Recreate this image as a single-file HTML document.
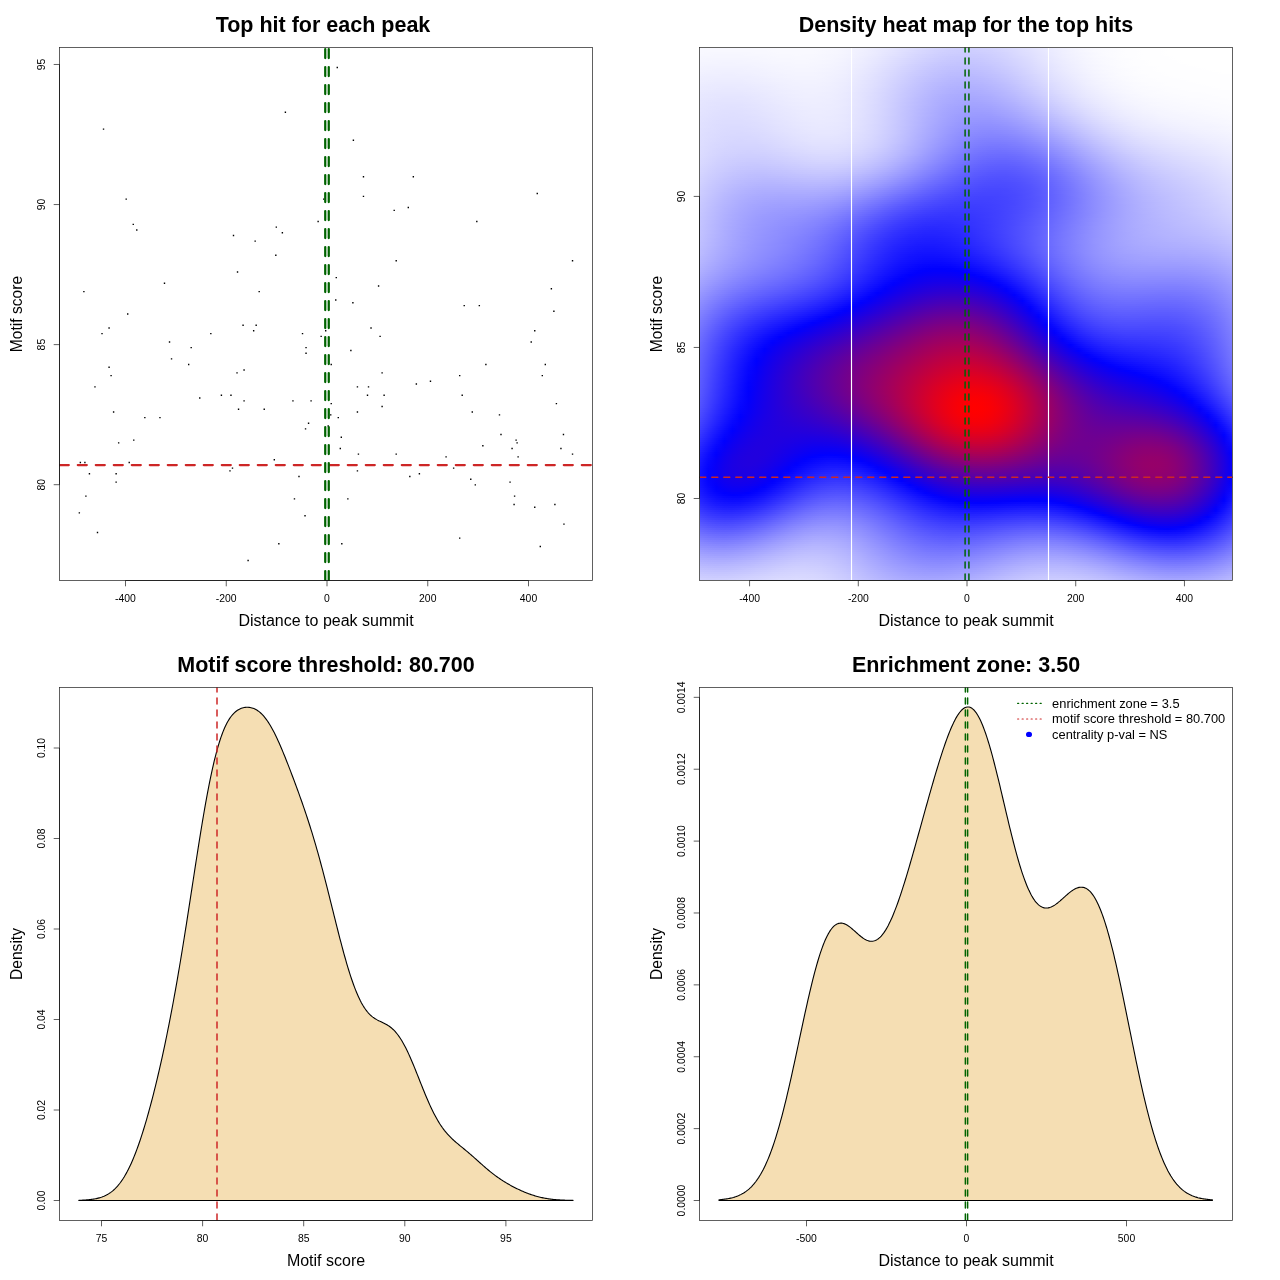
<!DOCTYPE html>
<html><head><meta charset="utf-8"><title>Motif enrichment plots</title>
<style>
html,body{margin:0;padding:0;background:#fff}
body{position:relative;width:1280px;height:1280px;overflow:hidden;font-family:"Liberation Sans",sans-serif}
#hm{position:absolute;left:700px;top:48px;width:532px;height:532px;line-height:0;font-size:0}
#hm i{display:block;width:532px;height:2px}
svg{position:absolute;left:0;top:0;will-change:transform}
text{font-family:"Liberation Sans",sans-serif;fill:#000}
</style></head><body>
<div id="hm"><i style="background:linear-gradient(90deg,#f9f9ff,#f8f8ff,#f8f8ff,#f8f8ff,#f8f8ff,#f8f8ff,#f8f8ff,#f9f9ff,#f9f9ff,#f9f9ff,#fafaff,#fafaff,#fafaff,#fafaff,#f9f9ff,#f9f9ff,#f8f8ff,#f7f7ff,#f5f5ff,#f3f3ff,#f1f1ff,#eeeeff,#ebebff,#e8e8ff,#e5e5ff,#e1e1ff,#dedeff,#dbdbff,#d8d8ff,#d5d5ff,#d3d3ff,#d1d1ff,#d0d0ff,#d0d0ff,#d0d0ff,#d1d1ff,#d3d3ff,#d5d5ff,#d8d8ff,#dbdbff,#dfdfff,#e2e2ff,#e6e6ff,#e9e9ff,#ededff,#f0f0ff,#f3f3ff,#f5f5ff,#f7f7ff,#f9f9ff,#fafaff,#fbfbff,#fcfcff,#fdfdff,#fefeff,#fefeff,#fefeff,#fefeff,#ffffff,#ffffff,#ffffff,#ffffff,#ffffff,#ffffff,#ffffff,#ffffff,#ffffff)"></i><i style="background:linear-gradient(90deg,#f8f8ff,#f8f8ff,#f8f8ff,#f8f8ff,#f8f8ff,#f8f8ff,#f8f8ff,#f8f8ff,#f8f8ff,#f9f9ff,#f9f9ff,#f9f9ff,#f9f9ff,#f9f9ff,#f9f9ff,#f8f8ff,#f7f7ff,#f6f6ff,#f4f4ff,#f2f2ff,#f0f0ff,#ededff,#eaeaff,#e7e7ff,#e4e4ff,#e0e0ff,#ddddff,#d9d9ff,#d6d6ff,#d3d3ff,#d1d1ff,#cfcfff,#ceceff,#ceceff,#ceceff,#d0d0ff,#d1d1ff,#d4d4ff,#d7d7ff,#dadaff,#dedeff,#e1e1ff,#e5e5ff,#e9e9ff,#ececff,#efefff,#f2f2ff,#f5f5ff,#f7f7ff,#f9f9ff,#fafaff,#fbfbff,#fcfcff,#fdfdff,#fdfdff,#fefeff,#fefeff,#fefeff,#ffffff,#ffffff,#ffffff,#ffffff,#ffffff,#ffffff,#ffffff,#ffffff,#ffffff)"></i><i style="background:linear-gradient(90deg,#f8f8ff,#f7f7ff,#f7f7ff,#f7f7ff,#f7f7ff,#f7f7ff,#f7f7ff,#f8f8ff,#f8f8ff,#f8f8ff,#f9f9ff,#f9f9ff,#f9f9ff,#f9f9ff,#f9f9ff,#f8f8ff,#f7f7ff,#f6f6ff,#f4f4ff,#f2f2ff,#efefff,#ededff,#eaeaff,#e6e6ff,#e3e3ff,#dfdfff,#dbdbff,#d8d8ff,#d5d5ff,#d2d2ff,#cfcfff,#ceceff,#cdcdff,#ccccff,#cdcdff,#ceceff,#d0d0ff,#d2d2ff,#d5d5ff,#d9d9ff,#ddddff,#e0e0ff,#e4e4ff,#e8e8ff,#ebebff,#efefff,#f2f2ff,#f4f4ff,#f6f6ff,#f8f8ff,#fafaff,#fbfbff,#fcfcff,#fdfdff,#fdfdff,#fefeff,#fefeff,#fefeff,#ffffff,#ffffff,#ffffff,#ffffff,#ffffff,#ffffff,#ffffff,#ffffff,#ffffff)"></i><i style="background:linear-gradient(90deg,#f7f7ff,#f7f7ff,#f6f6ff,#f6f6ff,#f6f6ff,#f6f6ff,#f7f7ff,#f7f7ff,#f7f7ff,#f8f8ff,#f8f8ff,#f8f8ff,#f9f9ff,#f8f8ff,#f8f8ff,#f7f7ff,#f6f6ff,#f5f5ff,#f3f3ff,#f1f1ff,#efefff,#ececff,#e9e9ff,#e5e5ff,#e2e2ff,#dedeff,#dadaff,#d6d6ff,#d3d3ff,#d0d0ff,#ceceff,#ccccff,#cbcbff,#cbcbff,#cbcbff,#ccccff,#ceceff,#d1d1ff,#d4d4ff,#d8d8ff,#dcdcff,#dfdfff,#e3e3ff,#e7e7ff,#ebebff,#eeeeff,#f1f1ff,#f4f4ff,#f6f6ff,#f8f8ff,#fafaff,#fbfbff,#fcfcff,#fdfdff,#fdfdff,#fefeff,#fefeff,#fefeff,#ffffff,#ffffff,#ffffff,#ffffff,#ffffff,#ffffff,#ffffff,#ffffff,#ffffff)"></i><i style="background:linear-gradient(90deg,#f6f6ff,#f6f6ff,#f6f6ff,#f6f6ff,#f6f6ff,#f6f6ff,#f6f6ff,#f6f6ff,#f7f7ff,#f7f7ff,#f8f8ff,#f8f8ff,#f8f8ff,#f8f8ff,#f8f8ff,#f7f7ff,#f6f6ff,#f5f5ff,#f3f3ff,#f1f1ff,#eeeeff,#ebebff,#e8e8ff,#e4e4ff,#e0e0ff,#ddddff,#d9d9ff,#d5d5ff,#d2d2ff,#cfcfff,#ccccff,#cacaff,#c9c9ff,#c9c9ff,#cacaff,#cbcbff,#cdcdff,#d0d0ff,#d3d3ff,#d7d7ff,#dadaff,#dedeff,#e3e3ff,#e6e6ff,#eaeaff,#eeeeff,#f1f1ff,#f3f3ff,#f6f6ff,#f8f8ff,#f9f9ff,#fbfbff,#fcfcff,#fdfdff,#fdfdff,#fefeff,#fefeff,#fefeff,#fefeff,#ffffff,#ffffff,#ffffff,#ffffff,#ffffff,#ffffff,#ffffff,#ffffff)"></i><i style="background:linear-gradient(90deg,#f6f6ff,#f5f5ff,#f5f5ff,#f5f5ff,#f5f5ff,#f5f5ff,#f5f5ff,#f6f6ff,#f6f6ff,#f7f7ff,#f7f7ff,#f7f7ff,#f8f8ff,#f8f8ff,#f7f7ff,#f7f7ff,#f6f6ff,#f4f4ff,#f2f2ff,#f0f0ff,#ededff,#eaeaff,#e7e7ff,#e3e3ff,#dfdfff,#dbdbff,#d7d7ff,#d4d4ff,#d0d0ff,#cdcdff,#cbcbff,#c9c9ff,#c8c8ff,#c8c8ff,#c8c8ff,#c9c9ff,#ccccff,#ceceff,#d2d2ff,#d5d5ff,#d9d9ff,#ddddff,#e2e2ff,#e6e6ff,#e9e9ff,#ededff,#f0f0ff,#f3f3ff,#f5f5ff,#f7f7ff,#f9f9ff,#fafaff,#fcfcff,#fcfcff,#fdfdff,#fefeff,#fefeff,#fefeff,#fefeff,#ffffff,#ffffff,#ffffff,#ffffff,#ffffff,#ffffff,#ffffff,#ffffff)"></i><i style="background:linear-gradient(90deg,#f5f5ff,#f5f5ff,#f4f4ff,#f4f4ff,#f4f4ff,#f4f4ff,#f5f5ff,#f5f5ff,#f6f6ff,#f6f6ff,#f7f7ff,#f7f7ff,#f7f7ff,#f7f7ff,#f7f7ff,#f6f6ff,#f5f5ff,#f4f4ff,#f2f2ff,#efefff,#ededff,#e9e9ff,#e6e6ff,#e2e2ff,#dedeff,#dadaff,#d6d6ff,#d2d2ff,#cfcfff,#ccccff,#c9c9ff,#c7c7ff,#c6c6ff,#c6c6ff,#c6c6ff,#c8c8ff,#cacaff,#cdcdff,#d0d0ff,#d4d4ff,#d8d8ff,#dcdcff,#e1e1ff,#e5e5ff,#e9e9ff,#ececff,#f0f0ff,#f2f2ff,#f5f5ff,#f7f7ff,#f9f9ff,#fafaff,#fbfbff,#fcfcff,#fdfdff,#fdfdff,#fefeff,#fefeff,#fefeff,#fefeff,#ffffff,#ffffff,#ffffff,#ffffff,#ffffff,#ffffff,#ffffff)"></i><i style="background:linear-gradient(90deg,#f4f4ff,#f4f4ff,#f4f4ff,#f3f3ff,#f3f3ff,#f4f4ff,#f4f4ff,#f4f4ff,#f5f5ff,#f6f6ff,#f6f6ff,#f6f6ff,#f7f7ff,#f7f7ff,#f6f6ff,#f6f6ff,#f5f5ff,#f3f3ff,#f1f1ff,#efefff,#ececff,#e9e9ff,#e5e5ff,#e1e1ff,#ddddff,#d9d9ff,#d5d5ff,#d1d1ff,#cdcdff,#cacaff,#c7c7ff,#c6c6ff,#c4c4ff,#c4c4ff,#c5c5ff,#c6c6ff,#c9c9ff,#cbcbff,#cfcfff,#d3d3ff,#d7d7ff,#dbdbff,#e0e0ff,#e4e4ff,#e8e8ff,#ececff,#efefff,#f2f2ff,#f5f5ff,#f7f7ff,#f9f9ff,#fafaff,#fbfbff,#fcfcff,#fdfdff,#fdfdff,#fefeff,#fefeff,#fefeff,#fefeff,#ffffff,#ffffff,#ffffff,#ffffff,#ffffff,#ffffff,#ffffff)"></i><i style="background:linear-gradient(90deg,#f4f4ff,#f3f3ff,#f3f3ff,#f3f3ff,#f3f3ff,#f3f3ff,#f3f3ff,#f4f4ff,#f4f4ff,#f5f5ff,#f5f5ff,#f6f6ff,#f6f6ff,#f6f6ff,#f6f6ff,#f5f5ff,#f4f4ff,#f3f3ff,#f1f1ff,#eeeeff,#ebebff,#e8e8ff,#e4e4ff,#e0e0ff,#dcdcff,#d8d8ff,#d3d3ff,#cfcfff,#ccccff,#c8c8ff,#c6c6ff,#c4c4ff,#c3c3ff,#c3c3ff,#c3c3ff,#c5c5ff,#c7c7ff,#cacaff,#ceceff,#d2d2ff,#d6d6ff,#dadaff,#dfdfff,#e3e3ff,#e7e7ff,#ebebff,#eeeeff,#f1f1ff,#f4f4ff,#f6f6ff,#f8f8ff,#fafaff,#fbfbff,#fcfcff,#fdfdff,#fdfdff,#fefeff,#fefeff,#fefeff,#fefeff,#fefeff,#ffffff,#ffffff,#ffffff,#ffffff,#ffffff,#ffffff)"></i><i style="background:linear-gradient(90deg,#f3f3ff,#f2f2ff,#f2f2ff,#f2f2ff,#f2f2ff,#f2f2ff,#f2f2ff,#f3f3ff,#f4f4ff,#f4f4ff,#f5f5ff,#f5f5ff,#f6f6ff,#f6f6ff,#f5f5ff,#f5f5ff,#f4f4ff,#f2f2ff,#f0f0ff,#eeeeff,#ebebff,#e7e7ff,#e3e3ff,#dfdfff,#dbdbff,#d6d6ff,#d2d2ff,#ceceff,#cacaff,#c7c7ff,#c4c4ff,#c2c2ff,#c1c1ff,#c1c1ff,#c2c2ff,#c3c3ff,#c5c5ff,#c9c9ff,#ccccff,#d0d0ff,#d5d5ff,#d9d9ff,#dedeff,#e2e2ff,#e6e6ff,#eaeaff,#eeeeff,#f1f1ff,#f4f4ff,#f6f6ff,#f8f8ff,#f9f9ff,#fbfbff,#fcfcff,#fcfcff,#fdfdff,#fdfdff,#fefeff,#fefeff,#fefeff,#fefeff,#fefeff,#ffffff,#ffffff,#ffffff,#ffffff,#ffffff)"></i><i style="background:linear-gradient(90deg,#f2f2ff,#f2f2ff,#f1f1ff,#f1f1ff,#f1f1ff,#f1f1ff,#f2f2ff,#f2f2ff,#f3f3ff,#f4f4ff,#f4f4ff,#f5f5ff,#f5f5ff,#f5f5ff,#f5f5ff,#f4f4ff,#f3f3ff,#f2f2ff,#f0f0ff,#ededff,#eaeaff,#e6e6ff,#e2e2ff,#dedeff,#dadaff,#d5d5ff,#d1d1ff,#cdcdff,#c9c9ff,#c5c5ff,#c3c3ff,#c1c1ff,#c0c0ff,#bfbfff,#c0c0ff,#c2c2ff,#c4c4ff,#c7c7ff,#cbcbff,#cfcfff,#d3d3ff,#d8d8ff,#ddddff,#e1e1ff,#e6e6ff,#eaeaff,#ededff,#f0f0ff,#f3f3ff,#f6f6ff,#f8f8ff,#f9f9ff,#fafaff,#fbfbff,#fcfcff,#fdfdff,#fdfdff,#fefeff,#fefeff,#fefeff,#fefeff,#fefeff,#fefeff,#ffffff,#ffffff,#ffffff,#ffffff)"></i><i style="background:linear-gradient(90deg,#f2f2ff,#f1f1ff,#f0f0ff,#f0f0ff,#f0f0ff,#f0f0ff,#f1f1ff,#f1f1ff,#f2f2ff,#f3f3ff,#f4f4ff,#f4f4ff,#f5f5ff,#f5f5ff,#f5f5ff,#f4f4ff,#f3f3ff,#f1f1ff,#efefff,#ececff,#e9e9ff,#e6e6ff,#e2e2ff,#ddddff,#d9d9ff,#d4d4ff,#d0d0ff,#cbcbff,#c7c7ff,#c4c4ff,#c1c1ff,#bfbfff,#bebeff,#bebeff,#bebeff,#c0c0ff,#c2c2ff,#c6c6ff,#c9c9ff,#ceceff,#d2d2ff,#d7d7ff,#dcdcff,#e0e0ff,#e5e5ff,#e9e9ff,#ededff,#f0f0ff,#f3f3ff,#f5f5ff,#f7f7ff,#f9f9ff,#fafaff,#fbfbff,#fcfcff,#fdfdff,#fdfdff,#fefeff,#fefeff,#fefeff,#fefeff,#fefeff,#fefeff,#fefeff,#ffffff,#ffffff,#ffffff)"></i><i style="background:linear-gradient(90deg,#f1f1ff,#f0f0ff,#f0f0ff,#efefff,#efefff,#f0f0ff,#f0f0ff,#f1f1ff,#f1f1ff,#f2f2ff,#f3f3ff,#f4f4ff,#f4f4ff,#f4f4ff,#f4f4ff,#f3f3ff,#f2f2ff,#f1f1ff,#efefff,#ececff,#e9e9ff,#e5e5ff,#e1e1ff,#dcdcff,#d8d8ff,#d3d3ff,#ceceff,#cacaff,#c6c6ff,#c2c2ff,#c0c0ff,#bdbdff,#bcbcff,#bcbcff,#bdbdff,#bebeff,#c1c1ff,#c4c4ff,#c8c8ff,#ccccff,#d1d1ff,#d6d6ff,#dbdbff,#dfdfff,#e4e4ff,#e8e8ff,#ececff,#efefff,#f2f2ff,#f5f5ff,#f7f7ff,#f8f8ff,#fafaff,#fbfbff,#fcfcff,#fdfdff,#fdfdff,#fdfdff,#fefeff,#fefeff,#fefeff,#fefeff,#fefeff,#fefeff,#fefeff,#ffffff,#ffffff)"></i><i style="background:linear-gradient(90deg,#f0f0ff,#efefff,#efefff,#eeeeff,#eeeeff,#efefff,#efefff,#f0f0ff,#f1f1ff,#f2f2ff,#f2f2ff,#f3f3ff,#f4f4ff,#f4f4ff,#f4f4ff,#f3f3ff,#f2f2ff,#f0f0ff,#eeeeff,#ebebff,#e8e8ff,#e4e4ff,#e0e0ff,#dcdcff,#d7d7ff,#d2d2ff,#cdcdff,#c9c9ff,#c5c5ff,#c1c1ff,#bebeff,#bcbcff,#bbbbff,#babaff,#bbbbff,#bdbdff,#bfbfff,#c2c2ff,#c6c6ff,#cbcbff,#d0d0ff,#d4d4ff,#d9d9ff,#dedeff,#e3e3ff,#e7e7ff,#ebebff,#eeeeff,#f1f1ff,#f4f4ff,#f6f6ff,#f8f8ff,#fafaff,#fbfbff,#fcfcff,#fcfcff,#fdfdff,#fdfdff,#fefeff,#fefeff,#fefeff,#fefeff,#fefeff,#fefeff,#fefeff,#fefeff,#fefeff)"></i><i style="background:linear-gradient(90deg,#efefff,#eeeeff,#eeeeff,#eeeeff,#eeeeff,#eeeeff,#eeeeff,#efefff,#f0f0ff,#f1f1ff,#f2f2ff,#f3f3ff,#f3f3ff,#f3f3ff,#f3f3ff,#f3f3ff,#f1f1ff,#f0f0ff,#eeeeff,#ebebff,#e7e7ff,#e4e4ff,#dfdfff,#dbdbff,#d6d6ff,#d1d1ff,#ccccff,#c7c7ff,#c3c3ff,#c0c0ff,#bdbdff,#babaff,#b9b9ff,#b9b9ff,#b9b9ff,#bbbbff,#bebeff,#c1c1ff,#c5c5ff,#c9c9ff,#ceceff,#d3d3ff,#d8d8ff,#ddddff,#e2e2ff,#e6e6ff,#eaeaff,#eeeeff,#f1f1ff,#f4f4ff,#f6f6ff,#f8f8ff,#f9f9ff,#fafaff,#fbfbff,#fcfcff,#fdfdff,#fdfdff,#fdfdff,#fefeff,#fefeff,#fefeff,#fefeff,#fefeff,#fefeff,#fefeff,#fefeff)"></i><i style="background:linear-gradient(90deg,#eeeeff,#eeeeff,#ededff,#ededff,#ededff,#ededff,#eeeeff,#eeeeff,#efefff,#f0f0ff,#f1f1ff,#f2f2ff,#f3f3ff,#f3f3ff,#f3f3ff,#f2f2ff,#f1f1ff,#efefff,#ededff,#eaeaff,#e7e7ff,#e3e3ff,#dfdfff,#dadaff,#d5d5ff,#d0d0ff,#cbcbff,#c6c6ff,#c2c2ff,#bebeff,#bbbbff,#b9b9ff,#b7b7ff,#b7b7ff,#b8b8ff,#b9b9ff,#bcbcff,#bfbfff,#c3c3ff,#c8c8ff,#cdcdff,#d2d2ff,#d7d7ff,#dcdcff,#e1e1ff,#e5e5ff,#e9e9ff,#ededff,#f0f0ff,#f3f3ff,#f5f5ff,#f7f7ff,#f9f9ff,#fafaff,#fbfbff,#fcfcff,#fcfcff,#fdfdff,#fdfdff,#fdfdff,#fefeff,#fefeff,#fefeff,#fefeff,#fefeff,#fefeff,#fefeff)"></i><i style="background:linear-gradient(90deg,#eeeeff,#ededff,#ececff,#ececff,#ececff,#ececff,#ededff,#eeeeff,#efefff,#f0f0ff,#f1f1ff,#f1f1ff,#f2f2ff,#f2f2ff,#f2f2ff,#f2f2ff,#f1f1ff,#efefff,#ededff,#eaeaff,#e6e6ff,#e2e2ff,#dedeff,#d9d9ff,#d4d4ff,#cfcfff,#cacaff,#c5c5ff,#c1c1ff,#bdbdff,#babaff,#b7b7ff,#b6b6ff,#b6b6ff,#b6b6ff,#b8b8ff,#babaff,#bebeff,#c2c2ff,#c6c6ff,#cbcbff,#d0d0ff,#d6d6ff,#dbdbff,#e0e0ff,#e4e4ff,#e8e8ff,#ececff,#efefff,#f2f2ff,#f5f5ff,#f7f7ff,#f8f8ff,#fafaff,#fbfbff,#fcfcff,#fcfcff,#fdfdff,#fdfdff,#fdfdff,#fdfdff,#fefeff,#fefeff,#fefeff,#fefeff,#fefeff,#fefeff)"></i><i style="background:linear-gradient(90deg,#ededff,#ececff,#ebebff,#ebebff,#ebebff,#ebebff,#ececff,#ededff,#eeeeff,#efefff,#f0f0ff,#f1f1ff,#f1f1ff,#f2f2ff,#f2f2ff,#f1f1ff,#f0f0ff,#eeeeff,#ececff,#e9e9ff,#e6e6ff,#e2e2ff,#ddddff,#d8d8ff,#d3d3ff,#ceceff,#c9c9ff,#c4c4ff,#bfbfff,#bbbbff,#b8b8ff,#b6b6ff,#b4b4ff,#b4b4ff,#b5b5ff,#b6b6ff,#b9b9ff,#bcbcff,#c0c0ff,#c5c5ff,#cacaff,#cfcfff,#d4d4ff,#dadaff,#dedeff,#e3e3ff,#e7e7ff,#ebebff,#efefff,#f2f2ff,#f4f4ff,#f6f6ff,#f8f8ff,#f9f9ff,#fafaff,#fbfbff,#fcfcff,#fcfcff,#fdfdff,#fdfdff,#fdfdff,#fdfdff,#fefeff,#fefeff,#fefeff,#fefeff,#fefeff)"></i><i style="background:linear-gradient(90deg,#ececff,#ebebff,#eaeaff,#eaeaff,#eaeaff,#eaeaff,#ebebff,#ececff,#ededff,#eeeeff,#efefff,#f0f0ff,#f1f1ff,#f1f1ff,#f1f1ff,#f1f1ff,#f0f0ff,#eeeeff,#ececff,#e9e9ff,#e5e5ff,#e1e1ff,#ddddff,#d8d8ff,#d2d2ff,#cdcdff,#c8c8ff,#c3c3ff,#bebeff,#babaff,#b7b7ff,#b4b4ff,#b3b3ff,#b2b2ff,#b3b3ff,#b4b4ff,#b7b7ff,#babaff,#bebeff,#c3c3ff,#c8c8ff,#ceceff,#d3d3ff,#d8d8ff,#ddddff,#e2e2ff,#e6e6ff,#eaeaff,#eeeeff,#f1f1ff,#f3f3ff,#f6f6ff,#f7f7ff,#f9f9ff,#fafaff,#fbfbff,#fcfcff,#fcfcff,#fdfdff,#fdfdff,#fdfdff,#fdfdff,#fdfdff,#fefeff,#fefeff,#fefeff,#fefeff)"></i><i style="background:linear-gradient(90deg,#ebebff,#eaeaff,#eaeaff,#e9e9ff,#e9e9ff,#eaeaff,#eaeaff,#ebebff,#ececff,#ededff,#efefff,#f0f0ff,#f0f0ff,#f1f1ff,#f1f1ff,#f0f0ff,#efefff,#eeeeff,#ebebff,#e8e8ff,#e5e5ff,#e1e1ff,#dcdcff,#d7d7ff,#d2d2ff,#ccccff,#c7c7ff,#c2c2ff,#bdbdff,#b9b9ff,#b5b5ff,#b3b3ff,#b1b1ff,#b1b1ff,#b1b1ff,#b3b3ff,#b5b5ff,#b9b9ff,#bdbdff,#c1c1ff,#c7c7ff,#ccccff,#d1d1ff,#d7d7ff,#dcdcff,#e1e1ff,#e5e5ff,#e9e9ff,#ededff,#f0f0ff,#f3f3ff,#f5f5ff,#f7f7ff,#f8f8ff,#fafaff,#fafaff,#fbfbff,#fcfcff,#fcfcff,#fdfdff,#fdfdff,#fdfdff,#fdfdff,#fdfdff,#fefeff,#fefeff,#fefeff)"></i><i style="background:linear-gradient(90deg,#ebebff,#eaeaff,#e9e9ff,#e8e8ff,#e8e8ff,#e9e9ff,#e9e9ff,#eaeaff,#ececff,#ededff,#eeeeff,#efefff,#f0f0ff,#f0f0ff,#f0f0ff,#f0f0ff,#efefff,#ededff,#ebebff,#e8e8ff,#e4e4ff,#e0e0ff,#dbdbff,#d6d6ff,#d1d1ff,#cbcbff,#c6c6ff,#c1c1ff,#bcbcff,#b8b8ff,#b4b4ff,#b1b1ff,#b0b0ff,#afafff,#b0b0ff,#b1b1ff,#b4b4ff,#b7b7ff,#bbbbff,#c0c0ff,#c5c5ff,#cacaff,#d0d0ff,#d5d5ff,#dbdbff,#e0e0ff,#e4e4ff,#e8e8ff,#ececff,#efefff,#f2f2ff,#f4f4ff,#f6f6ff,#f8f8ff,#f9f9ff,#fafaff,#fbfbff,#fbfbff,#fcfcff,#fcfcff,#fdfdff,#fdfdff,#fdfdff,#fdfdff,#fdfdff,#fefeff,#fefeff)"></i><i style="background:linear-gradient(90deg,#eaeaff,#e9e9ff,#e8e8ff,#e8e8ff,#e8e8ff,#e8e8ff,#e9e9ff,#eaeaff,#ebebff,#ececff,#ededff,#eeeeff,#efefff,#f0f0ff,#f0f0ff,#f0f0ff,#efefff,#ededff,#ebebff,#e8e8ff,#e4e4ff,#e0e0ff,#dbdbff,#d6d6ff,#d0d0ff,#cbcbff,#c5c5ff,#c0c0ff,#bbbbff,#b6b6ff,#b3b3ff,#b0b0ff,#aeaeff,#aeaeff,#aeaeff,#afafff,#b2b2ff,#b5b5ff,#b9b9ff,#bebeff,#c3c3ff,#c9c9ff,#ceceff,#d4d4ff,#d9d9ff,#dedeff,#e3e3ff,#e7e7ff,#ebebff,#eeeeff,#f1f1ff,#f4f4ff,#f6f6ff,#f7f7ff,#f9f9ff,#fafaff,#fafaff,#fbfbff,#fcfcff,#fcfcff,#fcfcff,#fdfdff,#fdfdff,#fdfdff,#fdfdff,#fdfdff,#fdfdff)"></i><i style="background:linear-gradient(90deg,#e9e9ff,#e8e8ff,#e7e7ff,#e7e7ff,#e7e7ff,#e7e7ff,#e8e8ff,#e9e9ff,#eaeaff,#ebebff,#ededff,#eeeeff,#efefff,#efefff,#f0f0ff,#efefff,#eeeeff,#ededff,#eaeaff,#e7e7ff,#e3e3ff,#dfdfff,#dadaff,#d5d5ff,#d0d0ff,#cacaff,#c4c4ff,#bfbfff,#babaff,#b5b5ff,#b2b2ff,#afafff,#adadff,#acacff,#acacff,#aeaeff,#b0b0ff,#b3b3ff,#b7b7ff,#bcbcff,#c1c1ff,#c7c7ff,#cdcdff,#d2d2ff,#d8d8ff,#ddddff,#e2e2ff,#e6e6ff,#eaeaff,#ededff,#f0f0ff,#f3f3ff,#f5f5ff,#f7f7ff,#f8f8ff,#f9f9ff,#fafaff,#fbfbff,#fbfbff,#fcfcff,#fcfcff,#fcfcff,#fcfcff,#fdfdff,#fdfdff,#fdfdff,#fdfdff)"></i><i style="background:linear-gradient(90deg,#e8e8ff,#e7e7ff,#e6e6ff,#e6e6ff,#e6e6ff,#e6e6ff,#e7e7ff,#e8e8ff,#e9e9ff,#ebebff,#ececff,#ededff,#eeeeff,#efefff,#efefff,#efefff,#eeeeff,#ececff,#eaeaff,#e7e7ff,#e3e3ff,#dfdfff,#dadaff,#d5d5ff,#cfcfff,#c9c9ff,#c4c4ff,#bebeff,#b9b9ff,#b4b4ff,#b0b0ff,#adadff,#ababff,#ababff,#ababff,#acacff,#aeaeff,#b2b2ff,#b6b6ff,#babaff,#c0c0ff,#c5c5ff,#cbcbff,#d1d1ff,#d6d6ff,#dbdbff,#e0e0ff,#e5e5ff,#e9e9ff,#ececff,#efefff,#f2f2ff,#f4f4ff,#f6f6ff,#f7f7ff,#f9f9ff,#fafaff,#fafaff,#fbfbff,#fbfbff,#fcfcff,#fcfcff,#fcfcff,#fcfcff,#fdfdff,#fdfdff,#fdfdff)"></i><i style="background:linear-gradient(90deg,#e8e8ff,#e7e7ff,#e6e6ff,#e5e5ff,#e5e5ff,#e5e5ff,#e6e6ff,#e7e7ff,#e9e9ff,#eaeaff,#ebebff,#ededff,#eeeeff,#efefff,#efefff,#eeeeff,#eeeeff,#ececff,#eaeaff,#e7e7ff,#e3e3ff,#dedeff,#dadaff,#d4d4ff,#cfcfff,#c9c9ff,#c3c3ff,#bdbdff,#b8b8ff,#b3b3ff,#afafff,#acacff,#aaaaff,#a9a9ff,#a9a9ff,#aaaaff,#acacff,#b0b0ff,#b4b4ff,#b8b8ff,#bebeff,#c3c3ff,#c9c9ff,#cfcfff,#d4d4ff,#dadaff,#dfdfff,#e4e4ff,#e8e8ff,#ebebff,#eeeeff,#f1f1ff,#f3f3ff,#f5f5ff,#f7f7ff,#f8f8ff,#f9f9ff,#fafaff,#fafaff,#fbfbff,#fbfbff,#fcfcff,#fcfcff,#fcfcff,#fcfcff,#fdfdff,#fdfdff)"></i><i style="background:linear-gradient(90deg,#e7e7ff,#e6e6ff,#e5e5ff,#e4e4ff,#e4e4ff,#e5e5ff,#e5e5ff,#e7e7ff,#e8e8ff,#e9e9ff,#ebebff,#ececff,#ededff,#eeeeff,#eeeeff,#eeeeff,#ededff,#ececff,#e9e9ff,#e6e6ff,#e3e3ff,#dedeff,#d9d9ff,#d4d4ff,#ceceff,#c8c8ff,#c2c2ff,#bcbcff,#b7b7ff,#b2b2ff,#aeaeff,#ababff,#a9a9ff,#a8a8ff,#a7a7ff,#a9a9ff,#ababff,#aeaeff,#b2b2ff,#b6b6ff,#bcbcff,#c1c1ff,#c7c7ff,#cdcdff,#d3d3ff,#d8d8ff,#ddddff,#e2e2ff,#e6e6ff,#eaeaff,#ededff,#f0f0ff,#f3f3ff,#f5f5ff,#f6f6ff,#f7f7ff,#f8f8ff,#f9f9ff,#fafaff,#fafaff,#fbfbff,#fbfbff,#fbfbff,#fcfcff,#fcfcff,#fcfcff,#fdfdff)"></i><i style="background:linear-gradient(90deg,#e6e6ff,#e5e5ff,#e4e4ff,#e4e4ff,#e4e4ff,#e4e4ff,#e5e5ff,#e6e6ff,#e7e7ff,#e9e9ff,#eaeaff,#ececff,#ededff,#eeeeff,#eeeeff,#eeeeff,#ededff,#ebebff,#e9e9ff,#e6e6ff,#e2e2ff,#dedeff,#d9d9ff,#d3d3ff,#ceceff,#c8c8ff,#c2c2ff,#bcbcff,#b6b6ff,#b1b1ff,#adadff,#aaaaff,#a7a7ff,#a6a6ff,#a6a6ff,#a7a7ff,#a9a9ff,#acacff,#b0b0ff,#b5b5ff,#babaff,#bfbfff,#c5c5ff,#cbcbff,#d1d1ff,#d7d7ff,#dcdcff,#e1e1ff,#e5e5ff,#e9e9ff,#ececff,#efefff,#f2f2ff,#f4f4ff,#f5f5ff,#f7f7ff,#f8f8ff,#f9f9ff,#f9f9ff,#fafaff,#fafaff,#fbfbff,#fbfbff,#fbfbff,#fcfcff,#fcfcff,#fcfcff)"></i><i style="background:linear-gradient(90deg,#e6e6ff,#e4e4ff,#e3e3ff,#e3e3ff,#e3e3ff,#e3e3ff,#e4e4ff,#e5e5ff,#e7e7ff,#e8e8ff,#eaeaff,#ebebff,#ececff,#ededff,#eeeeff,#ededff,#ededff,#ebebff,#e9e9ff,#e6e6ff,#e2e2ff,#dedeff,#d9d9ff,#d3d3ff,#cdcdff,#c7c7ff,#c1c1ff,#bbbbff,#b6b6ff,#b0b0ff,#acacff,#a9a9ff,#a6a6ff,#a5a5ff,#a4a4ff,#a5a5ff,#a7a7ff,#aaaaff,#aeaeff,#b2b2ff,#b8b8ff,#bdbdff,#c3c3ff,#c9c9ff,#cfcfff,#d5d5ff,#dadaff,#dfdfff,#e4e4ff,#e8e8ff,#ebebff,#eeeeff,#f1f1ff,#f3f3ff,#f5f5ff,#f6f6ff,#f7f7ff,#f8f8ff,#f9f9ff,#f9f9ff,#fafaff,#fafaff,#fbfbff,#fbfbff,#fbfbff,#fcfcff,#fcfcff)"></i><i style="background:linear-gradient(90deg,#e5e5ff,#e4e4ff,#e3e3ff,#e2e2ff,#e2e2ff,#e2e2ff,#e3e3ff,#e4e4ff,#e6e6ff,#e7e7ff,#e9e9ff,#ebebff,#ececff,#ededff,#ededff,#ededff,#ececff,#ebebff,#e9e9ff,#e6e6ff,#e2e2ff,#ddddff,#d8d8ff,#d3d3ff,#cdcdff,#c7c7ff,#c1c1ff,#bbbbff,#b5b5ff,#b0b0ff,#ababff,#a7a7ff,#a5a5ff,#a3a3ff,#a3a3ff,#a3a3ff,#a5a5ff,#a8a8ff,#acacff,#b0b0ff,#b6b6ff,#bbbbff,#c1c1ff,#c7c7ff,#cdcdff,#d3d3ff,#d8d8ff,#dedeff,#e2e2ff,#e6e6ff,#eaeaff,#ededff,#f0f0ff,#f2f2ff,#f4f4ff,#f5f5ff,#f7f7ff,#f8f8ff,#f8f8ff,#f9f9ff,#f9f9ff,#fafaff,#fafaff,#fbfbff,#fbfbff,#fbfbff,#fcfcff)"></i><i style="background:linear-gradient(90deg,#e5e5ff,#e3e3ff,#e2e2ff,#e2e2ff,#e1e1ff,#e2e2ff,#e3e3ff,#e4e4ff,#e5e5ff,#e7e7ff,#e8e8ff,#eaeaff,#ebebff,#ececff,#ededff,#ededff,#ececff,#ebebff,#e8e8ff,#e5e5ff,#e2e2ff,#ddddff,#d8d8ff,#d3d3ff,#cdcdff,#c6c6ff,#c0c0ff,#babaff,#b4b4ff,#afafff,#aaaaff,#a6a6ff,#a3a3ff,#a2a2ff,#a1a1ff,#a2a2ff,#a3a3ff,#a6a6ff,#aaaaff,#aeaeff,#b3b3ff,#b9b9ff,#bfbfff,#c5c5ff,#cbcbff,#d1d1ff,#d7d7ff,#dcdcff,#e1e1ff,#e5e5ff,#e9e9ff,#ececff,#efefff,#f1f1ff,#f3f3ff,#f5f5ff,#f6f6ff,#f7f7ff,#f8f8ff,#f8f8ff,#f9f9ff,#f9f9ff,#fafaff,#fafaff,#fbfbff,#fbfbff,#fbfbff)"></i><i style="background:linear-gradient(90deg,#e4e4ff,#e3e3ff,#e2e2ff,#e1e1ff,#e1e1ff,#e1e1ff,#e2e2ff,#e3e3ff,#e5e5ff,#e6e6ff,#e8e8ff,#e9e9ff,#ebebff,#ececff,#ececff,#ececff,#ececff,#eaeaff,#e8e8ff,#e5e5ff,#e1e1ff,#ddddff,#d8d8ff,#d2d2ff,#ccccff,#c6c6ff,#c0c0ff,#b9b9ff,#b3b3ff,#aeaeff,#a9a9ff,#a5a5ff,#a2a2ff,#a0a0ff,#9f9fff,#a0a0ff,#a1a1ff,#a4a4ff,#a8a8ff,#acacff,#b1b1ff,#b7b7ff,#bdbdff,#c3c3ff,#c9c9ff,#cfcfff,#d5d5ff,#dadaff,#dfdfff,#e3e3ff,#e7e7ff,#ebebff,#eeeeff,#f0f0ff,#f2f2ff,#f4f4ff,#f5f5ff,#f6f6ff,#f7f7ff,#f8f8ff,#f8f8ff,#f9f9ff,#f9f9ff,#fafaff,#fafaff,#fbfbff,#fbfbff)"></i><i style="background:linear-gradient(90deg,#e4e4ff,#e2e2ff,#e1e1ff,#e0e0ff,#e0e0ff,#e0e0ff,#e1e1ff,#e2e2ff,#e4e4ff,#e6e6ff,#e7e7ff,#e9e9ff,#eaeaff,#ebebff,#ececff,#ececff,#ebebff,#eaeaff,#e8e8ff,#e5e5ff,#e1e1ff,#ddddff,#d8d8ff,#d2d2ff,#ccccff,#c6c6ff,#bfbfff,#b9b9ff,#b3b3ff,#adadff,#a8a8ff,#a4a4ff,#a1a1ff,#9f9fff,#9e9eff,#9e9eff,#9f9fff,#a2a2ff,#a5a5ff,#aaaaff,#afafff,#b4b4ff,#babaff,#c1c1ff,#c7c7ff,#cdcdff,#d3d3ff,#d8d8ff,#ddddff,#e2e2ff,#e6e6ff,#e9e9ff,#ececff,#efefff,#f1f1ff,#f3f3ff,#f4f4ff,#f5f5ff,#f6f6ff,#f7f7ff,#f8f8ff,#f8f8ff,#f9f9ff,#f9f9ff,#fafaff,#fafaff,#fbfbff)"></i><i style="background:linear-gradient(90deg,#e3e3ff,#e2e2ff,#e0e0ff,#e0e0ff,#dfdfff,#e0e0ff,#e1e1ff,#e2e2ff,#e3e3ff,#e5e5ff,#e7e7ff,#e8e8ff,#eaeaff,#ebebff,#ececff,#ececff,#ebebff,#eaeaff,#e8e8ff,#e5e5ff,#e1e1ff,#ddddff,#d8d8ff,#d2d2ff,#ccccff,#c5c5ff,#bfbfff,#b8b8ff,#b2b2ff,#acacff,#a7a7ff,#a3a3ff,#a0a0ff,#9d9dff,#9c9cff,#9c9cff,#9d9dff,#a0a0ff,#a3a3ff,#a7a7ff,#acacff,#b2b2ff,#b8b8ff,#bebeff,#c5c5ff,#cbcbff,#d1d1ff,#d6d6ff,#dcdcff,#e0e0ff,#e4e4ff,#e8e8ff,#ebebff,#eeeeff,#f0f0ff,#f2f2ff,#f3f3ff,#f5f5ff,#f5f5ff,#f6f6ff,#f7f7ff,#f7f7ff,#f8f8ff,#f9f9ff,#f9f9ff,#fafaff,#fafaff)"></i><i style="background:linear-gradient(90deg,#e3e3ff,#e1e1ff,#e0e0ff,#dfdfff,#dfdfff,#dfdfff,#e0e0ff,#e1e1ff,#e3e3ff,#e4e4ff,#e6e6ff,#e8e8ff,#e9e9ff,#ebebff,#ebebff,#ebebff,#ebebff,#e9e9ff,#e7e7ff,#e4e4ff,#e1e1ff,#dcdcff,#d7d7ff,#d2d2ff,#ccccff,#c5c5ff,#bfbfff,#b8b8ff,#b2b2ff,#acacff,#a6a6ff,#a2a2ff,#9e9eff,#9c9cff,#9b9bff,#9a9aff,#9b9bff,#9e9eff,#a1a1ff,#a5a5ff,#aaaaff,#b0b0ff,#b6b6ff,#bcbcff,#c2c2ff,#c9c9ff,#cfcfff,#d4d4ff,#dadaff,#dfdfff,#e3e3ff,#e7e7ff,#eaeaff,#ededff,#efefff,#f1f1ff,#f2f2ff,#f4f4ff,#f5f5ff,#f5f5ff,#f6f6ff,#f7f7ff,#f7f7ff,#f8f8ff,#f9f9ff,#f9f9ff,#fafaff)"></i><i style="background:linear-gradient(90deg,#e2e2ff,#e1e1ff,#dfdfff,#dfdfff,#dedeff,#dfdfff,#dfdfff,#e0e0ff,#e2e2ff,#e4e4ff,#e6e6ff,#e7e7ff,#e9e9ff,#eaeaff,#ebebff,#ebebff,#eaeaff,#e9e9ff,#e7e7ff,#e4e4ff,#e1e1ff,#dcdcff,#d7d7ff,#d1d1ff,#cbcbff,#c5c5ff,#bebeff,#b7b7ff,#b1b1ff,#ababff,#a6a6ff,#a1a1ff,#9d9dff,#9a9aff,#9999ff,#9999ff,#9999ff,#9b9bff,#9f9fff,#a3a3ff,#a8a8ff,#adadff,#b3b3ff,#b9b9ff,#c0c0ff,#c6c6ff,#ccccff,#d2d2ff,#d8d8ff,#ddddff,#e1e1ff,#e5e5ff,#e9e9ff,#ebebff,#eeeeff,#f0f0ff,#f1f1ff,#f3f3ff,#f4f4ff,#f5f5ff,#f5f5ff,#f6f6ff,#f7f7ff,#f7f7ff,#f8f8ff,#f9f9ff,#f9f9ff)"></i><i style="background:linear-gradient(90deg,#e2e2ff,#e0e0ff,#dfdfff,#dedeff,#dedeff,#dedeff,#dfdfff,#e0e0ff,#e1e1ff,#e3e3ff,#e5e5ff,#e7e7ff,#e8e8ff,#eaeaff,#eaeaff,#ebebff,#eaeaff,#e9e9ff,#e7e7ff,#e4e4ff,#e0e0ff,#dcdcff,#d7d7ff,#d1d1ff,#cbcbff,#c5c5ff,#bebeff,#b7b7ff,#b0b0ff,#aaaaff,#a5a5ff,#a0a0ff,#9c9cff,#9999ff,#9797ff,#9797ff,#9797ff,#9999ff,#9c9cff,#a0a0ff,#a5a5ff,#ababff,#b1b1ff,#b7b7ff,#bdbdff,#c4c4ff,#cacaff,#d0d0ff,#d6d6ff,#dbdbff,#e0e0ff,#e4e4ff,#e7e7ff,#eaeaff,#ededff,#efefff,#f0f0ff,#f2f2ff,#f3f3ff,#f4f4ff,#f5f5ff,#f5f5ff,#f6f6ff,#f7f7ff,#f7f7ff,#f8f8ff,#f9f9ff)"></i><i style="background:linear-gradient(90deg,#e2e2ff,#e0e0ff,#dedeff,#ddddff,#ddddff,#ddddff,#dedeff,#dfdfff,#e1e1ff,#e2e2ff,#e4e4ff,#e6e6ff,#e8e8ff,#e9e9ff,#eaeaff,#eaeaff,#eaeaff,#e9e9ff,#e7e7ff,#e4e4ff,#e0e0ff,#dcdcff,#d7d7ff,#d1d1ff,#cbcbff,#c4c4ff,#bdbdff,#b7b7ff,#b0b0ff,#aaaaff,#a4a4ff,#9f9fff,#9b9bff,#9898ff,#9696ff,#9595ff,#9595ff,#9797ff,#9a9aff,#9e9eff,#a2a2ff,#a8a8ff,#aeaeff,#b4b4ff,#bbbbff,#c1c1ff,#c8c8ff,#ceceff,#d4d4ff,#d9d9ff,#dedeff,#e2e2ff,#e6e6ff,#e9e9ff,#ebebff,#ededff,#efefff,#f1f1ff,#f2f2ff,#f3f3ff,#f4f4ff,#f4f4ff,#f5f5ff,#f6f6ff,#f7f7ff,#f7f7ff,#f8f8ff)"></i><i style="background:linear-gradient(90deg,#e1e1ff,#dfdfff,#dedeff,#ddddff,#ddddff,#ddddff,#ddddff,#dedeff,#e0e0ff,#e2e2ff,#e4e4ff,#e5e5ff,#e7e7ff,#e8e8ff,#e9e9ff,#eaeaff,#e9e9ff,#e8e8ff,#e6e6ff,#e4e4ff,#e0e0ff,#dcdcff,#d7d7ff,#d1d1ff,#cbcbff,#c4c4ff,#bdbdff,#b6b6ff,#afafff,#a9a9ff,#a3a3ff,#9e9eff,#9999ff,#9696ff,#9494ff,#9393ff,#9393ff,#9595ff,#9797ff,#9b9bff,#a0a0ff,#a5a5ff,#ababff,#b2b2ff,#b8b8ff,#bfbfff,#c5c5ff,#ccccff,#d2d2ff,#d7d7ff,#dcdcff,#e0e0ff,#e4e4ff,#e7e7ff,#eaeaff,#ececff,#eeeeff,#f0f0ff,#f1f1ff,#f2f2ff,#f3f3ff,#f4f4ff,#f4f4ff,#f5f5ff,#f6f6ff,#f7f7ff,#f8f8ff)"></i><i style="background:linear-gradient(90deg,#e1e1ff,#dfdfff,#ddddff,#dcdcff,#dcdcff,#dcdcff,#ddddff,#dedeff,#dfdfff,#e1e1ff,#e3e3ff,#e5e5ff,#e7e7ff,#e8e8ff,#e9e9ff,#e9e9ff,#e9e9ff,#e8e8ff,#e6e6ff,#e3e3ff,#e0e0ff,#dbdbff,#d6d6ff,#d1d1ff,#cacaff,#c4c4ff,#bdbdff,#b6b6ff,#afafff,#a8a8ff,#a2a2ff,#9d9dff,#9898ff,#9595ff,#9292ff,#9191ff,#9191ff,#9292ff,#9595ff,#9999ff,#9d9dff,#a2a2ff,#a8a8ff,#afafff,#b6b6ff,#bcbcff,#c3c3ff,#c9c9ff,#cfcfff,#d5d5ff,#dadaff,#dedeff,#e2e2ff,#e6e6ff,#e9e9ff,#ebebff,#ededff,#eeeeff,#f0f0ff,#f1f1ff,#f2f2ff,#f3f3ff,#f4f4ff,#f4f4ff,#f5f5ff,#f6f6ff,#f7f7ff)"></i><i style="background:linear-gradient(90deg,#e1e1ff,#dfdfff,#ddddff,#dcdcff,#dbdbff,#dbdbff,#dcdcff,#ddddff,#dfdfff,#e0e0ff,#e2e2ff,#e4e4ff,#e6e6ff,#e7e7ff,#e8e8ff,#e9e9ff,#e8e8ff,#e7e7ff,#e6e6ff,#e3e3ff,#dfdfff,#dbdbff,#d6d6ff,#d0d0ff,#cacaff,#c3c3ff,#bcbcff,#b5b5ff,#aeaeff,#a7a7ff,#a1a1ff,#9b9bff,#9797ff,#9393ff,#9090ff,#8f8fff,#8f8fff,#9090ff,#9292ff,#9696ff,#9a9aff,#a0a0ff,#a6a6ff,#acacff,#b3b3ff,#babaff,#c0c0ff,#c7c7ff,#cdcdff,#d3d3ff,#d8d8ff,#ddddff,#e1e1ff,#e4e4ff,#e7e7ff,#eaeaff,#ececff,#ededff,#efefff,#f0f0ff,#f1f1ff,#f2f2ff,#f3f3ff,#f3f3ff,#f4f4ff,#f5f5ff,#f6f6ff)"></i><i style="background:linear-gradient(90deg,#e0e0ff,#dedeff,#ddddff,#dbdbff,#dbdbff,#dbdbff,#dbdbff,#dcdcff,#dedeff,#e0e0ff,#e2e2ff,#e3e3ff,#e5e5ff,#e7e7ff,#e8e8ff,#e8e8ff,#e8e8ff,#e7e7ff,#e5e5ff,#e2e2ff,#dfdfff,#dbdbff,#d6d6ff,#d0d0ff,#cacaff,#c3c3ff,#bcbcff,#b4b4ff,#adadff,#a6a6ff,#a0a0ff,#9a9aff,#9595ff,#9191ff,#8f8fff,#8d8dff,#8d8dff,#8e8eff,#9090ff,#9393ff,#9898ff,#9d9dff,#a3a3ff,#a9a9ff,#b0b0ff,#b7b7ff,#bebeff,#c4c4ff,#cbcbff,#d1d1ff,#d6d6ff,#dbdbff,#dfdfff,#e3e3ff,#e6e6ff,#e8e8ff,#eaeaff,#ececff,#ededff,#efefff,#f0f0ff,#f1f1ff,#f2f2ff,#f3f3ff,#f4f4ff,#f5f5ff,#f6f6ff)"></i><i style="background:linear-gradient(90deg,#e0e0ff,#dedeff,#dcdcff,#dbdbff,#dadaff,#dadaff,#dbdbff,#dcdcff,#ddddff,#dfdfff,#e1e1ff,#e3e3ff,#e4e4ff,#e6e6ff,#e7e7ff,#e7e7ff,#e7e7ff,#e6e6ff,#e5e5ff,#e2e2ff,#dfdfff,#dadaff,#d5d5ff,#cfcfff,#c9c9ff,#c2c2ff,#bbbbff,#b4b4ff,#adadff,#a6a6ff,#9f9fff,#9999ff,#9494ff,#9090ff,#8d8dff,#8b8bff,#8a8aff,#8b8bff,#8d8dff,#9090ff,#9595ff,#9a9aff,#a0a0ff,#a6a6ff,#adadff,#b4b4ff,#bbbbff,#c2c2ff,#c8c8ff,#ceceff,#d4d4ff,#d9d9ff,#ddddff,#e1e1ff,#e4e4ff,#e7e7ff,#e9e9ff,#ebebff,#ececff,#ededff,#efefff,#f0f0ff,#f1f1ff,#f2f2ff,#f3f3ff,#f4f4ff,#f5f5ff)"></i><i style="background:linear-gradient(90deg,#e0e0ff,#ddddff,#dcdcff,#dadaff,#dadaff,#d9d9ff,#dadaff,#dbdbff,#dcdcff,#dedeff,#e0e0ff,#e2e2ff,#e4e4ff,#e5e5ff,#e6e6ff,#e7e7ff,#e7e7ff,#e6e6ff,#e4e4ff,#e1e1ff,#dedeff,#dadaff,#d5d5ff,#cfcfff,#c9c9ff,#c2c2ff,#babaff,#b3b3ff,#acacff,#a5a5ff,#9e9eff,#9898ff,#9292ff,#8e8eff,#8b8bff,#8989ff,#8888ff,#8989ff,#8b8bff,#8e8eff,#9292ff,#9797ff,#9d9dff,#a3a3ff,#aaaaff,#b1b1ff,#b8b8ff,#bfbfff,#c6c6ff,#ccccff,#d2d2ff,#d7d7ff,#dbdbff,#dfdfff,#e2e2ff,#e5e5ff,#e7e7ff,#e9e9ff,#ebebff,#ececff,#ededff,#efefff,#f0f0ff,#f1f1ff,#f2f2ff,#f3f3ff,#f4f4ff)"></i><i style="background:linear-gradient(90deg,#dfdfff,#ddddff,#dbdbff,#dadaff,#d9d9ff,#d9d9ff,#d9d9ff,#dadaff,#dbdbff,#ddddff,#dfdfff,#e1e1ff,#e3e3ff,#e4e4ff,#e5e5ff,#e6e6ff,#e6e6ff,#e5e5ff,#e3e3ff,#e1e1ff,#ddddff,#d9d9ff,#d4d4ff,#ceceff,#c8c8ff,#c1c1ff,#babaff,#b2b2ff,#ababff,#a4a4ff,#9d9dff,#9696ff,#9191ff,#8c8cff,#8989ff,#8787ff,#8686ff,#8686ff,#8888ff,#8b8bff,#8f8fff,#9494ff,#9a9aff,#a0a0ff,#a7a7ff,#aeaeff,#b5b5ff,#bdbdff,#c3c3ff,#cacaff,#cfcfff,#d5d5ff,#d9d9ff,#ddddff,#e1e1ff,#e4e4ff,#e6e6ff,#e8e8ff,#eaeaff,#ebebff,#ececff,#ededff,#efefff,#f0f0ff,#f1f1ff,#f2f2ff,#f3f3ff)"></i><i style="background:linear-gradient(90deg,#dfdfff,#ddddff,#dbdbff,#d9d9ff,#d8d8ff,#d8d8ff,#d8d8ff,#d9d9ff,#dbdbff,#dcdcff,#dedeff,#e0e0ff,#e2e2ff,#e3e3ff,#e5e5ff,#e5e5ff,#e5e5ff,#e4e4ff,#e3e3ff,#e0e0ff,#ddddff,#d9d9ff,#d3d3ff,#ceceff,#c7c7ff,#c0c0ff,#b9b9ff,#b1b1ff,#aaaaff,#a3a3ff,#9c9cff,#9595ff,#8f8fff,#8b8bff,#8787ff,#8585ff,#8484ff,#8484ff,#8585ff,#8888ff,#8c8cff,#9191ff,#9797ff,#9d9dff,#a4a4ff,#ababff,#b3b3ff,#babaff,#c1c1ff,#c7c7ff,#cdcdff,#d3d3ff,#d7d7ff,#dbdbff,#dfdfff,#e2e2ff,#e4e4ff,#e6e6ff,#e8e8ff,#eaeaff,#ebebff,#ececff,#eeeeff,#efefff,#f0f0ff,#f1f1ff,#f3f3ff)"></i><i style="background:linear-gradient(90deg,#dfdfff,#dcdcff,#dadaff,#d9d9ff,#d8d8ff,#d7d7ff,#d8d8ff,#d8d8ff,#dadaff,#dbdbff,#ddddff,#dfdfff,#e1e1ff,#e3e3ff,#e4e4ff,#e4e4ff,#e4e4ff,#e3e3ff,#e2e2ff,#dfdfff,#dcdcff,#d8d8ff,#d3d3ff,#cdcdff,#c6c6ff,#c0c0ff,#b8b8ff,#b1b1ff,#a9a9ff,#a1a1ff,#9a9aff,#9494ff,#8e8eff,#8989ff,#8585ff,#8282ff,#8181ff,#8181ff,#8383ff,#8585ff,#8989ff,#8e8eff,#9494ff,#9a9aff,#a1a1ff,#a8a8ff,#b0b0ff,#b7b7ff,#bebeff,#c5c5ff,#cbcbff,#d0d0ff,#d5d5ff,#dadaff,#ddddff,#e0e0ff,#e3e3ff,#e5e5ff,#e7e7ff,#e8e8ff,#eaeaff,#ebebff,#ececff,#eeeeff,#efefff,#f0f0ff,#f2f2ff)"></i><i style="background:linear-gradient(90deg,#dedeff,#dcdcff,#dadaff,#d8d8ff,#d7d7ff,#d6d6ff,#d7d7ff,#d7d7ff,#d9d9ff,#dadaff,#dcdcff,#dedeff,#e0e0ff,#e2e2ff,#e3e3ff,#e3e3ff,#e3e3ff,#e3e3ff,#e1e1ff,#dfdfff,#dbdbff,#d7d7ff,#d2d2ff,#ccccff,#c6c6ff,#bfbfff,#b7b7ff,#afafff,#a8a8ff,#a0a0ff,#9999ff,#9292ff,#8c8cff,#8787ff,#8383ff,#8080ff,#7f7fff,#7f7fff,#8080ff,#8282ff,#8686ff,#8b8bff,#9191ff,#9797ff,#9e9eff,#a5a5ff,#adadff,#b4b4ff,#bbbbff,#c2c2ff,#c9c9ff,#ceceff,#d3d3ff,#d8d8ff,#dbdbff,#dfdfff,#e1e1ff,#e3e3ff,#e5e5ff,#e7e7ff,#e8e8ff,#eaeaff,#ebebff,#ededff,#eeeeff,#f0f0ff,#f1f1ff)"></i><i style="background:linear-gradient(90deg,#dedeff,#dbdbff,#d9d9ff,#d7d7ff,#d6d6ff,#d6d6ff,#d6d6ff,#d6d6ff,#d8d8ff,#d9d9ff,#dbdbff,#ddddff,#dfdfff,#e0e0ff,#e2e2ff,#e2e2ff,#e2e2ff,#e2e2ff,#e0e0ff,#dedeff,#dadaff,#d6d6ff,#d1d1ff,#cbcbff,#c5c5ff,#bebeff,#b6b6ff,#aeaeff,#a6a6ff,#9f9fff,#9797ff,#9191ff,#8a8aff,#8585ff,#8181ff,#7e7eff,#7c7cff,#7c7cff,#7d7dff,#7f7fff,#8383ff,#8888ff,#8d8dff,#9494ff,#9b9bff,#a2a2ff,#aaaaff,#b2b2ff,#b9b9ff,#c0c0ff,#c6c6ff,#ccccff,#d1d1ff,#d6d6ff,#dadaff,#ddddff,#e0e0ff,#e2e2ff,#e4e4ff,#e6e6ff,#e7e7ff,#e9e9ff,#eaeaff,#ececff,#ededff,#efefff,#f0f0ff)"></i><i style="background:linear-gradient(90deg,#dedeff,#dbdbff,#d8d8ff,#d7d7ff,#d5d5ff,#d5d5ff,#d5d5ff,#d5d5ff,#d6d6ff,#d8d8ff,#dadaff,#dcdcff,#dedeff,#dfdfff,#e1e1ff,#e1e1ff,#e1e1ff,#e0e0ff,#dfdfff,#dcdcff,#d9d9ff,#d5d5ff,#d0d0ff,#cacaff,#c3c3ff,#bcbcff,#b5b5ff,#adadff,#a5a5ff,#9d9dff,#9696ff,#8f8fff,#8989ff,#8383ff,#7f7fff,#7c7cff,#7a7aff,#7979ff,#7a7aff,#7d7dff,#8080ff,#8585ff,#8a8aff,#9191ff,#9898ff,#9f9fff,#a7a7ff,#afafff,#b6b6ff,#bdbdff,#c4c4ff,#cacaff,#cfcfff,#d4d4ff,#d8d8ff,#dbdbff,#dedeff,#e0e0ff,#e2e2ff,#e4e4ff,#e6e6ff,#e7e7ff,#e9e9ff,#eaeaff,#ececff,#eeeeff,#efefff)"></i><i style="background:linear-gradient(90deg,#ddddff,#dadaff,#d8d8ff,#d6d6ff,#d4d4ff,#d4d4ff,#d4d4ff,#d4d4ff,#d5d5ff,#d7d7ff,#d9d9ff,#dbdbff,#dcdcff,#dedeff,#dfdfff,#e0e0ff,#e0e0ff,#dfdfff,#dedeff,#dbdbff,#d8d8ff,#d4d4ff,#cfcfff,#c9c9ff,#c2c2ff,#bbbbff,#b3b3ff,#acacff,#a4a4ff,#9c9cff,#9494ff,#8d8dff,#8787ff,#8181ff,#7d7dff,#7979ff,#7777ff,#7777ff,#7878ff,#7a7aff,#7d7dff,#8282ff,#8787ff,#8e8eff,#9595ff,#9c9cff,#a4a4ff,#acacff,#b3b3ff,#bbbbff,#c1c1ff,#c7c7ff,#cdcdff,#d2d2ff,#d6d6ff,#d9d9ff,#dcdcff,#dfdfff,#e1e1ff,#e3e3ff,#e4e4ff,#e6e6ff,#e8e8ff,#e9e9ff,#ebebff,#ededff,#eeeeff)"></i><i style="background:linear-gradient(90deg,#ddddff,#dadaff,#d7d7ff,#d5d5ff,#d4d4ff,#d3d3ff,#d3d3ff,#d3d3ff,#d4d4ff,#d6d6ff,#d7d7ff,#d9d9ff,#dbdbff,#ddddff,#dedeff,#dfdfff,#dfdfff,#dedeff,#dcdcff,#dadaff,#d7d7ff,#d2d2ff,#cdcdff,#c7c7ff,#c1c1ff,#babaff,#b2b2ff,#aaaaff,#a2a2ff,#9a9aff,#9292ff,#8b8bff,#8585ff,#7f7fff,#7a7aff,#7777ff,#7575ff,#7474ff,#7575ff,#7777ff,#7a7aff,#7f7fff,#8484ff,#8b8bff,#9292ff,#9999ff,#a1a1ff,#a9a9ff,#b1b1ff,#b8b8ff,#bfbfff,#c5c5ff,#cbcbff,#d0d0ff,#d4d4ff,#d7d7ff,#dadaff,#ddddff,#dfdfff,#e1e1ff,#e3e3ff,#e5e5ff,#e6e6ff,#e8e8ff,#eaeaff,#ececff,#eeeeff)"></i><i style="background:linear-gradient(90deg,#dcdcff,#d9d9ff,#d6d6ff,#d4d4ff,#d3d3ff,#d2d2ff,#d1d1ff,#d2d2ff,#d3d3ff,#d4d4ff,#d6d6ff,#d8d8ff,#dadaff,#dbdbff,#ddddff,#ddddff,#ddddff,#ddddff,#dbdbff,#d9d9ff,#d5d5ff,#d1d1ff,#ccccff,#c6c6ff,#bfbfff,#b8b8ff,#b0b0ff,#a8a8ff,#a0a0ff,#9898ff,#9191ff,#8989ff,#8383ff,#7d7dff,#7878ff,#7575ff,#7272ff,#7171ff,#7272ff,#7474ff,#7777ff,#7c7cff,#8181ff,#8888ff,#8f8fff,#9696ff,#9e9eff,#a6a6ff,#aeaeff,#b6b6ff,#bcbcff,#c3c3ff,#c9c9ff,#ceceff,#d2d2ff,#d6d6ff,#d9d9ff,#dbdbff,#dedeff,#e0e0ff,#e2e2ff,#e3e3ff,#e5e5ff,#e7e7ff,#e9e9ff,#ebebff,#ededff)"></i><i style="background:linear-gradient(90deg,#dcdcff,#d8d8ff,#d6d6ff,#d3d3ff,#d2d2ff,#d1d1ff,#d0d0ff,#d1d1ff,#d1d1ff,#d3d3ff,#d4d4ff,#d6d6ff,#d8d8ff,#dadaff,#dbdbff,#dcdcff,#dcdcff,#dbdbff,#d9d9ff,#d7d7ff,#d4d4ff,#cfcfff,#cacaff,#c4c4ff,#bdbdff,#b6b6ff,#afafff,#a7a7ff,#9e9eff,#9696ff,#8f8fff,#8787ff,#8181ff,#7b7bff,#7676ff,#7272ff,#7070ff,#6f6fff,#6f6fff,#7171ff,#7474ff,#7979ff,#7e7eff,#8585ff,#8c8cff,#9393ff,#9b9bff,#a4a4ff,#ababff,#b3b3ff,#babaff,#c1c1ff,#c6c6ff,#ccccff,#d0d0ff,#d4d4ff,#d7d7ff,#dadaff,#dcdcff,#dedeff,#e0e0ff,#e2e2ff,#e4e4ff,#e6e6ff,#e8e8ff,#eaeaff,#ececff)"></i><i style="background:linear-gradient(90deg,#dbdbff,#d8d8ff,#d5d5ff,#d2d2ff,#d1d1ff,#cfcfff,#cfcfff,#cfcfff,#d0d0ff,#d1d1ff,#d3d3ff,#d5d5ff,#d7d7ff,#d8d8ff,#d9d9ff,#dadaff,#dadaff,#d9d9ff,#d8d8ff,#d5d5ff,#d2d2ff,#cdcdff,#c8c8ff,#c2c2ff,#bcbcff,#b4b4ff,#adadff,#a5a5ff,#9c9cff,#9494ff,#8c8cff,#8585ff,#7e7eff,#7878ff,#7373ff,#7070ff,#6d6dff,#6c6cff,#6c6cff,#6e6eff,#7171ff,#7676ff,#7b7bff,#8282ff,#8989ff,#9191ff,#9999ff,#a1a1ff,#a9a9ff,#b0b0ff,#b8b8ff,#bebeff,#c4c4ff,#c9c9ff,#ceceff,#d2d2ff,#d5d5ff,#d8d8ff,#dadaff,#ddddff,#dfdfff,#e1e1ff,#e3e3ff,#e5e5ff,#e7e7ff,#e9e9ff,#ebebff)"></i><i style="background:linear-gradient(90deg,#dbdbff,#d7d7ff,#d4d4ff,#d1d1ff,#d0d0ff,#ceceff,#ceceff,#ceceff,#ceceff,#d0d0ff,#d1d1ff,#d3d3ff,#d5d5ff,#d6d6ff,#d8d8ff,#d8d8ff,#d8d8ff,#d8d8ff,#d6d6ff,#d3d3ff,#d0d0ff,#ccccff,#c6c6ff,#c0c0ff,#babaff,#b2b2ff,#aaaaff,#a2a2ff,#9a9aff,#9292ff,#8a8aff,#8383ff,#7c7cff,#7676ff,#7171ff,#6d6dff,#6b6bff,#6a6aff,#6a6aff,#6b6bff,#6e6eff,#7373ff,#7878ff,#7f7fff,#8686ff,#8e8eff,#9696ff,#9e9eff,#a6a6ff,#aeaeff,#b5b5ff,#bcbcff,#c2c2ff,#c7c7ff,#ccccff,#d0d0ff,#d3d3ff,#d6d6ff,#d9d9ff,#dbdbff,#ddddff,#dfdfff,#e1e1ff,#e3e3ff,#e5e5ff,#e8e8ff,#eaeaff)"></i><i style="background:linear-gradient(90deg,#dadaff,#d6d6ff,#d3d3ff,#d0d0ff,#ceceff,#cdcdff,#ccccff,#ccccff,#cdcdff,#ceceff,#d0d0ff,#d1d1ff,#d3d3ff,#d5d5ff,#d6d6ff,#d7d7ff,#d7d7ff,#d6d6ff,#d4d4ff,#d1d1ff,#ceceff,#c9c9ff,#c4c4ff,#bebeff,#b7b7ff,#b0b0ff,#a8a8ff,#a0a0ff,#9898ff,#9090ff,#8888ff,#8181ff,#7a7aff,#7474ff,#6f6fff,#6b6bff,#6868ff,#6767ff,#6767ff,#6969ff,#6c6cff,#7070ff,#7575ff,#7c7cff,#8383ff,#8b8bff,#9393ff,#9b9bff,#a4a4ff,#ababff,#b3b3ff,#babaff,#c0c0ff,#c5c5ff,#cacaff,#ceceff,#d2d2ff,#d5d5ff,#d7d7ff,#dadaff,#dcdcff,#dedeff,#e0e0ff,#e2e2ff,#e4e4ff,#e7e7ff,#e9e9ff)"></i><i style="background:linear-gradient(90deg,#d9d9ff,#d6d6ff,#d2d2ff,#cfcfff,#cdcdff,#ccccff,#cbcbff,#cbcbff,#cbcbff,#ccccff,#ceceff,#d0d0ff,#d1d1ff,#d3d3ff,#d4d4ff,#d5d5ff,#d5d5ff,#d4d4ff,#d2d2ff,#cfcfff,#ccccff,#c7c7ff,#c2c2ff,#bcbcff,#b5b5ff,#aeaeff,#a6a6ff,#9e9eff,#9696ff,#8d8dff,#8686ff,#7e7eff,#7777ff,#7171ff,#6c6cff,#6868ff,#6666ff,#6464ff,#6464ff,#6666ff,#6969ff,#6d6dff,#7373ff,#7979ff,#8080ff,#8888ff,#9090ff,#9999ff,#a1a1ff,#a9a9ff,#b1b1ff,#b8b8ff,#bebeff,#c3c3ff,#c8c8ff,#ccccff,#d0d0ff,#d3d3ff,#d6d6ff,#d8d8ff,#dadaff,#ddddff,#dfdfff,#e1e1ff,#e3e3ff,#e6e6ff,#e8e8ff)"></i><i style="background:linear-gradient(90deg,#d9d9ff,#d5d5ff,#d1d1ff,#ceceff,#ccccff,#cacaff,#c9c9ff,#c9c9ff,#cacaff,#cbcbff,#ccccff,#ceceff,#cfcfff,#d1d1ff,#d2d2ff,#d3d3ff,#d2d2ff,#d2d2ff,#d0d0ff,#cdcdff,#c9c9ff,#c5c5ff,#bfbfff,#b9b9ff,#b2b2ff,#ababff,#a3a3ff,#9b9bff,#9393ff,#8b8bff,#8383ff,#7c7cff,#7575ff,#6f6fff,#6a6aff,#6666ff,#6363ff,#6262ff,#6262ff,#6363ff,#6666ff,#6b6bff,#7070ff,#7676ff,#7e7eff,#8686ff,#8e8eff,#9696ff,#9f9fff,#a7a7ff,#aeaeff,#b5b5ff,#bcbcff,#c1c1ff,#c6c6ff,#cbcbff,#ceceff,#d1d1ff,#d4d4ff,#d7d7ff,#d9d9ff,#dbdbff,#ddddff,#e0e0ff,#e2e2ff,#e5e5ff,#e7e7ff)"></i><i style="background:linear-gradient(90deg,#d8d8ff,#d4d4ff,#d0d0ff,#cdcdff,#cbcbff,#c9c9ff,#c8c8ff,#c7c7ff,#c8c8ff,#c9c9ff,#cacaff,#ccccff,#cdcdff,#cfcfff,#d0d0ff,#d0d0ff,#d0d0ff,#cfcfff,#cdcdff,#cbcbff,#c7c7ff,#c2c2ff,#bdbdff,#b7b7ff,#b0b0ff,#a8a8ff,#a0a0ff,#9898ff,#9090ff,#8888ff,#8080ff,#7979ff,#7272ff,#6c6cff,#6767ff,#6363ff,#6161ff,#5f5fff,#5f5fff,#6161ff,#6464ff,#6868ff,#6d6dff,#7474ff,#7b7bff,#8383ff,#8b8bff,#9494ff,#9c9cff,#a4a4ff,#acacff,#b3b3ff,#babaff,#bfbfff,#c4c4ff,#c9c9ff,#cdcdff,#d0d0ff,#d3d3ff,#d5d5ff,#d8d8ff,#dadaff,#dcdcff,#dfdfff,#e1e1ff,#e4e4ff,#e6e6ff)"></i><i style="background:linear-gradient(90deg,#d7d7ff,#d3d3ff,#cfcfff,#ccccff,#c9c9ff,#c7c7ff,#c6c6ff,#c6c6ff,#c6c6ff,#c7c7ff,#c8c8ff,#cacaff,#cbcbff,#cdcdff,#ceceff,#ceceff,#ceceff,#cdcdff,#cbcbff,#c8c8ff,#c4c4ff,#c0c0ff,#babaff,#b4b4ff,#adadff,#a5a5ff,#9e9eff,#9696ff,#8d8dff,#8585ff,#7e7eff,#7676ff,#7070ff,#6a6aff,#6565ff,#6161ff,#5e5eff,#5d5dff,#5d5dff,#5e5eff,#6161ff,#6666ff,#6b6bff,#7171ff,#7979ff,#8181ff,#8989ff,#9292ff,#9a9aff,#a2a2ff,#aaaaff,#b1b1ff,#b8b8ff,#bebeff,#c3c3ff,#c7c7ff,#cbcbff,#ceceff,#d1d1ff,#d4d4ff,#d6d6ff,#d9d9ff,#dbdbff,#ddddff,#e0e0ff,#e3e3ff,#e5e5ff)"></i><i style="background:linear-gradient(90deg,#d6d6ff,#d2d2ff,#ceceff,#cbcbff,#c8c8ff,#c6c6ff,#c5c5ff,#c4c4ff,#c4c4ff,#c5c5ff,#c6c6ff,#c8c8ff,#c9c9ff,#cacaff,#cbcbff,#ccccff,#ccccff,#cacaff,#c8c8ff,#c5c5ff,#c1c1ff,#bdbdff,#b7b7ff,#b1b1ff,#aaaaff,#a2a2ff,#9b9bff,#9393ff,#8b8bff,#8383ff,#7b7bff,#7474ff,#6d6dff,#6767ff,#6262ff,#5f5fff,#5c5cff,#5b5bff,#5b5bff,#5c5cff,#5f5fff,#6363ff,#6969ff,#6f6fff,#7676ff,#7e7eff,#8787ff,#8f8fff,#9898ff,#a0a0ff,#a8a8ff,#afafff,#b6b6ff,#bcbcff,#c1c1ff,#c5c5ff,#c9c9ff,#cdcdff,#d0d0ff,#d2d2ff,#d5d5ff,#d7d7ff,#dadaff,#dcdcff,#dfdfff,#e2e2ff,#e4e4ff)"></i><i style="background:linear-gradient(90deg,#d6d6ff,#d1d1ff,#cdcdff,#cacaff,#c7c7ff,#c4c4ff,#c3c3ff,#c2c2ff,#c2c2ff,#c3c3ff,#c4c4ff,#c5c5ff,#c7c7ff,#c8c8ff,#c9c9ff,#c9c9ff,#c9c9ff,#c8c8ff,#c6c6ff,#c3c3ff,#bfbfff,#babaff,#b4b4ff,#aeaeff,#a7a7ff,#9f9fff,#9797ff,#8f8fff,#8787ff,#8080ff,#7878ff,#7171ff,#6a6aff,#6565ff,#6060ff,#5c5cff,#5a5aff,#5858ff,#5858ff,#5a5aff,#5d5dff,#6161ff,#6666ff,#6d6dff,#7474ff,#7c7cff,#8585ff,#8d8dff,#9696ff,#9e9eff,#a6a6ff,#adadff,#b4b4ff,#babaff,#bfbfff,#c4c4ff,#c8c8ff,#cbcbff,#ceceff,#d1d1ff,#d3d3ff,#d6d6ff,#d9d9ff,#dbdbff,#dedeff,#e1e1ff,#e4e4ff)"></i><i style="background:linear-gradient(90deg,#d5d5ff,#d0d0ff,#ccccff,#c8c8ff,#c5c5ff,#c3c3ff,#c1c1ff,#c0c0ff,#c0c0ff,#c1c1ff,#c2c2ff,#c3c3ff,#c5c5ff,#c6c6ff,#c7c7ff,#c7c7ff,#c6c6ff,#c5c5ff,#c3c3ff,#c0c0ff,#bcbcff,#b7b7ff,#b1b1ff,#aaaaff,#a3a3ff,#9c9cff,#9494ff,#8c8cff,#8484ff,#7d7dff,#7575ff,#6e6eff,#6868ff,#6262ff,#5d5dff,#5a5aff,#5757ff,#5656ff,#5656ff,#5858ff,#5b5bff,#5f5fff,#6464ff,#6b6bff,#7272ff,#7a7aff,#8282ff,#8b8bff,#9494ff,#9c9cff,#a4a4ff,#ababff,#b2b2ff,#b8b8ff,#bdbdff,#c2c2ff,#c6c6ff,#cacaff,#cdcdff,#cfcfff,#d2d2ff,#d5d5ff,#d7d7ff,#dadaff,#ddddff,#e0e0ff,#e3e3ff)"></i><i style="background:linear-gradient(90deg,#d4d4ff,#cfcfff,#cbcbff,#c7c7ff,#c4c4ff,#c1c1ff,#bfbfff,#bebeff,#bebeff,#bfbfff,#c0c0ff,#c1c1ff,#c2c2ff,#c3c3ff,#c4c4ff,#c4c4ff,#c4c4ff,#c2c2ff,#c0c0ff,#bdbdff,#b8b8ff,#b3b3ff,#adadff,#a7a7ff,#a0a0ff,#9898ff,#9191ff,#8989ff,#8181ff,#7979ff,#7272ff,#6b6bff,#6565ff,#6060ff,#5b5bff,#5858ff,#5555ff,#5454ff,#5454ff,#5656ff,#5959ff,#5d5dff,#6262ff,#6969ff,#7070ff,#7878ff,#8181ff,#8989ff,#9292ff,#9a9aff,#a2a2ff,#aaaaff,#b0b0ff,#b6b6ff,#bcbcff,#c0c0ff,#c5c5ff,#c8c8ff,#cbcbff,#ceceff,#d1d1ff,#d4d4ff,#d6d6ff,#d9d9ff,#dcdcff,#dfdfff,#e2e2ff)"></i><i style="background:linear-gradient(90deg,#d3d3ff,#ceceff,#cacaff,#c6c6ff,#c2c2ff,#c0c0ff,#bebeff,#bdbdff,#bcbcff,#bdbdff,#bdbdff,#bfbfff,#c0c0ff,#c1c1ff,#c1c1ff,#c2c2ff,#c1c1ff,#bfbfff,#bdbdff,#b9b9ff,#b5b5ff,#b0b0ff,#aaaaff,#a3a3ff,#9c9cff,#9595ff,#8d8dff,#8585ff,#7e7eff,#7676ff,#6f6fff,#6868ff,#6262ff,#5d5dff,#5959ff,#5555ff,#5353ff,#5252ff,#5252ff,#5454ff,#5757ff,#5b5bff,#6060ff,#6767ff,#6e6eff,#7676ff,#7f7fff,#8787ff,#9090ff,#9999ff,#a1a1ff,#a8a8ff,#afafff,#b5b5ff,#babaff,#bfbfff,#c3c3ff,#c7c7ff,#cacaff,#cdcdff,#d0d0ff,#d2d2ff,#d5d5ff,#d8d8ff,#dbdbff,#dedeff,#e1e1ff)"></i><i style="background:linear-gradient(90deg,#d2d2ff,#cdcdff,#c9c9ff,#c4c4ff,#c1c1ff,#bebeff,#bcbcff,#bbbbff,#babaff,#babaff,#bbbbff,#bcbcff,#bdbdff,#bebeff,#bfbfff,#bfbfff,#bebeff,#bcbcff,#babaff,#b6b6ff,#b2b2ff,#acacff,#a6a6ff,#a0a0ff,#9898ff,#9191ff,#8989ff,#8282ff,#7a7aff,#7373ff,#6c6cff,#6565ff,#6060ff,#5b5bff,#5656ff,#5353ff,#5151ff,#5050ff,#5151ff,#5252ff,#5555ff,#5959ff,#5f5fff,#6565ff,#6d6dff,#7575ff,#7d7dff,#8686ff,#8e8eff,#9797ff,#9f9fff,#a6a6ff,#adadff,#b3b3ff,#b9b9ff,#bebeff,#c2c2ff,#c5c5ff,#c9c9ff,#ccccff,#ceceff,#d1d1ff,#d4d4ff,#d7d7ff,#dadaff,#ddddff,#e0e0ff)"></i><i style="background:linear-gradient(90deg,#d2d2ff,#ccccff,#c7c7ff,#c3c3ff,#bfbfff,#bcbcff,#babaff,#b9b9ff,#b8b8ff,#b8b8ff,#b9b9ff,#babaff,#bbbbff,#bcbcff,#bcbcff,#bcbcff,#bbbbff,#b9b9ff,#b6b6ff,#b3b3ff,#aeaeff,#a9a9ff,#a2a2ff,#9c9cff,#9595ff,#8d8dff,#8686ff,#7e7eff,#7777ff,#6f6fff,#6969ff,#6363ff,#5d5dff,#5858ff,#5454ff,#5151ff,#4f4fff,#4e4eff,#4f4fff,#5151ff,#5454ff,#5858ff,#5d5dff,#6464ff,#6b6bff,#7373ff,#7c7cff,#8484ff,#8d8dff,#9595ff,#9d9dff,#a5a5ff,#acacff,#b2b2ff,#b7b7ff,#bcbcff,#c0c0ff,#c4c4ff,#c7c7ff,#cacaff,#cdcdff,#d0d0ff,#d3d3ff,#d6d6ff,#d9d9ff,#dcdcff,#dfdfff)"></i><i style="background:linear-gradient(90deg,#d1d1ff,#cbcbff,#c6c6ff,#c2c2ff,#bebeff,#bbbbff,#b8b8ff,#b7b7ff,#b6b6ff,#b6b6ff,#b7b7ff,#b8b8ff,#b8b8ff,#b9b9ff,#b9b9ff,#b9b9ff,#b8b8ff,#b6b6ff,#b3b3ff,#afafff,#aaaaff,#a5a5ff,#9f9fff,#9898ff,#9191ff,#8989ff,#8282ff,#7a7aff,#7373ff,#6c6cff,#6666ff,#6060ff,#5a5aff,#5656ff,#5252ff,#4f4fff,#4d4dff,#4d4dff,#4d4dff,#4f4fff,#5252ff,#5757ff,#5c5cff,#6262ff,#6a6aff,#7272ff,#7a7aff,#8383ff,#8c8cff,#9494ff,#9c9cff,#a4a4ff,#aaaaff,#b1b1ff,#b6b6ff,#bbbbff,#bfbfff,#c3c3ff,#c6c6ff,#c9c9ff,#ccccff,#cfcfff,#d2d2ff,#d5d5ff,#d8d8ff,#dbdbff,#dedeff)"></i><i style="background:linear-gradient(90deg,#d0d0ff,#cacaff,#c5c5ff,#c0c0ff,#bcbcff,#b9b9ff,#b7b7ff,#b5b5ff,#b4b4ff,#b4b4ff,#b4b4ff,#b5b5ff,#b6b6ff,#b6b6ff,#b7b7ff,#b6b6ff,#b5b5ff,#b3b3ff,#b0b0ff,#acacff,#a7a7ff,#a1a1ff,#9b9bff,#9494ff,#8d8dff,#8585ff,#7e7eff,#7676ff,#6f6fff,#6969ff,#6262ff,#5d5dff,#5858ff,#5353ff,#5050ff,#4d4dff,#4c4cff,#4b4bff,#4c4cff,#4e4eff,#5151ff,#5555ff,#5b5bff,#6161ff,#6969ff,#7171ff,#7979ff,#8282ff,#8a8aff,#9393ff,#9b9bff,#a2a2ff,#a9a9ff,#afafff,#b5b5ff,#babaff,#bebeff,#c2c2ff,#c5c5ff,#c8c8ff,#cbcbff,#ceceff,#d1d1ff,#d4d4ff,#d7d7ff,#dadaff,#dedeff)"></i><i style="background:linear-gradient(90deg,#cfcfff,#c9c9ff,#c4c4ff,#bfbfff,#bbbbff,#b7b7ff,#b5b5ff,#b3b3ff,#b2b2ff,#b2b2ff,#b2b2ff,#b3b3ff,#b3b3ff,#b4b4ff,#b4b4ff,#b3b3ff,#b2b2ff,#afafff,#acacff,#a8a8ff,#a3a3ff,#9d9dff,#9797ff,#9090ff,#8888ff,#8181ff,#7a7aff,#7373ff,#6c6cff,#6565ff,#5f5fff,#5a5aff,#5555ff,#5151ff,#4e4eff,#4b4bff,#4a4aff,#4a4aff,#4b4bff,#4d4dff,#5050ff,#5454ff,#5a5aff,#6060ff,#6868ff,#7070ff,#7878ff,#8181ff,#8989ff,#9292ff,#9a9aff,#a1a1ff,#a8a8ff,#aeaeff,#b4b4ff,#b9b9ff,#bdbdff,#c1c1ff,#c4c4ff,#c7c7ff,#cacaff,#cdcdff,#d0d0ff,#d3d3ff,#d6d6ff,#dadaff,#ddddff)"></i><i style="background:linear-gradient(90deg,#ceceff,#c8c8ff,#c3c3ff,#bebeff,#b9b9ff,#b6b6ff,#b3b3ff,#b1b1ff,#b0b0ff,#b0b0ff,#b0b0ff,#b0b0ff,#b1b1ff,#b1b1ff,#b1b1ff,#b0b0ff,#afafff,#acacff,#a9a9ff,#a4a4ff,#9f9fff,#9999ff,#9292ff,#8b8bff,#8484ff,#7d7dff,#7676ff,#6f6fff,#6868ff,#6262ff,#5c5cff,#5757ff,#5252ff,#4e4eff,#4c4cff,#4949ff,#4848ff,#4848ff,#4949ff,#4c4cff,#4f4fff,#5353ff,#5959ff,#6060ff,#6767ff,#6f6fff,#7777ff,#8080ff,#8888ff,#9191ff,#9999ff,#a0a0ff,#a7a7ff,#adadff,#b3b3ff,#b8b8ff,#bcbcff,#c0c0ff,#c3c3ff,#c6c6ff,#c9c9ff,#ccccff,#cfcfff,#d2d2ff,#d5d5ff,#d9d9ff,#dcdcff)"></i><i style="background:linear-gradient(90deg,#cdcdff,#c7c7ff,#c2c2ff,#bdbdff,#b8b8ff,#b4b4ff,#b1b1ff,#afafff,#aeaeff,#aeaeff,#aeaeff,#aeaeff,#aeaeff,#aeaeff,#aeaeff,#adadff,#ababff,#a9a9ff,#a5a5ff,#a0a0ff,#9b9bff,#9595ff,#8e8eff,#8787ff,#8080ff,#7979ff,#7272ff,#6b6bff,#6464ff,#5e5eff,#5959ff,#5454ff,#5050ff,#4c4cff,#4a4aff,#4848ff,#4747ff,#4747ff,#4848ff,#4b4bff,#4e4eff,#5353ff,#5858ff,#5f5fff,#6666ff,#6e6eff,#7676ff,#7f7fff,#8888ff,#9090ff,#9898ff,#9f9fff,#a6a6ff,#acacff,#b2b2ff,#b7b7ff,#bbbbff,#bfbfff,#c2c2ff,#c5c5ff,#c8c8ff,#cbcbff,#ceceff,#d1d1ff,#d5d5ff,#d8d8ff,#dbdbff)"></i><i style="background:linear-gradient(90deg,#cdcdff,#c7c7ff,#c1c1ff,#bbbbff,#b7b7ff,#b3b3ff,#b0b0ff,#aeaeff,#acacff,#acacff,#ababff,#acacff,#acacff,#acacff,#ababff,#aaaaff,#a8a8ff,#a5a5ff,#a1a1ff,#9d9dff,#9797ff,#9191ff,#8a8aff,#8383ff,#7c7cff,#7575ff,#6e6eff,#6767ff,#6161ff,#5b5bff,#5656ff,#5151ff,#4d4dff,#4a4aff,#4848ff,#4646ff,#4646ff,#4646ff,#4848ff,#4a4aff,#4e4eff,#5252ff,#5858ff,#5e5eff,#6666ff,#6e6eff,#7676ff,#7e7eff,#8787ff,#8f8fff,#9797ff,#9f9fff,#a5a5ff,#ababff,#b1b1ff,#b6b6ff,#babaff,#bebeff,#c1c1ff,#c4c4ff,#c7c7ff,#cacaff,#cdcdff,#d0d0ff,#d4d4ff,#d7d7ff,#dbdbff)"></i><i style="background:linear-gradient(90deg,#ccccff,#c6c6ff,#c0c0ff,#babaff,#b5b5ff,#b1b1ff,#aeaeff,#acacff,#aaaaff,#aaaaff,#a9a9ff,#a9a9ff,#a9a9ff,#a9a9ff,#a9a9ff,#a7a7ff,#a5a5ff,#a2a2ff,#9e9eff,#9999ff,#9393ff,#8d8dff,#8686ff,#7f7fff,#7777ff,#7070ff,#6969ff,#6363ff,#5d5dff,#5757ff,#5252ff,#4e4eff,#4b4bff,#4848ff,#4646ff,#4545ff,#4545ff,#4545ff,#4747ff,#4949ff,#4d4dff,#5252ff,#5858ff,#5e5eff,#6565ff,#6d6dff,#7676ff,#7e7eff,#8686ff,#8f8fff,#9797ff,#9e9eff,#a5a5ff,#ababff,#b0b0ff,#b5b5ff,#b9b9ff,#bdbdff,#c0c0ff,#c3c3ff,#c6c6ff,#c9c9ff,#ccccff,#d0d0ff,#d3d3ff,#d6d6ff,#dadaff)"></i><i style="background:linear-gradient(90deg,#cbcbff,#c5c5ff,#bfbfff,#b9b9ff,#b4b4ff,#b0b0ff,#adadff,#aaaaff,#a9a9ff,#a8a8ff,#a7a7ff,#a7a7ff,#a7a7ff,#a7a7ff,#a6a6ff,#a4a4ff,#a2a2ff,#9e9eff,#9a9aff,#9595ff,#8f8fff,#8989ff,#8282ff,#7a7aff,#7373ff,#6c6cff,#6565ff,#5f5fff,#5959ff,#5454ff,#4f4fff,#4c4cff,#4848ff,#4646ff,#4444ff,#4343ff,#4343ff,#4444ff,#4646ff,#4949ff,#4d4dff,#5252ff,#5757ff,#5e5eff,#6565ff,#6d6dff,#7575ff,#7e7eff,#8686ff,#8e8eff,#9696ff,#9d9dff,#a4a4ff,#aaaaff,#afafff,#b4b4ff,#b8b8ff,#bcbcff,#bfbfff,#c3c3ff,#c6c6ff,#c9c9ff,#ccccff,#cfcfff,#d2d2ff,#d5d5ff,#d9d9ff)"></i><i style="background:linear-gradient(90deg,#cacaff,#c4c4ff,#bebeff,#b8b8ff,#b3b3ff,#afafff,#ababff,#a9a9ff,#a7a7ff,#a6a6ff,#a5a5ff,#a5a5ff,#a5a5ff,#a4a4ff,#a3a3ff,#a1a1ff,#9f9fff,#9b9bff,#9797ff,#9191ff,#8b8bff,#8484ff,#7d7dff,#7676ff,#6f6fff,#6868ff,#6161ff,#5b5bff,#5656ff,#5151ff,#4c4cff,#4949ff,#4646ff,#4444ff,#4343ff,#4242ff,#4242ff,#4444ff,#4646ff,#4949ff,#4d4dff,#5151ff,#5757ff,#5e5eff,#6565ff,#6d6dff,#7575ff,#7d7dff,#8686ff,#8e8eff,#9696ff,#9d9dff,#a3a3ff,#a9a9ff,#afafff,#b4b4ff,#b8b8ff,#bbbbff,#bfbfff,#c2c2ff,#c5c5ff,#c8c8ff,#cbcbff,#ceceff,#d1d1ff,#d5d5ff,#d8d8ff)"></i><i style="background:linear-gradient(90deg,#cacaff,#c3c3ff,#bdbdff,#b7b7ff,#b2b2ff,#adadff,#aaaaff,#a7a7ff,#a5a5ff,#a4a4ff,#a3a3ff,#a3a3ff,#a2a2ff,#a1a1ff,#a0a0ff,#9e9eff,#9b9bff,#9898ff,#9393ff,#8d8dff,#8787ff,#8080ff,#7979ff,#7272ff,#6b6bff,#6464ff,#5d5dff,#5757ff,#5252ff,#4d4dff,#4949ff,#4646ff,#4444ff,#4242ff,#4141ff,#4141ff,#4242ff,#4343ff,#4545ff,#4848ff,#4d4dff,#5252ff,#5757ff,#5e5eff,#6565ff,#6d6dff,#7575ff,#7d7dff,#8686ff,#8e8eff,#9595ff,#9c9cff,#a3a3ff,#a9a9ff,#aeaeff,#b3b3ff,#b7b7ff,#bbbbff,#bebeff,#c1c1ff,#c4c4ff,#c7c7ff,#cacaff,#cdcdff,#d1d1ff,#d4d4ff,#d7d7ff)"></i><i style="background:linear-gradient(90deg,#c9c9ff,#c2c2ff,#bcbcff,#b6b6ff,#b1b1ff,#acacff,#a8a8ff,#a6a6ff,#a3a3ff,#a2a2ff,#a1a1ff,#a1a1ff,#a0a0ff,#9f9fff,#9d9dff,#9b9bff,#9898ff,#9494ff,#8f8fff,#8a8aff,#8383ff,#7c7cff,#7575ff,#6e6eff,#6666ff,#6060ff,#5959ff,#5353ff,#4e4eff,#4a4aff,#4747ff,#4444ff,#4242ff,#4040ff,#4040ff,#4040ff,#4141ff,#4343ff,#4545ff,#4848ff,#4d4dff,#5252ff,#5858ff,#5e5eff,#6565ff,#6d6dff,#7575ff,#7d7dff,#8686ff,#8e8eff,#9595ff,#9c9cff,#a3a3ff,#a9a9ff,#aeaeff,#b2b2ff,#b6b6ff,#babaff,#bdbdff,#c0c0ff,#c3c3ff,#c6c6ff,#c9c9ff,#ccccff,#d0d0ff,#d3d3ff,#d7d7ff)"></i><i style="background:linear-gradient(90deg,#c8c8ff,#c2c2ff,#bbbbff,#b5b5ff,#b0b0ff,#ababff,#a7a7ff,#a4a4ff,#a2a2ff,#a0a0ff,#9f9fff,#9f9fff,#9e9eff,#9d9dff,#9b9bff,#9898ff,#9595ff,#9191ff,#8c8cff,#8686ff,#7f7fff,#7878ff,#7171ff,#6969ff,#6262ff,#5b5bff,#5555ff,#5050ff,#4b4bff,#4747ff,#4444ff,#4141ff,#4040ff,#3f3fff,#3e3eff,#3f3fff,#4040ff,#4242ff,#4545ff,#4848ff,#4d4dff,#5252ff,#5858ff,#5f5fff,#6666ff,#6d6dff,#7575ff,#7e7eff,#8686ff,#8e8eff,#9595ff,#9c9cff,#a2a2ff,#a8a8ff,#adadff,#b2b2ff,#b6b6ff,#babaff,#bdbdff,#c0c0ff,#c3c3ff,#c6c6ff,#c9c9ff,#ccccff,#cfcfff,#d2d2ff,#d6d6ff)"></i><i style="background:linear-gradient(90deg,#c8c8ff,#c1c1ff,#babaff,#b4b4ff,#afafff,#aaaaff,#a6a6ff,#a3a3ff,#a0a0ff,#9f9fff,#9e9eff,#9d9dff,#9c9cff,#9a9aff,#9898ff,#9696ff,#9292ff,#8e8eff,#8888ff,#8282ff,#7b7bff,#7474ff,#6d6dff,#6565ff,#5e5eff,#5757ff,#5151ff,#4c4cff,#4848ff,#4444ff,#4141ff,#3f3fff,#3e3eff,#3d3dff,#3d3dff,#3e3eff,#4040ff,#4242ff,#4545ff,#4949ff,#4d4dff,#5252ff,#5858ff,#5f5fff,#6666ff,#6e6eff,#7676ff,#7e7eff,#8686ff,#8e8eff,#9595ff,#9c9cff,#a2a2ff,#a8a8ff,#adadff,#b2b2ff,#b6b6ff,#b9b9ff,#bcbcff,#bfbfff,#c2c2ff,#c5c5ff,#c8c8ff,#cbcbff,#ceceff,#d2d2ff,#d5d5ff)"></i><i style="background:linear-gradient(90deg,#c7c7ff,#c0c0ff,#babaff,#b3b3ff,#aeaeff,#a9a9ff,#a5a5ff,#a2a2ff,#9f9fff,#9d9dff,#9c9cff,#9b9bff,#9999ff,#9898ff,#9696ff,#9393ff,#8f8fff,#8a8aff,#8585ff,#7f7fff,#7878ff,#7070ff,#6969ff,#6161ff,#5a5aff,#5454ff,#4e4eff,#4949ff,#4444ff,#4141ff,#3e3eff,#3d3dff,#3c3cff,#3c3cff,#3c3cff,#3d3dff,#3f3fff,#4242ff,#4545ff,#4949ff,#4d4dff,#5353ff,#5959ff,#5f5fff,#6767ff,#6e6eff,#7676ff,#7e7eff,#8686ff,#8e8eff,#9595ff,#9c9cff,#a2a2ff,#a8a8ff,#adadff,#b1b1ff,#b5b5ff,#b9b9ff,#bcbcff,#bfbfff,#c1c1ff,#c4c4ff,#c7c7ff,#cacaff,#cdcdff,#d1d1ff,#d4d4ff)"></i><i style="background:linear-gradient(90deg,#c7c7ff,#c0c0ff,#b9b9ff,#b3b3ff,#adadff,#a8a8ff,#a4a4ff,#a0a0ff,#9e9eff,#9c9cff,#9a9aff,#9999ff,#9797ff,#9696ff,#9393ff,#9090ff,#8c8cff,#8787ff,#8282ff,#7b7bff,#7474ff,#6c6cff,#6565ff,#5d5dff,#5656ff,#5050ff,#4a4aff,#4545ff,#4141ff,#3e3eff,#3c3cff,#3b3bff,#3a3aff,#3a3aff,#3b3bff,#3d3dff,#3f3fff,#4141ff,#4545ff,#4949ff,#4e4eff,#5353ff,#5959ff,#6060ff,#6767ff,#6f6fff,#7777ff,#7f7fff,#8787ff,#8e8eff,#9595ff,#9c9cff,#a2a2ff,#a8a8ff,#adadff,#b1b1ff,#b5b5ff,#b8b8ff,#bbbbff,#bebeff,#c1c1ff,#c3c3ff,#c6c6ff,#c9c9ff,#ccccff,#d0d0ff,#d3d3ff)"></i><i style="background:linear-gradient(90deg,#c6c6ff,#bfbfff,#b8b8ff,#b2b2ff,#acacff,#a7a7ff,#a3a3ff,#9f9fff,#9d9dff,#9a9aff,#9999ff,#9797ff,#9696ff,#9494ff,#9191ff,#8e8eff,#8989ff,#8484ff,#7e7eff,#7878ff,#7070ff,#6969ff,#6161ff,#5959ff,#5252ff,#4c4cff,#4646ff,#4242ff,#3e3eff,#3b3bff,#3939ff,#3838ff,#3838ff,#3939ff,#3a3aff,#3c3cff,#3e3eff,#4141ff,#4545ff,#4949ff,#4e4eff,#5454ff,#5a5aff,#6161ff,#6868ff,#7070ff,#7777ff,#7f7fff,#8787ff,#8e8eff,#9696ff,#9c9cff,#a2a2ff,#a8a8ff,#acacff,#b1b1ff,#b4b4ff,#b8b8ff,#bbbbff,#bdbdff,#c0c0ff,#c3c3ff,#c6c6ff,#c8c8ff,#ccccff,#cfcfff,#d2d2ff)"></i><i style="background:linear-gradient(90deg,#c6c6ff,#bfbfff,#b8b8ff,#b1b1ff,#ababff,#a6a6ff,#a2a2ff,#9e9eff,#9b9bff,#9999ff,#9797ff,#9696ff,#9494ff,#9191ff,#8f8fff,#8b8bff,#8787ff,#8181ff,#7b7bff,#7474ff,#6d6dff,#6565ff,#5d5dff,#5656ff,#4f4fff,#4848ff,#4343ff,#3e3eff,#3b3bff,#3939ff,#3737ff,#3636ff,#3737ff,#3737ff,#3939ff,#3b3bff,#3e3eff,#4141ff,#4545ff,#4a4aff,#4f4fff,#5454ff,#5b5bff,#6161ff,#6969ff,#7070ff,#7878ff,#8080ff,#8787ff,#8f8fff,#9696ff,#9c9cff,#a2a2ff,#a8a8ff,#acacff,#b0b0ff,#b4b4ff,#b7b7ff,#babaff,#bdbdff,#bfbfff,#c2c2ff,#c5c5ff,#c8c8ff,#cbcbff,#ceceff,#d2d2ff)"></i><i style="background:linear-gradient(90deg,#c5c5ff,#bebeff,#b7b7ff,#b1b1ff,#ababff,#a6a6ff,#a1a1ff,#9d9dff,#9a9aff,#9898ff,#9696ff,#9494ff,#9292ff,#9090ff,#8c8cff,#8989ff,#8484ff,#7e7eff,#7878ff,#7171ff,#6969ff,#6161ff,#5a5aff,#5252ff,#4b4bff,#4545ff,#4040ff,#3b3bff,#3838ff,#3636ff,#3535ff,#3434ff,#3535ff,#3636ff,#3838ff,#3b3bff,#3e3eff,#4141ff,#4545ff,#4a4aff,#4f4fff,#5555ff,#5b5bff,#6262ff,#6969ff,#7171ff,#7979ff,#8080ff,#8888ff,#8f8fff,#9696ff,#9d9dff,#a2a2ff,#a8a8ff,#acacff,#b0b0ff,#b4b4ff,#b7b7ff,#babaff,#bcbcff,#bfbfff,#c1c1ff,#c4c4ff,#c7c7ff,#cacaff,#cdcdff,#d1d1ff)"></i><i style="background:linear-gradient(90deg,#c5c5ff,#bebeff,#b7b7ff,#b0b0ff,#aaaaff,#a5a5ff,#a0a0ff,#9c9cff,#9999ff,#9797ff,#9595ff,#9292ff,#9090ff,#8e8eff,#8a8aff,#8686ff,#8181ff,#7c7cff,#7575ff,#6e6eff,#6666ff,#5e5eff,#5656ff,#4f4fff,#4848ff,#4242ff,#3c3cff,#3838ff,#3535ff,#3333ff,#3333ff,#3333ff,#3333ff,#3535ff,#3737ff,#3a3aff,#3d3dff,#4141ff,#4545ff,#4a4aff,#5050ff,#5656ff,#5c5cff,#6363ff,#6a6aff,#7272ff,#7979ff,#8181ff,#8989ff,#9090ff,#9797ff,#9d9dff,#a3a3ff,#a8a8ff,#acacff,#b0b0ff,#b3b3ff,#b6b6ff,#b9b9ff,#bcbcff,#bebeff,#c0c0ff,#c3c3ff,#c6c6ff,#c9c9ff,#ccccff,#d0d0ff)"></i><i style="background:linear-gradient(90deg,#c4c4ff,#bdbdff,#b6b6ff,#b0b0ff,#aaaaff,#a4a4ff,#a0a0ff,#9c9cff,#9898ff,#9696ff,#9393ff,#9191ff,#8f8fff,#8c8cff,#8888ff,#8484ff,#7f7fff,#7979ff,#7272ff,#6b6bff,#6363ff,#5b5bff,#5353ff,#4b4bff,#4444ff,#3e3eff,#3939ff,#3535ff,#3333ff,#3131ff,#3030ff,#3131ff,#3232ff,#3434ff,#3636ff,#3939ff,#3d3dff,#4141ff,#4646ff,#4b4bff,#5050ff,#5656ff,#5d5dff,#6464ff,#6b6bff,#7373ff,#7a7aff,#8282ff,#8989ff,#9090ff,#9797ff,#9d9dff,#a3a3ff,#a8a8ff,#acacff,#b0b0ff,#b3b3ff,#b6b6ff,#b9b9ff,#bbbbff,#bdbdff,#c0c0ff,#c2c2ff,#c5c5ff,#c8c8ff,#cbcbff,#cfcfff)"></i><i style="background:linear-gradient(90deg,#c4c4ff,#bdbdff,#b6b6ff,#afafff,#a9a9ff,#a4a4ff,#9f9fff,#9b9bff,#9898ff,#9595ff,#9292ff,#9090ff,#8d8dff,#8a8aff,#8686ff,#8282ff,#7d7dff,#7676ff,#6f6fff,#6868ff,#6060ff,#5858ff,#5050ff,#4848ff,#4141ff,#3b3bff,#3636ff,#3333ff,#3030ff,#2f2fff,#2e2eff,#2f2fff,#3131ff,#3333ff,#3535ff,#3939ff,#3d3dff,#4141ff,#4646ff,#4b4bff,#5151ff,#5757ff,#5d5dff,#6464ff,#6c6cff,#7373ff,#7b7bff,#8282ff,#8a8aff,#9191ff,#9797ff,#9d9dff,#a3a3ff,#a8a8ff,#acacff,#b0b0ff,#b3b3ff,#b5b5ff,#b8b8ff,#babaff,#bdbdff,#bfbfff,#c1c1ff,#c4c4ff,#c7c7ff,#cacaff,#ceceff)"></i><i style="background:linear-gradient(90deg,#c4c4ff,#bcbcff,#b5b5ff,#afafff,#a9a9ff,#a3a3ff,#9e9eff,#9a9aff,#9797ff,#9494ff,#9191ff,#8f8fff,#8c8cff,#8888ff,#8585ff,#8080ff,#7a7aff,#7474ff,#6d6dff,#6565ff,#5d5dff,#5555ff,#4c4cff,#4545ff,#3e3eff,#3838ff,#3434ff,#3030ff,#2e2eff,#2d2dff,#2c2cff,#2d2dff,#2f2fff,#3232ff,#3535ff,#3838ff,#3c3cff,#4141ff,#4646ff,#4b4bff,#5151ff,#5757ff,#5e5eff,#6565ff,#6d6dff,#7474ff,#7c7cff,#8383ff,#8a8aff,#9191ff,#9898ff,#9e9eff,#a3a3ff,#a8a8ff,#acacff,#afafff,#b2b2ff,#b5b5ff,#b7b7ff,#babaff,#bcbcff,#bebeff,#c0c0ff,#c3c3ff,#c6c6ff,#c9c9ff,#ccccff)"></i><i style="background:linear-gradient(90deg,#c3c3ff,#bcbcff,#b5b5ff,#aeaeff,#a8a8ff,#a3a3ff,#9e9eff,#9a9aff,#9696ff,#9393ff,#9090ff,#8d8dff,#8a8aff,#8787ff,#8383ff,#7e7eff,#7878ff,#7272ff,#6a6aff,#6262ff,#5a5aff,#5252ff,#4a4aff,#4242ff,#3b3bff,#3636ff,#3131ff,#2e2eff,#2b2bff,#2a2aff,#2b2bff,#2c2cff,#2e2eff,#3030ff,#3434ff,#3838ff,#3c3cff,#4141ff,#4646ff,#4c4cff,#5252ff,#5858ff,#5f5fff,#6666ff,#6d6dff,#7575ff,#7c7cff,#8484ff,#8b8bff,#9292ff,#9898ff,#9e9eff,#a3a3ff,#a8a8ff,#acacff,#afafff,#b2b2ff,#b4b4ff,#b7b7ff,#b9b9ff,#bbbbff,#bdbdff,#bfbfff,#c2c2ff,#c5c5ff,#c8c8ff,#cbcbff)"></i><i style="background:linear-gradient(90deg,#c3c3ff,#bcbcff,#b5b5ff,#aeaeff,#a8a8ff,#a2a2ff,#9d9dff,#9999ff,#9595ff,#9292ff,#8f8fff,#8c8cff,#8989ff,#8585ff,#8181ff,#7c7cff,#7676ff,#6f6fff,#6868ff,#6060ff,#5757ff,#4f4fff,#4747ff,#3f3fff,#3939ff,#3333ff,#2e2eff,#2b2bff,#2929ff,#2828ff,#2929ff,#2a2aff,#2c2cff,#2f2fff,#3333ff,#3737ff,#3c3cff,#4141ff,#4646ff,#4c4cff,#5252ff,#5858ff,#5f5fff,#6666ff,#6e6eff,#7575ff,#7d7dff,#8484ff,#8b8bff,#9292ff,#9898ff,#9e9eff,#a3a3ff,#a8a8ff,#ababff,#afafff,#b2b2ff,#b4b4ff,#b6b6ff,#b8b8ff,#babaff,#bcbcff,#bebeff,#c1c1ff,#c3c3ff,#c7c7ff,#cacaff)"></i><i style="background:linear-gradient(90deg,#c2c2ff,#bbbbff,#b4b4ff,#adadff,#a7a7ff,#a2a2ff,#9d9dff,#9898ff,#9595ff,#9191ff,#8e8eff,#8b8bff,#8888ff,#8484ff,#8080ff,#7a7aff,#7474ff,#6d6dff,#6565ff,#5d5dff,#5555ff,#4c4cff,#4444ff,#3d3dff,#3636ff,#3030ff,#2c2cff,#2929ff,#2727ff,#2626ff,#2727ff,#2929ff,#2b2bff,#2e2eff,#3232ff,#3636ff,#3b3bff,#4040ff,#4646ff,#4c4cff,#5252ff,#5959ff,#6060ff,#6767ff,#6e6eff,#7676ff,#7e7eff,#8585ff,#8c8cff,#9393ff,#9999ff,#9e9eff,#a3a3ff,#a8a8ff,#ababff,#aeaeff,#b1b1ff,#b3b3ff,#b5b5ff,#b7b7ff,#b9b9ff,#bbbbff,#bdbdff,#bfbfff,#c2c2ff,#c5c5ff,#c9c9ff)"></i><i style="background:linear-gradient(90deg,#c2c2ff,#bbbbff,#b4b4ff,#adadff,#a7a7ff,#a1a1ff,#9c9cff,#9898ff,#9494ff,#9191ff,#8d8dff,#8a8aff,#8787ff,#8383ff,#7e7eff,#7979ff,#7272ff,#6b6bff,#6363ff,#5b5bff,#5252ff,#4a4aff,#4242ff,#3a3aff,#3333ff,#2e2eff,#2a2aff,#2727ff,#2525ff,#2525ff,#2525ff,#2727ff,#2a2aff,#2d2dff,#3131ff,#3636ff,#3a3aff,#4040ff,#4646ff,#4c4cff,#5252ff,#5959ff,#6060ff,#6767ff,#6f6fff,#7777ff,#7e7eff,#8585ff,#8c8cff,#9393ff,#9999ff,#9e9eff,#a3a3ff,#a7a7ff,#ababff,#aeaeff,#b0b0ff,#b3b3ff,#b4b4ff,#b6b6ff,#b8b8ff,#babaff,#bcbcff,#bebeff,#c1c1ff,#c4c4ff,#c8c8ff)"></i><i style="background:linear-gradient(90deg,#c2c2ff,#babaff,#b3b3ff,#adadff,#a6a6ff,#a1a1ff,#9c9cff,#9797ff,#9393ff,#9090ff,#8d8dff,#8989ff,#8686ff,#8181ff,#7d7dff,#7777ff,#7070ff,#6969ff,#6161ff,#5959ff,#5050ff,#4747ff,#3f3fff,#3838ff,#3131ff,#2c2cff,#2727ff,#2525ff,#2323ff,#2323ff,#2424ff,#2626ff,#2828ff,#2c2cff,#3030ff,#3535ff,#3a3aff,#3f3fff,#4545ff,#4c4cff,#5252ff,#5959ff,#6060ff,#6868ff,#6f6fff,#7777ff,#7e7eff,#8686ff,#8d8dff,#9393ff,#9999ff,#9e9eff,#a3a3ff,#a7a7ff,#ababff,#adadff,#b0b0ff,#b2b2ff,#b4b4ff,#b5b5ff,#b7b7ff,#b9b9ff,#bbbbff,#bdbdff,#c0c0ff,#c3c3ff,#c6c6ff)"></i><i style="background:linear-gradient(90deg,#c1c1ff,#babaff,#b3b3ff,#acacff,#a6a6ff,#a0a0ff,#9b9bff,#9797ff,#9393ff,#8f8fff,#8c8cff,#8888ff,#8484ff,#8080ff,#7b7bff,#7575ff,#6f6fff,#6767ff,#5f5fff,#5757ff,#4e4eff,#4545ff,#3d3dff,#3636ff,#2f2fff,#2a2aff,#2525ff,#2323ff,#2121ff,#2121ff,#2222ff,#2424ff,#2727ff,#2b2bff,#2f2fff,#3434ff,#3939ff,#3f3fff,#4545ff,#4b4bff,#5252ff,#5959ff,#6161ff,#6868ff,#7070ff,#7777ff,#7f7fff,#8686ff,#8d8dff,#9393ff,#9999ff,#9e9eff,#a3a3ff,#a7a7ff,#aaaaff,#adadff,#afafff,#b1b1ff,#b3b3ff,#b4b4ff,#b6b6ff,#b7b7ff,#b9b9ff,#bcbcff,#bebeff,#c1c1ff,#c5c5ff)"></i><i style="background:linear-gradient(90deg,#c1c1ff,#b9b9ff,#b2b2ff,#acacff,#a6a6ff,#a0a0ff,#9b9bff,#9696ff,#9292ff,#8f8fff,#8b8bff,#8787ff,#8383ff,#7f7fff,#7a7aff,#7474ff,#6d6dff,#6666ff,#5d5dff,#5555ff,#4c4cff,#4343ff,#3b3bff,#3333ff,#2d2dff,#2727ff,#2323ff,#2121ff,#1f1fff,#1f1fff,#2020ff,#2222ff,#2525ff,#2929ff,#2e2eff,#3333ff,#3838ff,#3e3eff,#4444ff,#4b4bff,#5252ff,#5959ff,#6161ff,#6868ff,#7070ff,#7878ff,#7f7fff,#8686ff,#8d8dff,#9494ff,#9999ff,#9e9eff,#a3a3ff,#a7a7ff,#aaaaff,#acacff,#aeaeff,#b0b0ff,#b2b2ff,#b3b3ff,#b4b4ff,#b6b6ff,#b8b8ff,#babaff,#bdbdff,#c0c0ff,#c4c4ff)"></i><i style="background:linear-gradient(90deg,#c0c0ff,#b9b9ff,#b2b2ff,#ababff,#a5a5ff,#9f9fff,#9a9aff,#9696ff,#9292ff,#8e8eff,#8a8aff,#8686ff,#8282ff,#7e7eff,#7878ff,#7272ff,#6b6bff,#6464ff,#5c5cff,#5353ff,#4a4aff,#4141ff,#3939ff,#3131ff,#2b2bff,#2626ff,#2121ff,#1f1fff,#1e1eff,#1d1dff,#1f1fff,#2121ff,#2424ff,#2828ff,#2c2cff,#3232ff,#3737ff,#3d3dff,#4444ff,#4a4aff,#5151ff,#5959ff,#6060ff,#6868ff,#7070ff,#7878ff,#7f7fff,#8787ff,#8d8dff,#9494ff,#9999ff,#9e9eff,#a3a3ff,#a6a6ff,#a9a9ff,#acacff,#aeaeff,#afafff,#b1b1ff,#b2b2ff,#b3b3ff,#b5b5ff,#b6b6ff,#b9b9ff,#bbbbff,#bebeff,#c2c2ff)"></i><i style="background:linear-gradient(90deg,#bfbfff,#b8b8ff,#b1b1ff,#ababff,#a4a4ff,#9f9fff,#9a9aff,#9595ff,#9191ff,#8d8dff,#8989ff,#8585ff,#8181ff,#7d7dff,#7777ff,#7171ff,#6a6aff,#6262ff,#5a5aff,#5151ff,#4848ff,#3f3fff,#3737ff,#2f2fff,#2929ff,#2424ff,#2020ff,#1d1dff,#1c1cff,#1c1cff,#1d1dff,#1f1fff,#2222ff,#2626ff,#2b2bff,#3030ff,#3636ff,#3c3cff,#4343ff,#4a4aff,#5151ff,#5858ff,#6060ff,#6868ff,#7070ff,#7878ff,#7f7fff,#8787ff,#8d8dff,#9494ff,#9999ff,#9e9eff,#a2a2ff,#a6a6ff,#a9a9ff,#ababff,#adadff,#aeaeff,#afafff,#b0b0ff,#b2b2ff,#b3b3ff,#b5b5ff,#b7b7ff,#babaff,#bdbdff,#c1c1ff)"></i><i style="background:linear-gradient(90deg,#bfbfff,#b8b8ff,#b1b1ff,#aaaaff,#a4a4ff,#9e9eff,#9999ff,#9494ff,#9090ff,#8c8cff,#8989ff,#8585ff,#8080ff,#7b7bff,#7676ff,#7070ff,#6868ff,#6161ff,#5858ff,#4f4fff,#4646ff,#3d3dff,#3535ff,#2e2eff,#2727ff,#2222ff,#1e1eff,#1b1bff,#1a1aff,#1a1aff,#1b1bff,#1e1eff,#2121ff,#2525ff,#2a2aff,#2f2fff,#3535ff,#3b3bff,#4242ff,#4949ff,#5050ff,#5858ff,#6060ff,#6868ff,#7070ff,#7878ff,#7f7fff,#8686ff,#8d8dff,#9393ff,#9999ff,#9e9eff,#a2a2ff,#a5a5ff,#a8a8ff,#aaaaff,#acacff,#adadff,#aeaeff,#afafff,#b0b0ff,#b2b2ff,#b3b3ff,#b5b5ff,#b8b8ff,#bbbbff,#bfbfff)"></i><i style="background:linear-gradient(90deg,#bebeff,#b7b7ff,#b0b0ff,#a9a9ff,#a3a3ff,#9e9eff,#9898ff,#9494ff,#9090ff,#8c8cff,#8888ff,#8484ff,#7f7fff,#7a7aff,#7575ff,#6e6eff,#6767ff,#5f5fff,#5656ff,#4e4eff,#4545ff,#3c3cff,#3333ff,#2c2cff,#2525ff,#2020ff,#1c1cff,#1919ff,#1818ff,#1818ff,#1a1aff,#1c1cff,#1f1fff,#2323ff,#2828ff,#2d2dff,#3333ff,#3a3aff,#4141ff,#4848ff,#4f4fff,#5757ff,#5f5fff,#6767ff,#6f6fff,#7777ff,#7f7fff,#8686ff,#8d8dff,#9393ff,#9999ff,#9d9dff,#a1a1ff,#a4a4ff,#a7a7ff,#a9a9ff,#aaaaff,#acacff,#adadff,#aeaeff,#afafff,#b0b0ff,#b2b2ff,#b4b4ff,#b6b6ff,#babaff,#bdbdff)"></i><i style="background:linear-gradient(90deg,#bdbdff,#b6b6ff,#afafff,#a9a9ff,#a2a2ff,#9d9dff,#9898ff,#9393ff,#8f8fff,#8b8bff,#8787ff,#8383ff,#7e7eff,#7979ff,#7373ff,#6d6dff,#6666ff,#5e5eff,#5555ff,#4c4cff,#4343ff,#3a3aff,#3232ff,#2a2aff,#2424ff,#1e1eff,#1a1aff,#1818ff,#1616ff,#1616ff,#1818ff,#1a1aff,#1d1dff,#2121ff,#2626ff,#2c2cff,#3232ff,#3838ff,#3f3fff,#4747ff,#4e4eff,#5656ff,#5f5fff,#6767ff,#6f6fff,#7777ff,#7f7fff,#8686ff,#8d8dff,#9393ff,#9898ff,#9d9dff,#a0a0ff,#a4a4ff,#a6a6ff,#a8a8ff,#a9a9ff,#aaaaff,#ababff,#acacff,#adadff,#aeaeff,#b0b0ff,#b2b2ff,#b5b5ff,#b8b8ff,#bcbcff)"></i><i style="background:linear-gradient(90deg,#bcbcff,#b5b5ff,#aeaeff,#a8a8ff,#a2a2ff,#9c9cff,#9797ff,#9292ff,#8e8eff,#8a8aff,#8686ff,#8282ff,#7d7dff,#7878ff,#7272ff,#6c6cff,#6464ff,#5c5cff,#5353ff,#4a4aff,#4141ff,#3838ff,#3030ff,#2929ff,#2222ff,#1d1dff,#1919ff,#1616ff,#1515ff,#1515ff,#1616ff,#1818ff,#1b1bff,#1f1fff,#2424ff,#2a2aff,#3030ff,#3636ff,#3e3eff,#4545ff,#4d4dff,#5555ff,#5e5eff,#6666ff,#6e6eff,#7777ff,#7e7eff,#8686ff,#8c8cff,#9292ff,#9797ff,#9c9cff,#a0a0ff,#a3a3ff,#a5a5ff,#a7a7ff,#a8a8ff,#a9a9ff,#aaaaff,#aaaaff,#ababff,#acacff,#aeaeff,#b0b0ff,#b3b3ff,#b6b6ff,#babaff)"></i><i style="background:linear-gradient(90deg,#bcbcff,#b4b4ff,#adadff,#a7a7ff,#a1a1ff,#9b9bff,#9696ff,#9191ff,#8d8dff,#8989ff,#8585ff,#8181ff,#7c7cff,#7777ff,#7171ff,#6a6aff,#6363ff,#5b5bff,#5252ff,#4949ff,#4040ff,#3737ff,#2f2fff,#2727ff,#2020ff,#1b1bff,#1717ff,#1414ff,#1313ff,#1313ff,#1414ff,#1616ff,#1919ff,#1d1dff,#2222ff,#2828ff,#2e2eff,#3535ff,#3c3cff,#4444ff,#4c4cff,#5454ff,#5d5dff,#6565ff,#6e6eff,#7676ff,#7e7eff,#8585ff,#8c8cff,#9292ff,#9797ff,#9b9bff,#9f9fff,#a2a2ff,#a4a4ff,#a5a5ff,#a6a6ff,#a7a7ff,#a8a8ff,#a9a9ff,#a9a9ff,#ababff,#acacff,#aeaeff,#b1b1ff,#b4b4ff,#b8b8ff)"></i><i style="background:linear-gradient(90deg,#bbbbff,#b3b3ff,#acacff,#a6a6ff,#a0a0ff,#9a9aff,#9595ff,#9090ff,#8c8cff,#8888ff,#8484ff,#7f7fff,#7b7bff,#7575ff,#6f6fff,#6969ff,#6161ff,#5959ff,#5050ff,#4747ff,#3e3eff,#3535ff,#2d2dff,#2525ff,#1f1fff,#1919ff,#1515ff,#1212ff,#1111ff,#1111ff,#1212ff,#1414ff,#1717ff,#1b1bff,#2020ff,#2525ff,#2c2cff,#3333ff,#3a3aff,#4242ff,#4a4aff,#5353ff,#5b5bff,#6464ff,#6d6dff,#7575ff,#7d7dff,#8484ff,#8b8bff,#9191ff,#9696ff,#9a9aff,#9e9eff,#a0a0ff,#a2a2ff,#a4a4ff,#a5a5ff,#a6a6ff,#a6a6ff,#a7a7ff,#a7a7ff,#a9a9ff,#aaaaff,#acacff,#afafff,#b3b3ff,#b7b7ff)"></i><i style="background:linear-gradient(90deg,#b9b9ff,#b2b2ff,#ababff,#a5a5ff,#9f9fff,#9999ff,#9494ff,#8f8fff,#8b8bff,#8787ff,#8282ff,#7e7eff,#7979ff,#7474ff,#6e6eff,#6767ff,#6060ff,#5858ff,#4f4fff,#4646ff,#3d3dff,#3434ff,#2b2bff,#2424ff,#1d1dff,#1818ff,#1313ff,#1111ff,#0f0fff,#0f0fff,#1010ff,#1212ff,#1515ff,#1919ff,#1d1dff,#2323ff,#2929ff,#3030ff,#3838ff,#4040ff,#4848ff,#5151ff,#5a5aff,#6363ff,#6c6cff,#7474ff,#7c7cff,#8383ff,#8a8aff,#9090ff,#9595ff,#9999ff,#9d9dff,#9f9fff,#a1a1ff,#a2a2ff,#a3a3ff,#a4a4ff,#a4a4ff,#a5a5ff,#a5a5ff,#a7a7ff,#a8a8ff,#aaaaff,#adadff,#b1b1ff,#b5b5ff)"></i><i style="background:linear-gradient(90deg,#b8b8ff,#b1b1ff,#aaaaff,#a4a4ff,#9d9dff,#9898ff,#9393ff,#8e8eff,#8a8aff,#8585ff,#8181ff,#7d7dff,#7878ff,#7373ff,#6d6dff,#6666ff,#5e5eff,#5656ff,#4d4dff,#4444ff,#3b3bff,#3232ff,#2a2aff,#2222ff,#1c1cff,#1616ff,#1212ff,#0f0fff,#0d0dff,#0d0dff,#0d0dff,#0f0fff,#1212ff,#1616ff,#1b1bff,#2020ff,#2727ff,#2e2eff,#3636ff,#3e3eff,#4646ff,#4f4fff,#5858ff,#6262ff,#6a6aff,#7373ff,#7b7bff,#8282ff,#8989ff,#8f8fff,#9494ff,#9898ff,#9b9bff,#9e9eff,#a0a0ff,#a1a1ff,#a1a1ff,#a2a2ff,#a2a2ff,#a3a3ff,#a3a3ff,#a4a4ff,#a6a6ff,#a8a8ff,#ababff,#afafff,#b3b3ff)"></i><i style="background:linear-gradient(90deg,#b7b7ff,#b0b0ff,#a9a9ff,#a2a2ff,#9c9cff,#9797ff,#9191ff,#8d8dff,#8888ff,#8484ff,#8080ff,#7b7bff,#7777ff,#7171ff,#6b6bff,#6464ff,#5d5dff,#5454ff,#4c4cff,#4343ff,#3a3aff,#3131ff,#2828ff,#2121ff,#1a1aff,#1414ff,#1010ff,#0d0dff,#0b0bff,#0a0aff,#0b0bff,#0d0dff,#1010ff,#1313ff,#1818ff,#1e1eff,#2424ff,#2b2bff,#3333ff,#3b3bff,#4444ff,#4d4dff,#5757ff,#6060ff,#6969ff,#7272ff,#7a7aff,#8181ff,#8888ff,#8e8eff,#9393ff,#9797ff,#9a9aff,#9c9cff,#9e9eff,#9f9fff,#a0a0ff,#a0a0ff,#a0a0ff,#a1a1ff,#a1a1ff,#a2a2ff,#a4a4ff,#a6a6ff,#a9a9ff,#adadff,#b1b1ff)"></i><i style="background:linear-gradient(90deg,#b6b6ff,#aeaeff,#a7a7ff,#a1a1ff,#9b9bff,#9595ff,#9090ff,#8b8bff,#8787ff,#8383ff,#7e7eff,#7a7aff,#7575ff,#7070ff,#6a6aff,#6363ff,#5b5bff,#5353ff,#4a4aff,#4141ff,#3838ff,#2f2fff,#2727ff,#1f1fff,#1818ff,#1212ff,#0e0eff,#0b0bff,#0909ff,#0808ff,#0808ff,#0a0aff,#0d0dff,#1010ff,#1515ff,#1b1bff,#2121ff,#2828ff,#3030ff,#3939ff,#4242ff,#4b4bff,#5555ff,#5e5eff,#6868ff,#7070ff,#7979ff,#8080ff,#8787ff,#8d8dff,#9292ff,#9595ff,#9999ff,#9b9bff,#9c9cff,#9d9dff,#9e9eff,#9e9eff,#9e9eff,#9e9eff,#9f9fff,#a0a0ff,#a2a2ff,#a4a4ff,#a7a7ff,#ababff,#b0b0ff)"></i><i style="background:linear-gradient(90deg,#b4b4ff,#adadff,#a6a6ff,#9f9fff,#9999ff,#9494ff,#8e8eff,#8a8aff,#8585ff,#8181ff,#7d7dff,#7878ff,#7373ff,#6e6eff,#6868ff,#6161ff,#5959ff,#5151ff,#4848ff,#3f3fff,#3636ff,#2d2dff,#2525ff,#1d1dff,#1616ff,#1010ff,#0c0cff,#0808ff,#0606ff,#0505ff,#0606ff,#0707ff,#0a0aff,#0d0dff,#1212ff,#1818ff,#1e1eff,#2626ff,#2e2eff,#3636ff,#4040ff,#4949ff,#5353ff,#5d5dff,#6666ff,#6f6fff,#7777ff,#7f7fff,#8686ff,#8b8bff,#9090ff,#9494ff,#9797ff,#9999ff,#9a9aff,#9b9bff,#9c9cff,#9c9cff,#9c9cff,#9c9cff,#9d9dff,#9e9eff,#9f9fff,#a2a2ff,#a5a5ff,#a9a9ff,#aeaeff)"></i><i style="background:linear-gradient(90deg,#b3b3ff,#ababff,#a4a4ff,#9e9eff,#9898ff,#9292ff,#8d8dff,#8888ff,#8484ff,#7f7fff,#7b7bff,#7777ff,#7272ff,#6c6cff,#6666ff,#5f5fff,#5858ff,#4f4fff,#4747ff,#3e3eff,#3434ff,#2b2bff,#2323ff,#1b1bff,#1414ff,#0e0eff,#0a0aff,#0606ff,#0404ff,#0303ff,#0303ff,#0404ff,#0707ff,#0a0aff,#0f0fff,#1414ff,#1b1bff,#2222ff,#2b2bff,#3434ff,#3d3dff,#4747ff,#5151ff,#5b5bff,#6464ff,#6d6dff,#7676ff,#7d7dff,#8484ff,#8a8aff,#8f8fff,#9292ff,#9595ff,#9797ff,#9898ff,#9999ff,#9999ff,#9999ff,#9a9aff,#9a9aff,#9a9aff,#9b9bff,#9d9dff,#a0a0ff,#a3a3ff,#a7a7ff,#acacff)"></i><i style="background:linear-gradient(90deg,#b1b1ff,#aaaaff,#a3a3ff,#9c9cff,#9696ff,#9090ff,#8b8bff,#8686ff,#8282ff,#7d7dff,#7979ff,#7575ff,#7070ff,#6a6aff,#6464ff,#5d5dff,#5656ff,#4d4dff,#4545ff,#3c3cff,#3333ff,#2a2aff,#2121ff,#1919ff,#1212ff,#0c0cff,#0707ff,#0404ff,#0101ff,#0000ff,#0000ff,#0101ff,#0303ff,#0707ff,#0b0bff,#1111ff,#1818ff,#1f1fff,#2727ff,#3131ff,#3a3aff,#4444ff,#4e4eff,#5959ff,#6262ff,#6c6cff,#7474ff,#7c7cff,#8383ff,#8888ff,#8d8dff,#9191ff,#9393ff,#9595ff,#9696ff,#9797ff,#9797ff,#9797ff,#9797ff,#9797ff,#9898ff,#9999ff,#9b9bff,#9d9dff,#a1a1ff,#a5a5ff,#aaaaff)"></i><i style="background:linear-gradient(90deg,#b0b0ff,#a8a8ff,#a1a1ff,#9a9aff,#9494ff,#8e8eff,#8989ff,#8484ff,#8080ff,#7b7bff,#7777ff,#7373ff,#6e6eff,#6868ff,#6262ff,#5b5bff,#5454ff,#4b4bff,#4343ff,#3a3aff,#3131ff,#2828ff,#1f1fff,#1717ff,#1010ff,#0a0aff,#0505ff,#0101ff,#0100fe,#0300fc,#0300fc,#0200fd,#0000ff,#0303ff,#0808ff,#0d0dff,#1414ff,#1c1cff,#2424ff,#2d2dff,#3737ff,#4242ff,#4c4cff,#5656ff,#6060ff,#6a6aff,#7272ff,#7a7aff,#8181ff,#8787ff,#8b8bff,#8f8fff,#9292ff,#9393ff,#9494ff,#9595ff,#9595ff,#9595ff,#9595ff,#9595ff,#9595ff,#9797ff,#9898ff,#9b9bff,#9f9fff,#a3a3ff,#a8a8ff)"></i><i style="background:linear-gradient(90deg,#aeaeff,#a6a6ff,#9f9fff,#9898ff,#9292ff,#8c8cff,#8787ff,#8282ff,#7e7eff,#7979ff,#7575ff,#7070ff,#6c6cff,#6666ff,#6060ff,#5959ff,#5151ff,#4949ff,#4141ff,#3838ff,#2f2fff,#2626ff,#1d1dff,#1515ff,#0e0eff,#0808ff,#0303ff,#0100fe,#0400fb,#0600f9,#0600f9,#0600f9,#0400fb,#0100fe,#0404ff,#0909ff,#1010ff,#1818ff,#2121ff,#2a2aff,#3434ff,#3f3fff,#4949ff,#5454ff,#5e5eff,#6868ff,#7171ff,#7878ff,#7f7fff,#8585ff,#8a8aff,#8d8dff,#9090ff,#9191ff,#9292ff,#9292ff,#9292ff,#9292ff,#9292ff,#9292ff,#9393ff,#9494ff,#9696ff,#9999ff,#9d9dff,#a1a1ff,#a7a7ff)"></i><i style="background:linear-gradient(90deg,#acacff,#a4a4ff,#9d9dff,#9696ff,#9090ff,#8a8aff,#8585ff,#8080ff,#7b7bff,#7777ff,#7373ff,#6e6eff,#6969ff,#6464ff,#5e5eff,#5757ff,#4f4fff,#4747ff,#3e3eff,#3535ff,#2c2cff,#2323ff,#1b1bff,#1313ff,#0c0cff,#0505ff,#0000ff,#0400fb,#0700f8,#0900f6,#0a00f5,#0900f6,#0700f8,#0400fb,#0000ff,#0606ff,#0c0cff,#1414ff,#1d1dff,#2727ff,#3131ff,#3c3cff,#4747ff,#5252ff,#5c5cff,#6666ff,#6f6fff,#7777ff,#7d7dff,#8383ff,#8888ff,#8b8bff,#8e8eff,#8f8fff,#9090ff,#9090ff,#9090ff,#9090ff,#9090ff,#9090ff,#9090ff,#9292ff,#9494ff,#9797ff,#9a9aff,#9f9fff,#a5a5ff)"></i><i style="background:linear-gradient(90deg,#aaaaff,#a2a2ff,#9b9bff,#9494ff,#8e8eff,#8888ff,#8282ff,#7d7dff,#7979ff,#7575ff,#7070ff,#6c6cff,#6767ff,#6161ff,#5b5bff,#5454ff,#4d4dff,#4545ff,#3c3cff,#3333ff,#2a2aff,#2121ff,#1818ff,#1010ff,#0909ff,#0303ff,#0300fc,#0700f8,#0b00f4,#0d00f2,#0d00f2,#0d00f2,#0b00f4,#0800f7,#0400fb,#0101ff,#0808ff,#1010ff,#1919ff,#2323ff,#2e2eff,#3939ff,#4444ff,#4f4fff,#5a5aff,#6363ff,#6d6dff,#7575ff,#7b7bff,#8181ff,#8686ff,#8989ff,#8b8bff,#8d8dff,#8e8eff,#8e8eff,#8d8dff,#8d8dff,#8d8dff,#8d8dff,#8e8eff,#8f8fff,#9191ff,#9494ff,#9898ff,#9d9dff,#a3a3ff)"></i><i style="background:linear-gradient(90deg,#a8a8ff,#a0a0ff,#9999ff,#9292ff,#8b8bff,#8585ff,#8080ff,#7b7bff,#7676ff,#7272ff,#6e6eff,#6969ff,#6464ff,#5f5fff,#5959ff,#5252ff,#4a4aff,#4242ff,#3a3aff,#3131ff,#2828ff,#1f1fff,#1616ff,#0e0eff,#0606ff,#0000ff,#0600f9,#0a00f5,#0e00f1,#1000ef,#1100ee,#1100ee,#0f00f0,#0d00f2,#0800f7,#0300fc,#0404ff,#0c0cff,#1515ff,#2020ff,#2a2aff,#3636ff,#4141ff,#4c4cff,#5757ff,#6161ff,#6a6aff,#7373ff,#7979ff,#7f7fff,#8484ff,#8787ff,#8989ff,#8b8bff,#8b8bff,#8b8bff,#8b8bff,#8b8bff,#8a8aff,#8a8aff,#8b8bff,#8c8cff,#8f8fff,#9292ff,#9696ff,#9b9bff,#a1a1ff)"></i><i style="background:linear-gradient(90deg,#a6a6ff,#9e9eff,#9797ff,#8f8fff,#8989ff,#8383ff,#7d7dff,#7878ff,#7474ff,#6f6fff,#6b6bff,#6666ff,#6161ff,#5c5cff,#5656ff,#4f4fff,#4848ff,#4040ff,#3737ff,#2e2eff,#2525ff,#1c1cff,#1313ff,#0b0bff,#0404ff,#0300fc,#0900f6,#0e00f1,#1100ee,#1400eb,#1500ea,#1500ea,#1400eb,#1100ee,#0d00f2,#0700f8,#0000ff,#0808ff,#1111ff,#1c1cff,#2727ff,#3232ff,#3e3eff,#4a4aff,#5555ff,#5f5fff,#6868ff,#7070ff,#7777ff,#7d7dff,#8282ff,#8585ff,#8787ff,#8888ff,#8989ff,#8989ff,#8888ff,#8888ff,#8888ff,#8888ff,#8888ff,#8a8aff,#8c8cff,#9090ff,#9494ff,#9999ff,#a0a0ff)"></i><i style="background:linear-gradient(90deg,#a4a4ff,#9c9cff,#9494ff,#8d8dff,#8686ff,#8080ff,#7b7bff,#7676ff,#7171ff,#6c6cff,#6868ff,#6363ff,#5f5fff,#5959ff,#5353ff,#4c4cff,#4545ff,#3d3dff,#3434ff,#2b2bff,#2222ff,#1919ff,#1111ff,#0808ff,#0101ff,#0600f9,#0c00f3,#1100ee,#1500ea,#1800e7,#1900e6,#1900e6,#1800e7,#1500ea,#1100ee,#0c00f3,#0500fa,#0404ff,#0d0dff,#1818ff,#2323ff,#2f2fff,#3b3bff,#4747ff,#5252ff,#5c5cff,#6666ff,#6e6eff,#7575ff,#7b7bff,#7f7fff,#8383ff,#8585ff,#8686ff,#8686ff,#8686ff,#8686ff,#8585ff,#8585ff,#8585ff,#8686ff,#8787ff,#8a8aff,#8d8dff,#9292ff,#9797ff,#9e9eff)"></i><i style="background:linear-gradient(90deg,#a2a2ff,#9a9aff,#9292ff,#8a8aff,#8484ff,#7d7dff,#7878ff,#7373ff,#6e6eff,#6a6aff,#6565ff,#6060ff,#5b5bff,#5656ff,#5050ff,#4949ff,#4242ff,#3a3aff,#3131ff,#2828ff,#1f1fff,#1616ff,#0e0eff,#0505ff,#0200fd,#0900f6,#1000ef,#1500ea,#1900e6,#1c00e3,#1d00e2,#1e00e1,#1d00e2,#1a00e5,#1600e9,#1000ef,#0900f6,#0100fe,#0909ff,#1414ff,#2020ff,#2c2cff,#3838ff,#4444ff,#4f4fff,#5a5aff,#6464ff,#6c6cff,#7373ff,#7979ff,#7d7dff,#8080ff,#8282ff,#8383ff,#8484ff,#8383ff,#8383ff,#8282ff,#8282ff,#8282ff,#8383ff,#8585ff,#8787ff,#8b8bff,#9090ff,#9595ff,#9c9cff)"></i><i style="background:linear-gradient(90deg,#a0a0ff,#9797ff,#8f8fff,#8888ff,#8181ff,#7b7bff,#7575ff,#7070ff,#6b6bff,#6666ff,#6262ff,#5d5dff,#5858ff,#5353ff,#4d4dff,#4646ff,#3f3fff,#3737ff,#2e2eff,#2525ff,#1c1cff,#1313ff,#0b0bff,#0202ff,#0600f9,#0d00f2,#1300ec,#1800e7,#1d00e2,#2000df,#2200dd,#2200dd,#2100de,#1f00e0,#1b00e4,#1500ea,#0e00f1,#0500fa,#0505ff,#1010ff,#1c1cff,#2828ff,#3535ff,#4141ff,#4d4dff,#5757ff,#6161ff,#6a6aff,#7171ff,#7777ff,#7b7bff,#7e7eff,#8080ff,#8181ff,#8181ff,#8181ff,#8080ff,#8080ff,#7f7fff,#7f7fff,#8080ff,#8282ff,#8585ff,#8989ff,#8e8eff,#9494ff,#9a9aff)"></i><i style="background:linear-gradient(90deg,#9e9eff,#9595ff,#8d8dff,#8585ff,#7e7eff,#7878ff,#7272ff,#6d6dff,#6868ff,#6363ff,#5f5fff,#5a5aff,#5555ff,#4f4fff,#4949ff,#4343ff,#3b3bff,#3333ff,#2b2bff,#2222ff,#1919ff,#1010ff,#0707ff,#0100fe,#0900f6,#1000ef,#1700e8,#1c00e3,#2100de,#2400db,#2600d9,#2700d8,#2600d9,#2400db,#1f00e0,#1a00e5,#1200ed,#0a00f5,#0101ff,#0c0cff,#1818ff,#2525ff,#3131ff,#3e3eff,#4a4aff,#5555ff,#5f5fff,#6767ff,#6e6eff,#7474ff,#7979ff,#7c7cff,#7d7dff,#7e7eff,#7e7eff,#7e7eff,#7d7dff,#7d7dff,#7d7dff,#7d7dff,#7e7eff,#8080ff,#8282ff,#8686ff,#8c8cff,#9292ff,#9999ff)"></i><i style="background:linear-gradient(90deg,#9c9cff,#9393ff,#8a8aff,#8282ff,#7b7bff,#7575ff,#6f6fff,#6969ff,#6464ff,#6060ff,#5b5bff,#5757ff,#5151ff,#4c4cff,#4646ff,#3f3fff,#3838ff,#3030ff,#2727ff,#1f1fff,#1616ff,#0d0dff,#0404ff,#0500fa,#0d00f2,#1400eb,#1b00e4,#2000df,#2500da,#2800d7,#2b00d4,#2b00d4,#2b00d4,#2800d7,#2400db,#1f00e0,#1700e8,#0e00f1,#0400fb,#0808ff,#1414ff,#2121ff,#2e2eff,#3b3bff,#4747ff,#5252ff,#5c5cff,#6565ff,#6c6cff,#7272ff,#7676ff,#7979ff,#7b7bff,#7c7cff,#7c7cff,#7b7bff,#7b7bff,#7a7aff,#7a7aff,#7a7aff,#7b7bff,#7d7dff,#8080ff,#8484ff,#8989ff,#9090ff,#9797ff)"></i><i style="background:linear-gradient(90deg,#9999ff,#9090ff,#8888ff,#8080ff,#7878ff,#7171ff,#6b6bff,#6666ff,#6161ff,#5c5cff,#5858ff,#5353ff,#4e4eff,#4848ff,#4242ff,#3c3cff,#3434ff,#2c2cff,#2424ff,#1b1bff,#1212ff,#0909ff,#0000ff,#0800f7,#1000ef,#1800e7,#1f00e0,#2400db,#2900d6,#2d00d2,#2f00d0,#3000cf,#3000cf,#2d00d2,#2900d6,#2400db,#1c00e3,#1300ec,#0800f7,#0404ff,#1010ff,#1d1dff,#2b2bff,#3838ff,#4444ff,#4f4fff,#5a5aff,#6262ff,#6a6aff,#6f6fff,#7474ff,#7777ff,#7878ff,#7979ff,#7979ff,#7979ff,#7878ff,#7777ff,#7777ff,#7777ff,#7878ff,#7a7aff,#7e7eff,#8282ff,#8787ff,#8e8eff,#9696ff)"></i><i style="background:linear-gradient(90deg,#9797ff,#8e8eff,#8585ff,#7d7dff,#7575ff,#6e6eff,#6868ff,#6363ff,#5e5eff,#5959ff,#5454ff,#4f4fff,#4a4aff,#4545ff,#3f3fff,#3838ff,#3131ff,#2929ff,#2020ff,#1717ff,#0f0fff,#0606ff,#0300fc,#0c00f3,#1400eb,#1c00e3,#2300dc,#2900d6,#2e00d1,#3100ce,#3400cb,#3500ca,#3500ca,#3200cd,#2e00d1,#2900d6,#2100de,#1800e7,#0d00f2,#0100fe,#0c0cff,#1a1aff,#2727ff,#3434ff,#4141ff,#4d4dff,#5757ff,#6060ff,#6767ff,#6d6dff,#7171ff,#7474ff,#7676ff,#7676ff,#7676ff,#7676ff,#7575ff,#7474ff,#7474ff,#7575ff,#7676ff,#7878ff,#7b7bff,#8080ff,#8585ff,#8c8cff,#9494ff)"></i><i style="background:linear-gradient(90deg,#9595ff,#8b8bff,#8282ff,#7a7aff,#7272ff,#6b6bff,#6565ff,#5f5fff,#5a5aff,#5555ff,#5050ff,#4b4bff,#4646ff,#4141ff,#3b3bff,#3434ff,#2d2dff,#2525ff,#1c1cff,#1414ff,#0b0bff,#0202ff,#0700f8,#1000ef,#1800e7,#2000df,#2700d8,#2d00d2,#3200cd,#3600c9,#3900c6,#3a00c5,#3a00c5,#3700c8,#3300cc,#2e00d1,#2600d9,#1c00e3,#1100ee,#0500fa,#0808ff,#1616ff,#2424ff,#3131ff,#3e3eff,#4a4aff,#5454ff,#5d5dff,#6565ff,#6a6aff,#6f6fff,#7272ff,#7373ff,#7474ff,#7474ff,#7373ff,#7272ff,#7272ff,#7171ff,#7272ff,#7373ff,#7575ff,#7979ff,#7e7eff,#8484ff,#8b8bff,#9393ff)"></i><i style="background:linear-gradient(90deg,#9393ff,#8989ff,#8080ff,#7777ff,#6f6fff,#6868ff,#6161ff,#5c5cff,#5656ff,#5151ff,#4c4cff,#4848ff,#4242ff,#3d3dff,#3737ff,#3030ff,#2929ff,#2121ff,#1818ff,#1010ff,#0707ff,#0200fd,#0b00f4,#1400eb,#1c00e3,#2400db,#2b00d4,#3100ce,#3700c8,#3b00c4,#3e00c1,#3f00c0,#3f00c0,#3d00c2,#3900c6,#3300cc,#2b00d4,#2100de,#1600e9,#0900f6,#0404ff,#1212ff,#2020ff,#2e2eff,#3b3bff,#4747ff,#5151ff,#5b5bff,#6262ff,#6868ff,#6c6cff,#6f6fff,#7171ff,#7171ff,#7171ff,#7070ff,#7070ff,#6f6fff,#6f6fff,#6f6fff,#7171ff,#7373ff,#7777ff,#7c7cff,#8282ff,#8989ff,#9191ff)"></i><i style="background:linear-gradient(90deg,#9090ff,#8686ff,#7d7dff,#7474ff,#6c6cff,#6565ff,#5e5eff,#5858ff,#5353ff,#4d4dff,#4949ff,#4343ff,#3e3eff,#3939ff,#3232ff,#2c2cff,#2424ff,#1d1dff,#1414ff,#0c0cff,#0303ff,#0600f9,#0f00f0,#1800e7,#2000df,#2800d7,#2f00d0,#3600c9,#3b00c4,#4000bf,#4300bc,#4400bb,#4400bb,#4200bd,#3e00c1,#3800c7,#3000cf,#2600d9,#1a00e5,#0e00f1,#0000ff,#0e0eff,#1c1cff,#2a2aff,#3838ff,#4444ff,#4f4fff,#5858ff,#5f5fff,#6565ff,#6a6aff,#6c6cff,#6e6eff,#6f6fff,#6e6eff,#6e6eff,#6d6dff,#6c6cff,#6c6cff,#6c6cff,#6e6eff,#7171ff,#7474ff,#7979ff,#8080ff,#8787ff,#9090ff)"></i><i style="background:linear-gradient(90deg,#8e8eff,#8484ff,#7a7aff,#7171ff,#6969ff,#6161ff,#5b5bff,#5454ff,#4f4fff,#4a4aff,#4545ff,#3f3fff,#3a3aff,#3434ff,#2e2eff,#2727ff,#2020ff,#1818ff,#1010ff,#0707ff,#0100fe,#0a00f5,#1300ec,#1c00e3,#2500da,#2c00d3,#3400cb,#3a00c5,#4000bf,#4400bb,#4800b7,#4900b6,#4900b6,#4700b8,#4300bc,#3d00c2,#3500ca,#2b00d4,#1f00e0,#1200ed,#0400fb,#0a0aff,#1919ff,#2727ff,#3535ff,#4141ff,#4c4cff,#5555ff,#5d5dff,#6363ff,#6767ff,#6a6aff,#6b6bff,#6c6cff,#6c6cff,#6b6bff,#6a6aff,#6969ff,#6969ff,#6a6aff,#6b6bff,#6e6eff,#7272ff,#7777ff,#7e7eff,#8686ff,#8e8eff)"></i><i style="background:linear-gradient(90deg,#8c8cff,#8181ff,#7777ff,#6e6eff,#6666ff,#5e5eff,#5757ff,#5151ff,#4b4bff,#4646ff,#4040ff,#3b3bff,#3636ff,#3030ff,#2a2aff,#2323ff,#1c1cff,#1414ff,#0c0cff,#0303ff,#0600f9,#0f00f0,#1800e7,#2000df,#2900d6,#3100ce,#3800c7,#3f00c0,#4500ba,#4900b6,#4d00b2,#4e00b1,#4e00b1,#4c00b3,#4800b7,#4200bd,#3a00c5,#3000cf,#2400db,#1700e8,#0800f7,#0606ff,#1515ff,#2424ff,#3131ff,#3e3eff,#4949ff,#5252ff,#5a5aff,#6060ff,#6464ff,#6767ff,#6969ff,#6969ff,#6969ff,#6868ff,#6767ff,#6767ff,#6767ff,#6767ff,#6969ff,#6c6cff,#7070ff,#7575ff,#7c7cff,#8484ff,#8d8dff)"></i><i style="background:linear-gradient(90deg,#8a8aff,#7f7fff,#7575ff,#6b6bff,#6363ff,#5b5bff,#5353ff,#4d4dff,#4747ff,#4242ff,#3c3cff,#3737ff,#3131ff,#2c2cff,#2525ff,#1f1fff,#1717ff,#1010ff,#0707ff,#0100fe,#0a00f5,#1300ec,#1c00e3,#2500da,#2d00d2,#3500ca,#3d00c2,#4400bb,#4900b6,#4e00b1,#5200ad,#5300ac,#5300ac,#5100ae,#4d00b2,#4700b8,#3f00c0,#3400cb,#2800d7,#1b00e4,#0d00f2,#0202ff,#1111ff,#2020ff,#2e2eff,#3b3bff,#4646ff,#5050ff,#5757ff,#5d5dff,#6262ff,#6565ff,#6666ff,#6666ff,#6666ff,#6565ff,#6565ff,#6464ff,#6464ff,#6565ff,#6767ff,#6a6aff,#6e6eff,#7373ff,#7a7aff,#8383ff,#8c8cff)"></i><i style="background:linear-gradient(90deg,#8888ff,#7d7dff,#7272ff,#6868ff,#5f5fff,#5757ff,#5050ff,#4949ff,#4343ff,#3e3eff,#3838ff,#3333ff,#2d2dff,#2727ff,#2121ff,#1a1aff,#1313ff,#0b0bff,#0303ff,#0600f9,#0e00f1,#1700e8,#2000df,#2900d6,#3200cd,#3a00c5,#4100be,#4800b7,#4e00b1,#5300ac,#5700a8,#5800a7,#5800a7,#5600a9,#5200ad,#4c00b3,#4400bb,#3900c6,#2d00d2,#1f00e0,#1100ee,#0200fd,#0e0eff,#1d1dff,#2b2bff,#3838ff,#4343ff,#4d4dff,#5555ff,#5b5bff,#5f5fff,#6262ff,#6363ff,#6464ff,#6363ff,#6363ff,#6262ff,#6161ff,#6161ff,#6262ff,#6464ff,#6767ff,#6c6cff,#7272ff,#7979ff,#8181ff,#8a8aff)"></i><i style="background:linear-gradient(90deg,#8585ff,#7a7aff,#6f6fff,#6565ff,#5c5cff,#5454ff,#4c4cff,#4646ff,#3f3fff,#3939ff,#3434ff,#2e2eff,#2929ff,#2323ff,#1c1cff,#1616ff,#0e0eff,#0606ff,#0200fd,#0a00f5,#1300ec,#1c00e3,#2500da,#2e00d1,#3600c9,#3e00c1,#4600b9,#4d00b2,#5300ac,#5800a7,#5b00a4,#5d00a2,#5d00a2,#5b00a4,#5700a8,#5100ae,#4800b7,#3e00c1,#3200cd,#2400db,#1500ea,#0600f9,#0a0aff,#1919ff,#2727ff,#3434ff,#4040ff,#4a4aff,#5252ff,#5858ff,#5c5cff,#5f5fff,#6161ff,#6161ff,#6161ff,#6060ff,#5f5fff,#5f5fff,#5f5fff,#6060ff,#6262ff,#6565ff,#6a6aff,#7070ff,#7777ff,#8080ff,#8989ff)"></i><i style="background:linear-gradient(90deg,#8383ff,#7878ff,#6d6dff,#6363ff,#5959ff,#5151ff,#4949ff,#4242ff,#3b3bff,#3535ff,#3030ff,#2a2aff,#2424ff,#1e1eff,#1818ff,#1111ff,#0a0aff,#0202ff,#0600f9,#0f00f0,#1800e7,#2000df,#2900d6,#3200cd,#3b00c4,#4300bc,#4b00b4,#5200ad,#5800a7,#5d00a2,#60009f,#62009d,#63009c,#61009e,#5c00a3,#5600a9,#4d00b2,#4300bc,#3600c9,#2800d7,#1900e6,#0a00f5,#0606ff,#1515ff,#2424ff,#3131ff,#3d3dff,#4747ff,#4f4fff,#5555ff,#5959ff,#5c5cff,#5e5eff,#5e5eff,#5e5eff,#5d5dff,#5d5dff,#5c5cff,#5c5cff,#5d5dff,#5f5fff,#6363ff,#6868ff,#6e6eff,#7575ff,#7e7eff,#8888ff)"></i><i style="background:linear-gradient(90deg,#8181ff,#7575ff,#6a6aff,#6060ff,#5656ff,#4d4dff,#4545ff,#3e3eff,#3838ff,#3131ff,#2b2bff,#2626ff,#2020ff,#1a1aff,#1313ff,#0c0cff,#0505ff,#0300fc,#0b00f4,#1300ec,#1c00e3,#2500da,#2e00d1,#3700c8,#3f00c0,#4700b8,#4f00b0,#5600a9,#5d00a2,#62009d,#65009a,#670098,#680097,#660099,#61009e,#5b00a4,#5200ad,#4700b8,#3b00c4,#2d00d2,#1d00e2,#0e00f1,#0202ff,#1212ff,#2020ff,#2e2eff,#3a3aff,#4444ff,#4c4cff,#5252ff,#5757ff,#5a5aff,#5b5bff,#5c5cff,#5b5bff,#5b5bff,#5a5aff,#5a5aff,#5a5aff,#5b5bff,#5d5dff,#6161ff,#6666ff,#6c6cff,#7474ff,#7d7dff,#8787ff)"></i><i style="background:linear-gradient(90deg,#7f7fff,#7373ff,#6868ff,#5d5dff,#5353ff,#4a4aff,#4242ff,#3a3aff,#3434ff,#2d2dff,#2727ff,#2121ff,#1b1bff,#1515ff,#0e0eff,#0707ff,#0000ff,#0800f7,#1000ef,#1800e7,#2100de,#2a00d5,#3200cd,#3b00c4,#4400bb,#4c00b3,#5400ab,#5b00a4,#61009e,#660099,#6a0095,#6c0093,#6c0093,#6b0094,#660099,#60009f,#5700a8,#4c00b3,#3f00c0,#3100ce,#2200dd,#1200ed,#0200fd,#0e0eff,#1d1dff,#2a2aff,#3636ff,#4141ff,#4949ff,#4f4fff,#5454ff,#5757ff,#5858ff,#5959ff,#5959ff,#5858ff,#5757ff,#5757ff,#5757ff,#5959ff,#5b5bff,#5f5fff,#6464ff,#6a6aff,#7272ff,#7c7cff,#8686ff)"></i><i style="background:linear-gradient(90deg,#7d7dff,#7171ff,#6565ff,#5a5aff,#5050ff,#4747ff,#3e3eff,#3737ff,#3030ff,#2929ff,#2323ff,#1d1dff,#1717ff,#1010ff,#0a0aff,#0303ff,#0500fa,#0c00f3,#1400eb,#1d00e2,#2500da,#2e00d1,#3700c8,#4000bf,#4800b7,#5000af,#5800a7,#60009f,#660099,#6b0094,#6f0090,#71008e,#71008e,#6f0090,#6b0094,#65009a,#5c00a3,#5100ae,#4400bb,#3600c9,#2600d9,#1600e9,#0600f9,#0a0aff,#1919ff,#2727ff,#3333ff,#3d3dff,#4646ff,#4c4cff,#5151ff,#5454ff,#5555ff,#5656ff,#5656ff,#5555ff,#5555ff,#5454ff,#5555ff,#5656ff,#5959ff,#5d5dff,#6262ff,#6969ff,#7171ff,#7a7aff,#8585ff)"></i><i style="background:linear-gradient(90deg,#7b7bff,#6f6fff,#6363ff,#5858ff,#4d4dff,#4444ff,#3b3bff,#3333ff,#2c2cff,#2525ff,#1f1fff,#1919ff,#1212ff,#0c0cff,#0505ff,#0200fd,#0900f6,#1100ee,#1900e6,#2200dd,#2a00d5,#3300cc,#3b00c4,#4400bb,#4d00b2,#5500aa,#5d00a2,#64009b,#6a0095,#70008f,#74008b,#760089,#760089,#74008b,#70008f,#6a0095,#61009e,#5600a9,#4900b6,#3a00c5,#2a00d5,#1a00e5,#0a00f5,#0606ff,#1616ff,#2323ff,#3030ff,#3a3aff,#4343ff,#4949ff,#4e4eff,#5151ff,#5353ff,#5353ff,#5353ff,#5353ff,#5252ff,#5252ff,#5252ff,#5454ff,#5757ff,#5b5bff,#6060ff,#6767ff,#7070ff,#7979ff,#8484ff)"></i><i style="background:linear-gradient(90deg,#7979ff,#6d6dff,#6161ff,#5555ff,#4a4aff,#4141ff,#3838ff,#3030ff,#2828ff,#2121ff,#1b1bff,#1414ff,#0e0eff,#0707ff,#0000ff,#0700f8,#0e00f1,#1600e9,#1e00e1,#2600d9,#2f00d0,#3700c8,#4000bf,#4900b6,#5100ae,#5900a6,#61009e,#680097,#6f0090,#74008b,#780087,#7a0085,#7b0084,#790086,#75008a,#6e0091,#65009a,#5a00a5,#4d00b2,#3e00c1,#2f00d0,#1e00e1,#0e00f1,#0303ff,#1212ff,#2020ff,#2c2cff,#3737ff,#3f3fff,#4646ff,#4b4bff,#4e4eff,#5050ff,#5050ff,#5050ff,#5050ff,#4f4fff,#4f4fff,#5050ff,#5252ff,#5555ff,#5959ff,#5e5eff,#6666ff,#6e6eff,#7878ff,#8383ff)"></i><i style="background:linear-gradient(90deg,#7878ff,#6b6bff,#5e5eff,#5353ff,#4848ff,#3e3eff,#3535ff,#2c2cff,#2525ff,#1d1dff,#1717ff,#1010ff,#0909ff,#0303ff,#0400fb,#0b00f4,#1300ec,#1b00e4,#2300dc,#2b00d4,#3300cc,#3c00c3,#4400bb,#4d00b2,#5500aa,#5e00a1,#660099,#6d0092,#73008c,#790086,#7d0082,#7f0080,#7f0080,#7e0081,#7a0085,#73008c,#6a0095,#5f00a0,#5200ad,#4300bc,#3300cc,#2200dd,#1200ed,#0100fe,#0e0eff,#1c1cff,#2929ff,#3333ff,#3c3cff,#4343ff,#4848ff,#4b4bff,#4d4dff,#4e4eff,#4e4eff,#4d4dff,#4d4dff,#4d4dff,#4e4eff,#4f4fff,#5252ff,#5757ff,#5d5dff,#6464ff,#6d6dff,#7777ff,#8282ff)"></i><i style="background:linear-gradient(90deg,#7676ff,#6969ff,#5c5cff,#5050ff,#4545ff,#3b3bff,#3131ff,#2929ff,#2121ff,#1a1aff,#1313ff,#0c0cff,#0505ff,#0200fd,#0900f6,#1000ef,#1700e8,#1f00e0,#2700d8,#2f00d0,#3800c7,#4000bf,#4900b6,#5100ae,#5a00a5,#62009d,#6a0095,#71008e,#780087,#7d0082,#81007e,#84007b,#84007b,#82007d,#7e0081,#780087,#6f0090,#63009c,#5600a9,#4700b8,#3700c8,#2700d8,#1600e9,#0500fa,#0a0aff,#1818ff,#2525ff,#3030ff,#3939ff,#3f3fff,#4545ff,#4848ff,#4a4aff,#4b4bff,#4b4bff,#4b4bff,#4a4aff,#4a4aff,#4b4bff,#4d4dff,#5050ff,#5555ff,#5b5bff,#6363ff,#6c6cff,#7676ff,#8181ff)"></i><i style="background:linear-gradient(90deg,#7474ff,#6767ff,#5a5aff,#4e4eff,#4242ff,#3838ff,#2e2eff,#2626ff,#1d1dff,#1616ff,#0f0fff,#0808ff,#0101ff,#0600f9,#0d00f2,#1500ea,#1c00e3,#2400db,#2c00d3,#3400cb,#3c00c3,#4500ba,#4d00b2,#5600a9,#5e00a1,#660099,#6e0091,#75008a,#7c0083,#81007e,#85007a,#880077,#880077,#870078,#83007c,#7c0083,#73008c,#680097,#5b00a4,#4c00b3,#3c00c3,#2b00d4,#1a00e5,#0a00f5,#0606ff,#1414ff,#2121ff,#2c2cff,#3535ff,#3c3cff,#4141ff,#4545ff,#4747ff,#4848ff,#4848ff,#4848ff,#4848ff,#4848ff,#4949ff,#4b4bff,#4e4eff,#5353ff,#5959ff,#6161ff,#6a6aff,#7575ff,#8080ff)"></i><i style="background:linear-gradient(90deg,#7373ff,#6565ff,#5858ff,#4b4bff,#4040ff,#3535ff,#2b2bff,#2222ff,#1a1aff,#1212ff,#0b0bff,#0404ff,#0300fc,#0a00f5,#1200ed,#1900e6,#2100de,#2800d7,#3000cf,#3800c7,#4100be,#4900b6,#5100ae,#5a00a5,#62009d,#6a0095,#72008d,#790086,#80007f,#85007a,#8a0075,#8c0073,#8d0072,#8b0074,#870078,#81007e,#780087,#6d0092,#5f00a0,#5000af,#4000bf,#2f00d0,#1e00e1,#0e00f1,#0202ff,#1111ff,#1d1dff,#2828ff,#3232ff,#3939ff,#3e3eff,#4242ff,#4444ff,#4545ff,#4545ff,#4545ff,#4545ff,#4646ff,#4747ff,#4949ff,#4c4cff,#5151ff,#5858ff,#6060ff,#6969ff,#7474ff,#7f7fff)"></i><i style="background:linear-gradient(90deg,#7171ff,#6363ff,#5656ff,#4949ff,#3d3dff,#3232ff,#2828ff,#1f1fff,#1717ff,#0f0fff,#0707ff,#0000ff,#0700f8,#0f00f0,#1600e9,#1d00e2,#2500da,#2d00d2,#3500ca,#3d00c2,#4500ba,#4d00b2,#5600a9,#5e00a1,#660099,#6e0091,#760089,#7d0082,#84007b,#8a0075,#8e0071,#90006f,#91006e,#8f0070,#8b0074,#85007a,#7c0083,#71008e,#64009b,#5500aa,#4500ba,#3400cb,#2300dc,#1200ed,#0200fd,#0c0cff,#1919ff,#2525ff,#2e2eff,#3535ff,#3b3bff,#3e3eff,#4141ff,#4242ff,#4242ff,#4242ff,#4343ff,#4343ff,#4444ff,#4747ff,#4b4bff,#5050ff,#5656ff,#5e5eff,#6868ff,#7373ff,#7e7eff)"></i><i style="background:linear-gradient(90deg,#7070ff,#6161ff,#5454ff,#4747ff,#3b3bff,#3030ff,#2626ff,#1c1cff,#1313ff,#0b0bff,#0404ff,#0400fb,#0b00f4,#1300ec,#1a00e5,#2200dd,#2900d6,#3100ce,#3900c6,#4100be,#4900b6,#5100ae,#5a00a5,#62009d,#6a0095,#72008d,#7a0085,#81007e,#880077,#8d0072,#92006d,#94006b,#95006a,#94006b,#90006f,#890076,#81007e,#760089,#680097,#5900a6,#4900b6,#3800c7,#2700d8,#1600e9,#0600f9,#0808ff,#1515ff,#2121ff,#2a2aff,#3232ff,#3737ff,#3b3bff,#3d3dff,#3f3fff,#3f3fff,#4040ff,#4040ff,#4141ff,#4242ff,#4545ff,#4949ff,#4e4eff,#5555ff,#5d5dff,#6767ff,#7272ff,#7d7dff)"></i><i style="background:linear-gradient(90deg,#6e6eff,#6060ff,#5252ff,#4545ff,#3939ff,#2d2dff,#2323ff,#1919ff,#1010ff,#0808ff,#0000ff,#0800f7,#0f00f0,#1700e8,#1e00e1,#2600d9,#2e00d1,#3500ca,#3d00c2,#4500ba,#4d00b2,#5600a9,#5e00a1,#660099,#6e0091,#760089,#7e0081,#85007a,#8c0073,#91006e,#960069,#980067,#990066,#980067,#94006b,#8e0071,#85007a,#7a0085,#6d0092,#5e00a1,#4e00b1,#3d00c2,#2c00d3,#1b00e4,#0b00f4,#0404ff,#1111ff,#1d1dff,#2626ff,#2e2eff,#3434ff,#3838ff,#3a3aff,#3c3cff,#3c3cff,#3d3dff,#3d3dff,#3e3eff,#4040ff,#4343ff,#4747ff,#4c4cff,#5353ff,#5c5cff,#6666ff,#7171ff,#7d7dff)"></i><i style="background:linear-gradient(90deg,#6d6dff,#5e5eff,#5050ff,#4343ff,#3737ff,#2b2bff,#2020ff,#1616ff,#0d0dff,#0505ff,#0300fc,#0b00f4,#1300ec,#1b00e4,#2200dd,#2a00d5,#3200cd,#3900c6,#4100be,#4900b6,#5100ae,#5900a6,#62009d,#6a0095,#72008d,#7a0085,#81007e,#890076,#8f0070,#95006a,#990066,#9c0063,#9d0062,#9c0063,#980067,#92006d,#890076,#7e0081,#71008e,#62009d,#5200ad,#4100be,#3000cf,#1f00e0,#0f00f0,#0000ff,#0d0dff,#1919ff,#2222ff,#2a2aff,#3030ff,#3434ff,#3737ff,#3838ff,#3939ff,#3a3aff,#3b3bff,#3c3cff,#3e3eff,#4141ff,#4545ff,#4b4bff,#5252ff,#5a5aff,#6464ff,#7070ff,#7c7cff)"></i><i style="background:linear-gradient(90deg,#6c6cff,#5d5dff,#4f4fff,#4141ff,#3535ff,#2929ff,#1e1eff,#1414ff,#0a0aff,#0202ff,#0700f8,#0f00f0,#1600e9,#1e00e1,#2600d9,#2e00d1,#3600c9,#3d00c2,#4500ba,#4d00b2,#5500aa,#5d00a2,#65009a,#6d0092,#75008a,#7d0082,#85007a,#8c0073,#93006c,#990066,#9d0062,#a0005f,#a1005e,#a0005f,#9c0063,#960069,#8e0071,#83007c,#760089,#670098,#5700a8,#4600b9,#3500ca,#2400db,#1400eb,#0500fa,#0909ff,#1515ff,#1e1eff,#2626ff,#2c2cff,#3030ff,#3333ff,#3535ff,#3636ff,#3737ff,#3838ff,#3939ff,#3b3bff,#3f3fff,#4343ff,#4949ff,#5050ff,#5959ff,#6363ff,#6f6fff,#7b7bff)"></i><i style="background:linear-gradient(90deg,#6a6aff,#5b5bff,#4d4dff,#3f3fff,#3333ff,#2727ff,#1c1cff,#1111ff,#0808ff,#0100fe,#0a00f5,#1200ed,#1a00e5,#2200dd,#2a00d5,#3200cd,#3900c6,#4100be,#4900b6,#5100ae,#5900a6,#61009e,#690096,#71008e,#790086,#81007e,#880077,#90006f,#960069,#9c0063,#a1005e,#a4005b,#a5005a,#a4005b,#a0005f,#9b0064,#92006d,#870078,#7a0085,#6c0093,#5c00a3,#4b00b4,#3900c6,#2800d7,#1800e7,#0900f6,#0505ff,#1010ff,#1a1aff,#2222ff,#2828ff,#2d2dff,#3030ff,#3232ff,#3333ff,#3434ff,#3535ff,#3737ff,#3939ff,#3c3cff,#4141ff,#4747ff,#4f4fff,#5858ff,#6262ff,#6e6eff,#7a7aff)"></i><i style="background:linear-gradient(90deg,#6969ff,#5a5aff,#4c4cff,#3e3eff,#3131ff,#2525ff,#1919ff,#0f0fff,#0505ff,#0400fb,#0d00f2,#1500ea,#1d00e2,#2500da,#2d00d2,#3500ca,#3d00c2,#4500ba,#4d00b2,#5500aa,#5d00a2,#65009a,#6d0092,#74008b,#7c0083,#84007b,#8c0073,#93006c,#9a0065,#a0005f,#a4005b,#a70058,#a90056,#a80057,#a4005b,#9f0060,#960069,#8c0073,#7f0080,#70008f,#60009f,#4f00b0,#3e00c1,#2d00d2,#1d00e2,#0e00f1,#0000ff,#0c0cff,#1616ff,#1e1eff,#2525ff,#2929ff,#2c2cff,#2f2fff,#3030ff,#3131ff,#3333ff,#3434ff,#3737ff,#3a3aff,#3f3fff,#4646ff,#4d4dff,#5757ff,#6161ff,#6d6dff,#7a7aff)"></i><i style="background:linear-gradient(90deg,#6868ff,#5959ff,#4a4aff,#3c3cff,#2f2fff,#2323ff,#1717ff,#0d0dff,#0303ff,#0700f8,#1000ef,#1800e7,#2000df,#2800d7,#3100ce,#3900c6,#4100be,#4900b6,#5100ae,#5800a7,#60009f,#680097,#70008f,#780087,#80007f,#870078,#8f0070,#960069,#9d0062,#a3005c,#a80057,#ab0054,#ac0053,#ac0053,#a80057,#a3005c,#9b0064,#90006f,#83007c,#75008a,#65009a,#5400ab,#4300bc,#3200cd,#2100de,#1200ed,#0400fb,#0808ff,#1212ff,#1a1aff,#2121ff,#2525ff,#2929ff,#2b2bff,#2d2dff,#2e2eff,#3030ff,#3232ff,#3535ff,#3838ff,#3d3dff,#4444ff,#4c4cff,#5555ff,#6060ff,#6c6cff,#7979ff)"></i><i style="background:linear-gradient(90deg,#6767ff,#5858ff,#4949ff,#3b3bff,#2d2dff,#2121ff,#1515ff,#0a0aff,#0000ff,#0900f6,#1200ed,#1b00e4,#2300dc,#2c00d3,#3400cb,#3c00c3,#4400bb,#4c00b3,#5400ab,#5c00a3,#64009b,#6b0094,#73008c,#7b0084,#83007c,#8b0074,#92006d,#990066,#a0005f,#a60059,#ab0054,#ae0051,#b0004f,#af0050,#ac0053,#a70058,#9f0060,#95006a,#880077,#7a0085,#6a0095,#5900a6,#4800b7,#3700c8,#2600d9,#1700e8,#0900f6,#0303ff,#0d0dff,#1616ff,#1d1dff,#2222ff,#2525ff,#2828ff,#2a2aff,#2c2cff,#2d2dff,#2f2fff,#3232ff,#3636ff,#3c3cff,#4242ff,#4a4aff,#5454ff,#5f5fff,#6b6bff,#7878ff)"></i><i style="background:linear-gradient(90deg,#6666ff,#5757ff,#4848ff,#3939ff,#2c2cff,#1f1fff,#1313ff,#0808ff,#0200fd,#0c00f3,#1500ea,#1d00e2,#2600d9,#2f00d0,#3700c8,#3f00c0,#4700b8,#4f00b0,#5700a8,#5f00a0,#670098,#6f0090,#760089,#7e0081,#860079,#8e0071,#95006a,#9d0062,#a3005c,#a90056,#ae0051,#b2004d,#b3004c,#b3004c,#b0004f,#ab0054,#a3005c,#990066,#8c0073,#7e0081,#6e0091,#5e00a1,#4c00b3,#3b00c4,#2b00d4,#1c00e3,#0e00f1,#0100fe,#0909ff,#1212ff,#1919ff,#1e1eff,#2222ff,#2424ff,#2727ff,#2828ff,#2a2aff,#2d2dff,#3030ff,#3434ff,#3a3aff,#4141ff,#4949ff,#5353ff,#5e5eff,#6a6aff,#7777ff)"></i><i style="background:linear-gradient(90deg,#6565ff,#5656ff,#4747ff,#3838ff,#2a2aff,#1e1eff,#1212ff,#0606ff,#0400fb,#0e00f1,#1700e8,#2000df,#2900d6,#3100ce,#3a00c5,#4200bd,#4a00b5,#5200ad,#5a00a5,#62009d,#6a0095,#72008d,#790086,#81007e,#890076,#91006e,#980067,#9f0060,#a60059,#ac0053,#b2004d,#b5004a,#b70048,#b70048,#b4004b,#af0050,#a70058,#9d0062,#91006e,#83007c,#73008c,#62009d,#5100ae,#4000bf,#3000cf,#2000df,#1200ed,#0600f9,#0505ff,#0d0dff,#1414ff,#1a1aff,#1e1eff,#2121ff,#2323ff,#2525ff,#2828ff,#2a2aff,#2e2eff,#3232ff,#3838ff,#3f3fff,#4747ff,#5151ff,#5d5dff,#6969ff,#7676ff)"></i><i style="background:linear-gradient(90deg,#6464ff,#5555ff,#4545ff,#3737ff,#2929ff,#1c1cff,#1010ff,#0505ff,#0600f9,#1000ef,#1900e6,#2200dd,#2b00d4,#3400cb,#3c00c3,#4500ba,#4d00b2,#5500aa,#5d00a2,#65009a,#6d0092,#75008a,#7c0083,#84007b,#8c0073,#93006c,#9b0064,#a2005d,#a90056,#af0050,#b5004a,#b80047,#ba0045,#ba0045,#b80047,#b3004c,#ac0053,#a2005d,#960069,#880077,#780087,#670098,#5600a9,#4500ba,#3500ca,#2500da,#1700e8,#0b00f4,#0000ff,#0909ff,#1010ff,#1616ff,#1a1aff,#1d1dff,#2020ff,#2222ff,#2525ff,#2828ff,#2b2bff,#3030ff,#3636ff,#3d3dff,#4646ff,#5050ff,#5c5cff,#6868ff,#7676ff)"></i><i style="background:linear-gradient(90deg,#6464ff,#5454ff,#4444ff,#3636ff,#2828ff,#1b1bff,#0e0eff,#0303ff,#0800f7,#1200ed,#1b00e4,#2400db,#2d00d2,#3600c9,#3f00c0,#4700b8,#5000af,#5800a7,#60009f,#680097,#70008f,#770088,#7f0080,#870078,#8e0071,#960069,#9e0061,#a5005a,#ac0053,#b2004d,#b80047,#bc0043,#be0041,#be0041,#bc0043,#b70048,#b0004f,#a60059,#9a0065,#8c0073,#7d0082,#6c0093,#5b00a4,#4a00b5,#3a00c5,#2a00d5,#1c00e3,#0f00f0,#0400fb,#0505ff,#0c0cff,#1212ff,#1616ff,#1a1aff,#1d1dff,#1f1fff,#2222ff,#2525ff,#2929ff,#2e2eff,#3434ff,#3b3bff,#4444ff,#4f4fff,#5b5bff,#6767ff,#7575ff)"></i><i style="background:linear-gradient(90deg,#6363ff,#5353ff,#4343ff,#3535ff,#2727ff,#1919ff,#0d0dff,#0101ff,#0900f6,#1300ec,#1d00e2,#2600d9,#3000cf,#3800c7,#4100be,#4a00b5,#5200ad,#5a00a5,#62009d,#6a0095,#72008d,#7a0085,#81007e,#890076,#91006e,#990066,#a0005f,#a80057,#af0050,#b5004a,#bb0044,#bf0040,#c1003e,#c1003e,#c0003f,#bb0044,#b4004b,#aa0055,#9f0060,#91006e,#81007e,#71008e,#60009f,#4f00b0,#3e00c1,#2f00d0,#2100de,#1400eb,#0900f6,#0000ff,#0808ff,#0e0eff,#1313ff,#1616ff,#1919ff,#1c1cff,#1f1fff,#2222ff,#2626ff,#2b2bff,#3232ff,#3a3aff,#4343ff,#4d4dff,#5959ff,#6666ff,#7474ff)"></i><i style="background:linear-gradient(90deg,#6262ff,#5252ff,#4343ff,#3434ff,#2525ff,#1818ff,#0c0cff,#0000ff,#0b00f4,#1500ea,#1f00e0,#2800d7,#3100ce,#3a00c5,#4300bc,#4c00b3,#5400ab,#5d00a2,#65009a,#6d0092,#74008b,#7c0083,#84007b,#8c0073,#93006c,#9b0064,#a3005c,#aa0055,#b2004d,#b80047,#be0041,#c2003d,#c5003a,#c5003a,#c3003c,#bf0040,#b80047,#af0050,#a3005c,#95006a,#860079,#760089,#65009a,#5400ab,#4300bc,#3400cb,#2500da,#1900e6,#0d00f2,#0400fb,#0404ff,#0a0aff,#0f0fff,#1313ff,#1616ff,#1919ff,#1c1cff,#1f1fff,#2424ff,#2929ff,#3030ff,#3838ff,#4141ff,#4c4cff,#5858ff,#6565ff,#7373ff)"></i><i style="background:linear-gradient(90deg,#6161ff,#5151ff,#4242ff,#3333ff,#2424ff,#1717ff,#0a0aff,#0100fe,#0c00f3,#1700e8,#2000df,#2a00d5,#3300cc,#3c00c3,#4500ba,#4e00b1,#5600a9,#5f00a0,#670098,#6f0090,#770088,#7e0081,#860079,#8e0071,#960069,#9d0062,#a5005a,#ad0052,#b4004b,#bb0044,#c1003e,#c5003a,#c80037,#c90036,#c70038,#c3003c,#bc0043,#b3004c,#a80057,#9a0065,#8b0074,#7b0084,#6a0095,#5900a6,#4800b7,#3900c6,#2a00d5,#1d00e2,#1200ed,#0900f6,#0100fe,#0606ff,#0b0bff,#0f0fff,#1212ff,#1616ff,#1919ff,#1d1dff,#2121ff,#2727ff,#2e2eff,#3636ff,#4040ff,#4b4bff,#5757ff,#6464ff,#7272ff)"></i><i style="background:linear-gradient(90deg,#6161ff,#5151ff,#4141ff,#3232ff,#2323ff,#1616ff,#0909ff,#0200fd,#0d00f2,#1800e7,#2200dd,#2b00d4,#3500ca,#3e00c1,#4700b8,#5000af,#5800a7,#61009e,#690096,#71008e,#790086,#81007e,#880077,#90006f,#980067,#a0005f,#a80057,#af0050,#b70048,#be0041,#c3003c,#c80037,#cb0034,#cc0033,#cb0034,#c70038,#c0003f,#b70048,#ac0053,#9f0060,#90006f,#7f0080,#6f0090,#5e00a1,#4d00b2,#3d00c2,#2f00d0,#2200dd,#1700e8,#0d00f2,#0500fa,#0202ff,#0707ff,#0b0bff,#0f0fff,#1212ff,#1616ff,#1a1aff,#1f1fff,#2424ff,#2c2cff,#3434ff,#3e3eff,#4949ff,#5555ff,#6363ff,#7171ff)"></i><i style="background:linear-gradient(90deg,#6060ff,#5050ff,#4040ff,#3131ff,#2222ff,#1515ff,#0808ff,#0400fb,#0f00f0,#1900e6,#2300dc,#2d00d2,#3600c9,#3f00c0,#4800b7,#5100ae,#5a00a5,#62009d,#6b0094,#73008c,#7b0084,#82007d,#8a0075,#92006d,#9a0065,#a2005d,#aa0055,#b2004d,#b90046,#c0003f,#c60039,#cb0034,#ce0031,#cf0030,#ce0031,#cb0034,#c4003b,#bc0043,#b0004f,#a3005c,#94006b,#84007b,#73008c,#62009d,#5200ad,#4200bd,#3400cb,#2600d9,#1b00e4,#1100ee,#0900f6,#0300fc,#0303ff,#0707ff,#0b0bff,#0f0fff,#1313ff,#1717ff,#1c1cff,#2222ff,#2929ff,#3232ff,#3c3cff,#4848ff,#5454ff,#6262ff,#7070ff)"></i><i style="background:linear-gradient(90deg,#6060ff,#4f4fff,#3f3fff,#3030ff,#2222ff,#1414ff,#0707ff,#0500fa,#1000ef,#1a00e5,#2400db,#2e00d1,#3700c8,#4100be,#4a00b5,#5300ac,#5b00a4,#64009b,#6c0093,#74008b,#7c0083,#84007b,#8c0073,#94006b,#9c0063,#a4005b,#ac0053,#b4004b,#bc0043,#c3003c,#c90036,#ce0031,#d1002e,#d3002c,#d2002d,#ce0031,#c80037,#c0003f,#b5004a,#a80057,#990066,#890076,#780087,#670098,#5600a9,#4700b8,#3800c7,#2b00d4,#1f00e0,#1600e9,#0d00f2,#0700f8,#0100fe,#0404ff,#0808ff,#0c0cff,#1010ff,#1414ff,#1919ff,#2020ff,#2727ff,#3030ff,#3a3aff,#4646ff,#5353ff,#6060ff,#6f6fff)"></i><i style="background:linear-gradient(90deg,#5f5fff,#4f4fff,#3f3fff,#2f2fff,#2121ff,#1313ff,#0606ff,#0500fa,#1100ee,#1b00e4,#2500da,#2f00d0,#3800c7,#4200bd,#4b00b4,#5400ab,#5d00a2,#65009a,#6e0091,#760089,#7e0081,#860079,#8e0071,#960069,#9e0061,#a60059,#ae0051,#b60049,#be0041,#c5003a,#cc0033,#d1002e,#d5002a,#d60029,#d5002a,#d2002d,#cc0033,#c4003b,#b90046,#ac0053,#9d0062,#8d0072,#7d0082,#6c0093,#5b00a4,#4b00b4,#3d00c2,#2f00d0,#2400db,#1a00e5,#1200ed,#0b00f4,#0500fa,#0000ff,#0404ff,#0808ff,#0c0cff,#1111ff,#1616ff,#1d1dff,#2525ff,#2e2eff,#3838ff,#4444ff,#5151ff,#5f5fff,#6e6eff)"></i><i style="background:linear-gradient(90deg,#5f5fff,#4e4eff,#3e3eff,#2f2fff,#2020ff,#1212ff,#0606ff,#0600f9,#1100ee,#1c00e3,#2600d9,#3000cf,#3900c6,#4300bc,#4c00b3,#5500aa,#5e00a1,#660099,#6f0090,#770088,#7f0080,#870078,#8f0070,#970068,#9f0060,#a80057,#b0004f,#b80047,#c0003f,#c80037,#ce0031,#d4002b,#d80027,#d90026,#d90026,#d60029,#d0002f,#c80037,#bd0042,#b0004f,#a2005d,#92006d,#81007e,#70008f,#60009f,#5000af,#4100be,#3400cb,#2800d7,#1e00e1,#1600e9,#0f00f0,#0900f6,#0400fb,#0000ff,#0505ff,#0909ff,#0e0eff,#1414ff,#1a1aff,#2222ff,#2c2cff,#3636ff,#4242ff,#4f4fff,#5e5eff,#6c6cff)"></i><i style="background:linear-gradient(90deg,#5e5eff,#4e4eff,#3d3dff,#2e2eff,#1f1fff,#1212ff,#0505ff,#0700f8,#1200ed,#1d00e2,#2700d8,#3100ce,#3a00c5,#4300bc,#4d00b2,#5600a9,#5e00a1,#670098,#70008f,#780087,#80007f,#880077,#91006e,#990066,#a1005e,#a90056,#b2004d,#ba0045,#c2003d,#ca0035,#d1002e,#d70028,#db0024,#dd0022,#dc0023,#da0025,#d4002b,#cc0033,#c1003e,#b5004a,#a60059,#960069,#85007a,#75008a,#64009b,#5400ab,#4500ba,#3800c7,#2c00d3,#2200dd,#1a00e5,#1300ec,#0d00f2,#0800f7,#0300fc,#0101ff,#0606ff,#0b0bff,#1111ff,#1818ff,#2020ff,#2929ff,#3434ff,#4040ff,#4e4eff,#5c5cff,#6b6bff)"></i><i style="background:linear-gradient(90deg,#5e5eff,#4d4dff,#3d3dff,#2d2dff,#1f1fff,#1111ff,#0404ff,#0800f7,#1300ec,#1d00e2,#2800d7,#3100ce,#3b00c4,#4400bb,#4d00b2,#5600a9,#5f00a0,#680097,#70008f,#790086,#81007e,#890076,#92006d,#9a0065,#a2005d,#ab0054,#b4004b,#bc0043,#c5003a,#cc0033,#d4002b,#d90026,#de0021,#e0001f,#e0001f,#dd0022,#d80027,#d0002f,#c5003a,#b90046,#aa0055,#9a0065,#8a0075,#790086,#680097,#5800a7,#4a00b5,#3c00c3,#3100ce,#2600d9,#1e00e1,#1700e8,#1100ee,#0c00f3,#0700f8,#0200fd,#0202ff,#0808ff,#0e0eff,#1515ff,#1d1dff,#2727ff,#3232ff,#3e3eff,#4c4cff,#5a5aff,#6a6aff)"></i><i style="background:linear-gradient(90deg,#5d5dff,#4c4cff,#3c3cff,#2d2dff,#1e1eff,#1010ff,#0404ff,#0800f7,#1400eb,#1e00e1,#2800d7,#3200cd,#3b00c4,#4400bb,#4e00b1,#5700a8,#5f00a0,#680097,#71008e,#790086,#82007d,#8a0075,#93006c,#9b0064,#a4005b,#ac0053,#b5004a,#be0041,#c70038,#cf0030,#d60029,#dc0023,#e1001e,#e3001c,#e3001c,#e1001e,#db0024,#d4002b,#c90036,#bd0042,#ae0051,#9e0061,#8e0071,#7d0082,#6c0093,#5c00a3,#4e00b1,#4000bf,#3500ca,#2a00d5,#2200dd,#1b00e4,#1500ea,#0f00f0,#0b00f4,#0600f9,#0100fe,#0404ff,#0b0bff,#1212ff,#1b1bff,#2424ff,#3030ff,#3c3cff,#4a4aff,#5959ff,#6868ff)"></i><i style="background:linear-gradient(90deg,#5c5cff,#4c4cff,#3c3cff,#2c2cff,#1d1dff,#1010ff,#0303ff,#0900f6,#1400eb,#1f00e0,#2800d7,#3200cd,#3b00c4,#4500ba,#4e00b1,#5700a8,#60009f,#690096,#71008e,#7a0085,#82007d,#8b0074,#93006c,#9c0063,#a5005a,#ae0051,#b70048,#c0003f,#c90036,#d1002e,#d80027,#df0020,#e3001c,#e60019,#e60019,#e4001b,#df0020,#d70028,#cd0032,#c0003f,#b2004d,#a2005d,#92006d,#81007e,#70008f,#60009f,#5200ad,#4400bb,#3900c6,#2e00d1,#2600d9,#1f00e0,#1800e7,#1300ec,#0e00f1,#0a00f5,#0500fa,#0101ff,#0707ff,#0f0fff,#1818ff,#2222ff,#2d2dff,#3a3aff,#4848ff,#5757ff,#6666ff)"></i><i style="background:linear-gradient(90deg,#5c5cff,#4b4bff,#3b3bff,#2b2bff,#1d1dff,#0f0fff,#0202ff,#0a00f5,#1500ea,#1f00e0,#2900d6,#3200cd,#3c00c3,#4500ba,#4e00b1,#5700a8,#60009f,#690096,#71008e,#7a0085,#83007c,#8b0074,#94006b,#9d0062,#a60059,#af0050,#b80047,#c1003e,#ca0035,#d3002c,#db0024,#e1001e,#e60019,#e90016,#e90016,#e70018,#e2001d,#db0024,#d0002f,#c4003b,#b60049,#a60059,#95006a,#85007a,#74008b,#64009b,#5500aa,#4800b7,#3c00c3,#3200cd,#2a00d5,#2200dd,#1c00e3,#1700e8,#1200ed,#0d00f2,#0800f7,#0200fd,#0404ff,#0c0cff,#1515ff,#1f1fff,#2b2bff,#3838ff,#4646ff,#5555ff,#6565ff)"></i><i style="background:linear-gradient(90deg,#5b5bff,#4b4bff,#3a3aff,#2b2bff,#1c1cff,#0e0eff,#0202ff,#0a00f5,#1500ea,#1f00e0,#2900d6,#3200cd,#3c00c3,#4500ba,#4e00b1,#5700a8,#60009f,#680097,#71008e,#7a0085,#83007c,#8c0073,#94006b,#9d0062,#a60059,#b0004f,#b90046,#c3003c,#cc0033,#d5002a,#dd0022,#e4001b,#e90016,#ec0013,#ec0013,#ea0015,#e5001a,#de0021,#d4002b,#c70038,#b90046,#a90056,#990066,#880077,#770088,#680097,#5900a6,#4c00b3,#4000bf,#3600c9,#2d00d2,#2600d9,#2000df,#1b00e4,#1600e9,#1100ee,#0c00f3,#0600f9,#0101ff,#0909ff,#1212ff,#1c1cff,#2828ff,#3535ff,#4444ff,#5353ff,#6363ff)"></i><i style="background:linear-gradient(90deg,#5b5bff,#4a4aff,#3a3aff,#2a2aff,#1b1bff,#0e0eff,#0101ff,#0b00f4,#1500ea,#2000df,#2900d6,#3200cd,#3c00c3,#4400bb,#4d00b2,#5600a9,#5f00a0,#680097,#71008e,#7a0085,#83007c,#8c0073,#95006a,#9e0061,#a70058,#b1004e,#ba0045,#c4003b,#ce0031,#d70028,#df0020,#e60019,#eb0014,#ee0011,#ef0010,#ed0012,#e90016,#e1001e,#d70028,#cb0034,#bc0043,#ad0052,#9c0063,#8b0074,#7b0084,#6b0094,#5c00a3,#4f00b0,#4400bb,#3900c6,#3100ce,#2a00d5,#2400db,#1e00e1,#1900e6,#1500ea,#0f00f0,#0900f6,#0300fc,#0505ff,#0f0fff,#1919ff,#2525ff,#3333ff,#4141ff,#5151ff,#6161ff)"></i><i style="background:linear-gradient(90deg,#5a5aff,#4949ff,#3939ff,#2929ff,#1b1bff,#0d0dff,#0101ff,#0b00f4,#1600e9,#2000df,#2900d6,#3200cd,#3b00c4,#4400bb,#4d00b2,#5600a9,#5f00a0,#680097,#70008f,#790086,#82007d,#8b0074,#95006a,#9e0061,#a70058,#b1004e,#bb0044,#c5003a,#cf0030,#d80027,#e1001e,#e80017,#ed0012,#f1000e,#f2000d,#f0000f,#eb0014,#e4001b,#da0025,#ce0031,#bf0040,#b0004f,#9f0060,#8e0071,#7e0081,#6e0091,#60009f,#5200ad,#4700b8,#3d00c2,#3500ca,#2d00d2,#2700d8,#2200dd,#1d00e2,#1800e7,#1300ec,#0d00f2,#0600f9,#0202ff,#0b0bff,#1616ff,#2323ff,#3030ff,#3f3fff,#4f4fff,#5f5fff)"></i><i style="background:linear-gradient(90deg,#5959ff,#4949ff,#3838ff,#2929ff,#1a1aff,#0c0cff,#0000ff,#0b00f4,#1600e9,#2000df,#2900d6,#3200cd,#3b00c4,#4400bb,#4c00b3,#5500aa,#5e00a1,#670098,#70008f,#790086,#82007d,#8b0074,#94006b,#9e0061,#a80057,#b2004d,#bc0043,#c60039,#d0002f,#da0025,#e2001d,#ea0015,#ef0010,#f3000c,#f4000b,#f2000d,#ee0011,#e70018,#dd0022,#d0002f,#c2003d,#b3004c,#a2005d,#91006e,#81007e,#71008e,#63009c,#5600a9,#4a00b5,#4000bf,#3800c7,#3100ce,#2b00d4,#2600d9,#2100de,#1c00e3,#1700e8,#1100ee,#0a00f5,#0200fd,#0808ff,#1313ff,#2020ff,#2d2dff,#3c3cff,#4c4cff,#5d5dff)"></i><i style="background:linear-gradient(90deg,#5959ff,#4848ff,#3737ff,#2828ff,#1919ff,#0c0cff,#0100fe,#0c00f3,#1600e9,#2000df,#2900d6,#3200cd,#3b00c4,#4300bc,#4c00b3,#5400ab,#5d00a2,#660099,#6f0090,#780087,#81007e,#8a0075,#94006b,#9e0061,#a80057,#b2004d,#bc0043,#c70038,#d1002e,#db0024,#e4001b,#ec0013,#f1000e,#f5000a,#f60009,#f5000a,#f0000f,#e90016,#df0020,#d3002c,#c5003a,#b5004a,#a5005a,#94006b,#83007c,#74008b,#65009a,#5800a7,#4d00b2,#4300bc,#3b00c4,#3400cb,#2f00d0,#2a00d5,#2500da,#2000df,#1b00e4,#1500ea,#0e00f1,#0500fa,#0404ff,#1010ff,#1c1cff,#2a2aff,#3a3aff,#4a4aff,#5a5aff)"></i><i style="background:linear-gradient(90deg,#5858ff,#4747ff,#3737ff,#2727ff,#1919ff,#0b0bff,#0100fe,#0c00f3,#1700e8,#2000df,#2900d6,#3200cd,#3a00c5,#4200bd,#4b00b4,#5300ac,#5c00a3,#65009a,#6e0091,#770088,#80007f,#890076,#93006c,#9d0062,#a70058,#b2004d,#bd0042,#c70038,#d2002d,#dc0023,#e5001a,#ed0012,#f3000c,#f70008,#f80007,#f70008,#f3000c,#eb0014,#e1001e,#d5002a,#c70038,#b70048,#a70058,#960069,#860079,#760089,#680097,#5b00a4,#5000af,#4700b8,#3f00c0,#3800c7,#3200cd,#2d00d2,#2900d6,#2400db,#1f00e0,#1900e6,#1100ee,#0900f6,#0101ff,#0c0cff,#1919ff,#2727ff,#3737ff,#4747ff,#5858ff)"></i><i style="background:linear-gradient(90deg,#5757ff,#4646ff,#3636ff,#2626ff,#1818ff,#0a0aff,#0200fd,#0d00f2,#1700e8,#2000df,#2900d6,#3100ce,#3900c6,#4100be,#4a00b5,#5200ad,#5a00a5,#63009c,#6c0093,#75008a,#7f0080,#880077,#92006d,#9c0063,#a70058,#b2004d,#bd0042,#c80037,#d3002c,#dd0022,#e60019,#ee0011,#f5000a,#f90006,#fa0005,#f90006,#f5000a,#ed0012,#e3001c,#d70028,#c90036,#b90046,#a90056,#980067,#880077,#790086,#6a0095,#5e00a1,#5300ac,#4900b6,#4200bd,#3b00c4,#3600c9,#3100ce,#2c00d3,#2800d7,#2300dc,#1d00e2,#1500ea,#0d00f2,#0300fc,#0909ff,#1616ff,#2424ff,#3434ff,#4444ff,#5555ff)"></i><i style="background:linear-gradient(90deg,#5656ff,#4545ff,#3535ff,#2525ff,#1717ff,#0a0aff,#0200fd,#0d00f2,#1700e8,#2000df,#2900d6,#3100ce,#3900c6,#4000bf,#4800b7,#5100ae,#5900a6,#62009d,#6b0094,#74008b,#7d0082,#870078,#91006e,#9c0063,#a60059,#b1004e,#bd0042,#c80037,#d3002c,#de0021,#e70018,#f0000f,#f60009,#fa0005,#fc0003,#fa0005,#f60009,#ef0010,#e5001a,#d90026,#cb0034,#bb0044,#ab0054,#9a0065,#8a0075,#7b0084,#6d0092,#60009f,#5500aa,#4c00b3,#4500ba,#3e00c1,#3900c6,#3500ca,#3000cf,#2c00d3,#2700d8,#2100de,#1900e6,#1100ee,#0700f8,#0505ff,#1212ff,#2121ff,#3131ff,#4141ff,#5353ff)"></i><i style="background:linear-gradient(90deg,#5555ff,#4444ff,#3434ff,#2424ff,#1616ff,#0909ff,#0300fc,#0e00f1,#1700e8,#2000df,#2800d7,#3000cf,#3800c7,#3f00c0,#4700b8,#4f00b0,#5700a8,#60009f,#690096,#72008d,#7b0084,#85007a,#90006f,#9a0065,#a5005a,#b1004e,#bc0043,#c80037,#d3002c,#de0021,#e80017,#f0000f,#f70008,#fb0004,#fd0002,#fc0003,#f80007,#f0000f,#e70018,#da0025,#cc0033,#bc0043,#ac0053,#9c0063,#8c0073,#7c0083,#6f0090,#62009d,#5800a7,#4f00b0,#4800b7,#4200bd,#3d00c2,#3800c7,#3400cb,#3000cf,#2b00d4,#2500da,#1e00e1,#1500ea,#0b00f4,#0101ff,#0e0eff,#1d1dff,#2d2dff,#3e3eff,#5050ff)"></i><i style="background:linear-gradient(90deg,#5454ff,#4343ff,#3333ff,#2323ff,#1515ff,#0808ff,#0400fb,#0e00f1,#1800e7,#2000df,#2800d7,#3000cf,#3700c8,#3e00c1,#4600b9,#4d00b2,#5500aa,#5e00a1,#670098,#70008f,#7a0085,#84007b,#8e0071,#990066,#a4005b,#b0004f,#bc0043,#c80037,#d3002c,#de0021,#e80017,#f1000e,#f80007,#fc0003,#fe0001,#fd0002,#f90006,#f1000e,#e80017,#db0024,#cd0032,#be0041,#ad0052,#9d0062,#8d0072,#7e0081,#70008f,#64009b,#5a00a5,#5100ae,#4a00b5,#4500ba,#4000bf,#3c00c3,#3800c7,#3400cb,#2f00d0,#2900d6,#2200dd,#1900e6,#0f00f0,#0300fc,#0b0bff,#1a1aff,#2a2aff,#3b3bff,#4d4dff)"></i><i style="background:linear-gradient(90deg,#5353ff,#4242ff,#3131ff,#2222ff,#1414ff,#0707ff,#0500fa,#0f00f0,#1800e7,#2000df,#2800d7,#2f00d0,#3600c9,#3d00c2,#4400bb,#4b00b4,#5300ac,#5c00a3,#64009b,#6e0091,#770088,#81007e,#8c0073,#970068,#a3005c,#af0050,#bb0044,#c70038,#d3002c,#de0021,#e90016,#f1000e,#f80007,#fd0002,#ff0000,#fd0002,#f90006,#f2000d,#e80017,#dc0023,#ce0031,#be0041,#ae0051,#9e0061,#8e0071,#7f0080,#72008d,#660099,#5c00a3,#5400ab,#4d00b2,#4800b7,#4300bc,#4000bf,#3c00c3,#3800c7,#3300cc,#2d00d2,#2600d9,#1e00e1,#1300ec,#0700f8,#0707ff,#1616ff,#2626ff,#3838ff,#4a4aff)"></i><i style="background:linear-gradient(90deg,#5252ff,#4141ff,#3030ff,#2121ff,#1313ff,#0606ff,#0500fa,#0f00f0,#1800e7,#2000df,#2700d8,#2e00d1,#3500ca,#3b00c4,#4200bd,#4900b6,#5100ae,#5900a6,#62009d,#6b0094,#75008a,#7f0080,#8a0075,#95006a,#a1005e,#ad0052,#ba0045,#c60039,#d2002d,#de0021,#e80017,#f1000e,#f80007,#fd0002,#ff0000,#fe0001,#fa0005,#f3000c,#e90016,#dd0022,#ce0031,#bf0040,#af0050,#9f0060,#8f0070,#80007f,#73008c,#680097,#5e00a1,#5600a9,#5000af,#4b00b4,#4700b8,#4300bc,#4000bf,#3c00c3,#3700c8,#3200cd,#2b00d4,#2200dd,#1800e7,#0b00f4,#0303ff,#1212ff,#2323ff,#3535ff,#4747ff)"></i><i style="background:linear-gradient(90deg,#5050ff,#3f3fff,#2f2fff,#1f1fff,#1111ff,#0505ff,#0600f9,#1000ef,#1900e6,#2000df,#2700d8,#2d00d2,#3400cb,#3a00c5,#4000bf,#4700b8,#4f00b0,#5700a8,#5f00a0,#690096,#72008d,#7d0082,#880077,#93006c,#9f0060,#ac0053,#b80047,#c5003a,#d1002e,#dd0022,#e80017,#f1000e,#f80007,#fd0002,#ff0000,#fe0001,#fa0005,#f3000c,#e90016,#dd0022,#cf0030,#bf0040,#af0050,#9f0060,#90006f,#81007e,#74008b,#690096,#60009f,#5800a7,#5200ad,#4e00b1,#4a00b5,#4700b8,#4400bb,#4000bf,#3c00c3,#3600c9,#2f00d0,#2600d9,#1c00e3,#1000ef,#0200fd,#0e0eff,#1f1fff,#3131ff,#4444ff)"></i><i style="background:linear-gradient(90deg,#4f4fff,#3e3eff,#2d2dff,#1e1eff,#1010ff,#0404ff,#0700f8,#1100ee,#1900e6,#2000df,#2700d8,#2d00d2,#3200cd,#3800c7,#3e00c1,#4500ba,#4c00b3,#5400ab,#5d00a2,#660099,#6f0090,#7a0085,#85007a,#91006e,#9d0062,#aa0055,#b70048,#c4003b,#d0002f,#dc0023,#e70018,#f0000f,#f80007,#fd0002,#ff0000,#fe0001,#fa0005,#f3000c,#e90016,#dd0022,#ce0031,#bf0040,#af0050,#9f0060,#90006f,#82007d,#75008a,#6b0094,#62009d,#5a00a5,#5500aa,#5100ae,#4d00b2,#4a00b5,#4800b7,#4400bb,#4000bf,#3b00c4,#3400cb,#2b00d4,#2000df,#1400eb,#0600f9,#0a0aff,#1b1bff,#2d2dff,#4040ff)"></i><i style="background:linear-gradient(90deg,#4d4dff,#3c3cff,#2c2cff,#1d1dff,#0f0fff,#0303ff,#0800f7,#1100ee,#1900e6,#2000df,#2600d9,#2c00d3,#3100ce,#3700c8,#3c00c3,#4300bc,#4a00b5,#5100ae,#5a00a5,#63009c,#6c0093,#770088,#82007d,#8e0071,#9a0065,#a70058,#b5004a,#c2003d,#cf0030,#db0024,#e60019,#f0000f,#f70008,#fc0003,#fe0001,#fd0002,#f90006,#f2000d,#e80017,#dc0023,#ce0031,#bf0040,#af0050,#9f0060,#90006f,#83007c,#760089,#6c0093,#63009c,#5c00a3,#5700a8,#5300ac,#5000af,#4e00b1,#4b00b4,#4800b7,#4400bb,#3f00c0,#3800c7,#3000cf,#2500da,#1900e6,#0a00f5,#0606ff,#1717ff,#2a2aff,#3d3dff)"></i><i style="background:linear-gradient(90deg,#4c4cff,#3a3aff,#2a2aff,#1b1bff,#0d0dff,#0101ff,#0900f6,#1200ed,#1a00e5,#2000df,#2600d9,#2b00d4,#3000cf,#3500ca,#3a00c5,#4000bf,#4700b8,#4e00b1,#5600a9,#5f00a0,#690096,#74008b,#7f0080,#8b0074,#980067,#a5005a,#b2004d,#c0003f,#cd0032,#d90026,#e5001a,#ee0011,#f60009,#fb0004,#fd0002,#fc0003,#f80007,#f1000e,#e70018,#db0024,#cd0032,#be0041,#af0050,#9f0060,#90006f,#83007c,#770088,#6d0092,#65009a,#5e00a1,#5a00a5,#5600a9,#5400ab,#5100ae,#4f00b0,#4d00b2,#4900b6,#4400bb,#3d00c2,#3400cb,#2a00d5,#1d00e2,#0f00f0,#0202ff,#1313ff,#2626ff,#3a3aff)"></i><i style="background:linear-gradient(90deg,#4a4aff,#3939ff,#2828ff,#1919ff,#0c0cff,#0000ff,#0a00f5,#1300ec,#1a00e5,#2000df,#2500da,#2a00d5,#2f00d0,#3300cc,#3800c7,#3e00c1,#4400bb,#4b00b4,#5300ac,#5c00a3,#660099,#70008f,#7c0083,#880077,#95006a,#a2005d,#b0004f,#bd0042,#cb0034,#d70028,#e3001c,#ed0012,#f4000b,#f90006,#fc0003,#fb0004,#f70008,#f0000f,#e60019,#da0025,#cc0033,#bd0042,#ae0051,#9f0060,#90006f,#83007c,#770088,#6e0091,#660099,#60009f,#5c00a3,#5900a6,#5700a8,#5500aa,#5300ac,#5100ae,#4d00b2,#4800b7,#4200bd,#3900c6,#2e00d1,#2200dd,#1300ec,#0300fc,#0f0fff,#2222ff,#3636ff)"></i><i style="background:linear-gradient(90deg,#4848ff,#3737ff,#2727ff,#1818ff,#0a0aff,#0200fd,#0b00f4,#1400eb,#1b00e4,#2000df,#2500da,#2900d6,#2d00d2,#3100ce,#3600c9,#3b00c4,#4100be,#4800b7,#5000af,#5800a7,#62009d,#6d0092,#780087,#85007a,#92006d,#9f0060,#ad0052,#bb0044,#c80037,#d5002a,#e1001e,#eb0014,#f2000d,#f80007,#fa0005,#f90006,#f5000a,#ee0011,#e5001a,#d90026,#cb0034,#bc0043,#ad0052,#9e0061,#90006f,#83007c,#780087,#6e0091,#670098,#62009d,#5e00a1,#5b00a4,#5a00a5,#5800a7,#5700a8,#5500aa,#5200ad,#4d00b2,#4600b9,#3e00c1,#3300cc,#2600d9,#1800e7,#0700f8,#0b0bff,#1f1fff,#3333ff)"></i><i style="background:linear-gradient(90deg,#4646ff,#3535ff,#2525ff,#1616ff,#0808ff,#0300fc,#0d00f2,#1500ea,#1b00e4,#2000df,#2400db,#2800d7,#2c00d3,#2f00d0,#3300cc,#3800c7,#3e00c1,#4400bb,#4c00b3,#5500aa,#5e00a1,#690096,#75008a,#81007e,#8e0071,#9c0063,#aa0055,#b80047,#c60039,#d3002c,#de0021,#e80017,#f0000f,#f5000a,#f80007,#f70008,#f3000c,#ec0013,#e3001c,#d70028,#c90036,#bb0044,#ac0053,#9d0062,#8f0070,#83007c,#780087,#6f0090,#680097,#63009c,#60009f,#5e00a1,#5d00a2,#5c00a3,#5b00a4,#5900a6,#5600a9,#5200ad,#4b00b4,#4300bc,#3800c7,#2b00d4,#1c00e3,#0b00f4,#0707ff,#1b1bff,#2f2fff)"></i><i style="background:linear-gradient(90deg,#4444ff,#3333ff,#2323ff,#1414ff,#0707ff,#0500fa,#0e00f1,#1600e9,#1c00e3,#2000df,#2400db,#2700d8,#2a00d5,#2d00d2,#3100ce,#3500ca,#3b00c4,#4100be,#4800b7,#5100ae,#5a00a5,#65009a,#71008e,#7d0082,#8a0075,#980067,#a70058,#b5004a,#c3003c,#d0002f,#dc0023,#e60019,#ee0011,#f3000c,#f5000a,#f5000a,#f1000e,#ea0015,#e0001f,#d5002a,#c70038,#b90046,#aa0055,#9c0063,#8e0071,#82007d,#780087,#70008f,#690096,#65009a,#62009d,#61009e,#60009f,#5f00a0,#5f00a0,#5d00a2,#5b00a4,#5600a9,#5000af,#4700b8,#3d00c2,#3000cf,#2100de,#1000ef,#0303ff,#1717ff,#2c2cff)"></i><i style="background:linear-gradient(90deg,#4242ff,#3131ff,#2121ff,#1212ff,#0505ff,#0600f9,#0f00f0,#1600e9,#1c00e3,#2000df,#2400db,#2600d9,#2900d6,#2b00d4,#2e00d1,#3200cd,#3700c8,#3d00c2,#4400bb,#4d00b2,#5600a9,#61009e,#6c0093,#790086,#870078,#95006a,#a3005c,#b1004e,#bf0040,#cd0032,#d90026,#e3001c,#eb0014,#f0000f,#f3000c,#f2000d,#ee0011,#e70018,#de0021,#d2002d,#c5003a,#b70048,#a90056,#9b0064,#8d0072,#82007d,#780087,#70008f,#6a0095,#660099,#64009b,#63009c,#63009c,#63009c,#62009d,#61009e,#5f00a0,#5b00a4,#5500aa,#4c00b3,#4200bd,#3400cb,#2500da,#1400eb,#0100fe,#1313ff,#2828ff)"></i><i style="background:linear-gradient(90deg,#4040ff,#2f2fff,#1e1eff,#1010ff,#0303ff,#0800f7,#1100ee,#1700e8,#1d00e2,#2000df,#2300dc,#2500da,#2700d8,#2900d6,#2c00d3,#2f00d0,#3400cb,#3900c6,#4000bf,#4800b7,#5200ad,#5c00a3,#680097,#75008a,#82007d,#91006e,#9f0060,#ae0051,#bc0043,#c90036,#d5002a,#df0020,#e80017,#ed0012,#ef0010,#ef0010,#eb0014,#e4001b,#db0024,#d0002f,#c3003c,#b5004a,#a70058,#990066,#8c0073,#81007e,#780087,#70008f,#6b0094,#680097,#660099,#65009a,#660099,#660099,#660099,#65009a,#63009c,#5f00a0,#5900a6,#5100ae,#4600b9,#3900c6,#2a00d5,#1800e7,#0500fa,#0f0fff,#2525ff)"></i><i style="background:linear-gradient(90deg,#3e3eff,#2c2cff,#1c1cff,#0e0eff,#0101ff,#0900f6,#1200ed,#1800e7,#1d00e2,#2000df,#2300dc,#2400db,#2500da,#2700d8,#2900d6,#2c00d3,#3000cf,#3600c9,#3c00c3,#4400bb,#4d00b2,#5800a7,#64009b,#71008e,#7e0081,#8c0073,#9b0064,#aa0055,#b80047,#c5003a,#d2002d,#dc0023,#e4001b,#e90016,#ec0013,#eb0014,#e80017,#e1001e,#d80027,#cd0032,#c0003f,#b2004d,#a5005a,#970068,#8b0074,#80007f,#770088,#71008e,#6c0093,#690096,#680097,#680097,#680097,#690096,#6a0095,#690096,#680097,#64009b,#5e00a1,#5600a9,#4b00b4,#3e00c1,#2e00d1,#1d00e2,#0900f6,#0c0cff,#2121ff)"></i><i style="background:linear-gradient(90deg,#3b3bff,#2a2aff,#1a1aff,#0b0bff,#0100fe,#0b00f4,#1300ec,#1900e6,#1e00e1,#2000df,#2200dd,#2300dc,#2400db,#2500da,#2700d8,#2900d6,#2d00d2,#3200cd,#3800c7,#4000bf,#4900b6,#5300ac,#5f00a0,#6c0093,#7a0085,#880077,#970068,#a5005a,#b4004b,#c1003e,#cd0032,#d80027,#e0001f,#e5001a,#e80017,#e80017,#e4001b,#de0021,#d5002a,#ca0035,#bd0042,#b0004f,#a2005d,#95006a,#8a0075,#7f0080,#770088,#71008e,#6c0093,#6a0095,#690096,#6a0095,#6b0094,#6c0093,#6d0092,#6d0092,#6c0093,#680097,#62009d,#5a00a5,#5000af,#4200bd,#3300cc,#2100de,#0d00f2,#0808ff,#1e1eff)"></i><i style="background:linear-gradient(90deg,#3939ff,#2727ff,#1818ff,#0909ff,#0300fc,#0d00f2,#1500ea,#1a00e5,#1e00e1,#2000df,#2100de,#2200dd,#2200dd,#2300dc,#2400db,#2600d9,#2900d6,#2e00d1,#3400cb,#3b00c4,#4400bb,#4f00b0,#5a00a5,#670098,#75008a,#83007c,#92006d,#a1005e,#af0050,#bd0042,#c90036,#d4002b,#dc0023,#e1001e,#e4001b,#e3001c,#e0001f,#da0025,#d1002e,#c60039,#ba0045,#ad0052,#a0005f,#93006c,#880077,#7e0081,#760089,#71008e,#6d0092,#6b0094,#6b0094,#6c0093,#6e0091,#70008f,#71008e,#71008e,#70008f,#6d0092,#670098,#5f00a0,#5400ab,#4700b8,#3700c8,#2500da,#1100ee,#0404ff,#1a1aff)"></i><i style="background:linear-gradient(90deg,#3636ff,#2525ff,#1515ff,#0707ff,#0500fa,#0f00f0,#1600e9,#1b00e4,#1e00e1,#2000df,#2100de,#2100de,#2000df,#2000df,#2100de,#2300dc,#2500da,#2a00d5,#2f00d0,#3700c8,#4000bf,#4a00b5,#5600a9,#62009d,#70008f,#7f0080,#8d0072,#9c0063,#ab0054,#b80047,#c5003a,#cf0030,#d70028,#dd0022,#df0020,#df0020,#dc0023,#d60029,#cd0032,#c2003d,#b70048,#aa0055,#9d0062,#91006e,#860079,#7d0082,#760089,#71008e,#6e0091,#6c0093,#6d0092,#6e0091,#70008f,#73008c,#74008b,#75008a,#74008b,#71008e,#6b0094,#63009c,#5800a7,#4b00b4,#3b00c4,#2900d6,#1500ea,#0101ff,#1717ff)"></i><i style="background:linear-gradient(90deg,#3434ff,#2323ff,#1313ff,#0505ff,#0700f8,#1000ef,#1700e8,#1c00e3,#1f00e0,#2000df,#2000df,#2000df,#1f00e0,#1e00e1,#1e00e1,#1f00e0,#2200dd,#2600d9,#2b00d4,#3200cd,#3b00c4,#4500ba,#5100ae,#5d00a2,#6b0094,#7a0085,#880077,#970068,#a60059,#b3004c,#c0003f,#ca0035,#d2002d,#d80027,#db0024,#da0025,#d70028,#d1002e,#c90036,#bf0040,#b3004c,#a70058,#9b0064,#8f0070,#85007a,#7c0083,#75008a,#71008e,#6e0091,#6d0092,#6e0091,#70008f,#73008c,#75008a,#770088,#780087,#780087,#75008a,#6f0090,#670098,#5d00a2,#4f00b0,#3f00c0,#2d00d2,#1900e6,#0300fc,#1414ff)"></i><i style="background:linear-gradient(90deg,#3131ff,#2020ff,#1010ff,#0303ff,#0900f6,#1200ed,#1900e6,#1d00e2,#1f00e0,#2000df,#1f00e0,#1e00e1,#1d00e2,#1c00e3,#1b00e4,#1c00e3,#1e00e1,#2100de,#2700d8,#2e00d1,#3600c9,#4000bf,#4c00b3,#5800a7,#660099,#74008b,#83007c,#92006d,#a1005e,#ae0051,#bb0044,#c5003a,#cd0032,#d3002c,#d60029,#d5002a,#d2002d,#cd0032,#c4003b,#ba0045,#af0050,#a3005c,#980067,#8d0072,#83007c,#7b0084,#74008b,#70008f,#6e0091,#6e0091,#70008f,#72008d,#75008a,#780087,#7b0084,#7c0083,#7b0084,#790086,#73008c,#6b0094,#61009e,#5300ac,#4300bc,#3100ce,#1c00e3,#0600f9,#1111ff)"></i><i style="background:linear-gradient(90deg,#2f2fff,#1e1eff,#0e0eff,#0000ff,#0b00f4,#1400eb,#1a00e5,#1e00e1,#2000df,#2000df,#1f00e0,#1d00e2,#1b00e4,#1900e6,#1800e7,#1900e6,#1a00e5,#1d00e2,#2200dd,#2900d6,#3100ce,#3b00c4,#4600b9,#5300ac,#61009e,#6f0090,#7e0081,#8d0072,#9b0064,#a90056,#b5004a,#c0003f,#c80037,#cd0032,#d0002f,#d0002f,#cd0032,#c80037,#c0003f,#b60049,#ab0054,#a0005f,#95006a,#8a0075,#81007e,#790086,#73008c,#70008f,#6e0091,#6f0090,#71008e,#74008b,#770088,#7b0084,#7e0081,#7f0080,#7f0080,#7c0083,#770088,#6f0090,#65009a,#5700a8,#4700b8,#3400cb,#2000df,#0900f6,#0e0eff)"></i><i style="background:linear-gradient(90deg,#2c2cff,#1b1bff,#0c0cff,#0200fd,#0d00f2,#1500ea,#1b00e4,#1f00e0,#2000df,#2000df,#1e00e1,#1c00e3,#1900e6,#1700e8,#1500ea,#1500ea,#1600e9,#1900e6,#1e00e1,#2400db,#2c00d3,#3600c9,#4100be,#4e00b1,#5b00a4,#6a0095,#790086,#870078,#960069,#a3005c,#b0004f,#ba0045,#c2003d,#c80037,#cb0034,#cb0034,#c80037,#c2003d,#bb0044,#b2004d,#a70058,#9c0063,#91006e,#870078,#7f0080,#780087,#72008d,#6f0090,#6f0090,#70008f,#72008d,#75008a,#790086,#7d0082,#80007f,#82007d,#82007d,#80007f,#7b0084,#73008c,#680097,#5b00a4,#4a00b5,#3800c7,#2300dc,#0c00f3,#0b0bff)"></i><i style="background:linear-gradient(90deg,#2a2aff,#1919ff,#0909ff,#0400fb,#0f00f0,#1700e8,#1c00e3,#1f00e0,#2000df,#1f00e0,#1d00e2,#1a00e5,#1700e8,#1400eb,#1200ed,#1200ed,#1300ec,#1500ea,#1900e6,#1f00e0,#2700d8,#3100ce,#3c00c3,#4900b6,#5600a9,#64009b,#73008c,#82007d,#90006f,#9e0061,#aa0055,#b4004b,#bc0043,#c2003d,#c5003a,#c5003a,#c2003d,#bd0042,#b60049,#ad0052,#a3005c,#980067,#8e0071,#85007a,#7c0083,#760089,#71008e,#6f0090,#6f0090,#70008f,#73008c,#770088,#7b0084,#80007f,#83007c,#85007a,#85007a,#83007c,#7e0081,#770088,#6c0093,#5e00a1,#4e00b1,#3b00c4,#2600d9,#0f00f0,#0909ff)"></i><i style="background:linear-gradient(90deg,#2727ff,#1616ff,#0707ff,#0600f9,#1000ef,#1800e7,#1d00e2,#2000df,#2000df,#1f00e0,#1c00e3,#1900e6,#1500ea,#1200ed,#0f00f0,#0e00f1,#0f00f0,#1100ee,#1500ea,#1b00e4,#2200dd,#2c00d3,#3700c8,#4300bc,#5100ae,#5f00a0,#6d0092,#7c0083,#8a0075,#980067,#a4005b,#ae0051,#b60049,#bc0043,#bf0040,#bf0040,#bd0042,#b80047,#b1004e,#a80057,#9e0061,#94006b,#8b0074,#82007d,#7a0085,#74008b,#70008f,#6e0091,#6e0091,#70008f,#74008b,#780087,#7d0082,#82007d,#85007a,#880077,#880077,#860079,#82007d,#7a0085,#6f0090,#61009e,#5100ae,#3e00c1,#2900d6,#1200ed,#0606ff)"></i><i style="background:linear-gradient(90deg,#2525ff,#1414ff,#0505ff,#0800f7,#1200ed,#1a00e5,#1e00e1,#2000df,#2000df,#1e00e1,#1b00e4,#1700e8,#1300ec,#0f00f0,#0c00f3,#0b00f4,#0b00f4,#0d00f2,#1000ef,#1600e9,#1d00e2,#2700d8,#3200cd,#3e00c1,#4b00b4,#5900a6,#680097,#760089,#84007b,#92006d,#9e0061,#a80057,#b0004f,#b60049,#b90046,#b90046,#b70048,#b2004d,#ab0054,#a3005c,#9a0065,#90006f,#870078,#7f0080,#770088,#72008d,#6f0090,#6e0091,#6e0091,#71008e,#75008a,#790086,#7f0080,#84007b,#880077,#8a0075,#8b0074,#890076,#84007b,#7d0082,#72008d,#64009b,#5400ab,#4100be,#2b00d4,#1400eb,#0404ff)"></i><i style="background:linear-gradient(90deg,#2323ff,#1212ff,#0303ff,#0a00f5,#1400eb,#1b00e4,#1f00e0,#2100de,#2000df,#1e00e1,#1a00e5,#1500ea,#1100ee,#0d00f2,#0900f6,#0700f8,#0700f8,#0800f7,#0c00f3,#1100ee,#1800e7,#2200dd,#2c00d3,#3800c7,#4600b9,#5300ac,#62009d,#70008f,#7e0081,#8b0074,#970068,#a1005e,#a90056,#af0050,#b2004d,#b3004c,#b0004f,#ac0053,#a60059,#9e0061,#95006a,#8c0073,#83007c,#7b0084,#75008a,#70008f,#6d0092,#6d0092,#6e0091,#71008e,#75008a,#7a0085,#80007f,#85007a,#8a0075,#8d0072,#8d0072,#8c0073,#870078,#80007f,#75008a,#670098,#5600a9,#4300bc,#2e00d1,#1600e9,#0202ff)"></i><i style="background:linear-gradient(90deg,#2020ff,#0f0fff,#0101ff,#0c00f3,#1500ea,#1c00e3,#2000df,#2100de,#2000df,#1d00e2,#1900e6,#1400eb,#0f00f0,#0a00f5,#0600f9,#0400fb,#0300fc,#0400fb,#0700f8,#0c00f3,#1300ec,#1c00e3,#2700d8,#3300cc,#4000bf,#4e00b1,#5c00a3,#6a0095,#780087,#85007a,#91006e,#9b0064,#a3005c,#a80057,#ac0053,#ac0053,#aa0055,#a60059,#a0005f,#980067,#90006f,#880077,#7f0080,#780087,#72008d,#6e0091,#6c0093,#6c0093,#6d0092,#71008e,#760089,#7b0084,#81007e,#870078,#8b0074,#8e0071,#8f0070,#8e0071,#890076,#82007d,#770088,#690096,#5900a6,#4500ba,#3000cf,#1800e7,#0000ff)"></i><i style="background:linear-gradient(90deg,#1e1eff,#0d0dff,#0100fe,#0d00f2,#1700e8,#1d00e2,#2000df,#2100de,#2000df,#1c00e3,#1700e8,#1200ed,#0c00f3,#0700f8,#0300fc,#0000ff,#0101ff,#0000ff,#0300fc,#0800f7,#0f00f0,#1700e8,#2200dd,#2d00d2,#3a00c5,#4800b7,#5600a9,#64009b,#72008d,#7f0080,#8a0075,#94006b,#9c0063,#a2005d,#a5005a,#a5005a,#a4005b,#a0005f,#9a0065,#93006c,#8b0074,#83007c,#7b0084,#75008a,#6f0090,#6c0093,#6a0095,#6a0095,#6d0092,#71008e,#760089,#7c0083,#82007d,#880077,#8d0072,#90006f,#91006e,#90006f,#8c0073,#84007b,#790086,#6c0093,#5b00a4,#4700b8,#3200cd,#1a00e5,#0100fe)"></i><i style="background:linear-gradient(90deg,#1c1cff,#0c0cff,#0300fc,#0f00f0,#1800e7,#1e00e1,#2100de,#2100de,#1f00e0,#1b00e4,#1600e9,#1000ef,#0a00f5,#0400fb,#0000ff,#0303ff,#0505ff,#0404ff,#0202ff,#0300fc,#0a00f5,#1200ed,#1c00e3,#2800d7,#3500ca,#4200bd,#5000af,#5e00a1,#6c0093,#780087,#84007b,#8e0071,#95006a,#9b0064,#9e0061,#9f0060,#9d0062,#990066,#94006b,#8d0072,#860079,#7e0081,#770088,#71008e,#6c0093,#690096,#680097,#690096,#6c0093,#70008f,#760089,#7c0083,#83007c,#890076,#8e0071,#92006d,#93006c,#92006d,#8d0072,#860079,#7b0084,#6d0092,#5c00a3,#4900b6,#3300cc,#1c00e3,#0300fc)"></i><i style="background:linear-gradient(90deg,#1a1aff,#0a0aff,#0500fa,#1000ef,#1900e6,#1e00e1,#2100de,#2100de,#1e00e1,#1a00e5,#1400eb,#0e00f1,#0700f8,#0100fe,#0404ff,#0707ff,#0909ff,#0909ff,#0606ff,#0202ff,#0500fa,#0d00f2,#1700e8,#2300dc,#2f00d0,#3c00c3,#4a00b5,#5800a7,#65009a,#72008d,#7d0082,#870078,#8e0071,#94006b,#970068,#980067,#960069,#93006c,#8e0071,#880077,#81007e,#7a0085,#73008c,#6d0092,#690096,#670098,#660099,#680097,#6b0094,#70008f,#760089,#7c0083,#83007c,#8a0075,#8f0070,#93006c,#94006b,#93006c,#8f0070,#870078,#7d0082,#6f0090,#5e00a1,#4a00b5,#3400cb,#1d00e2,#0400fb)"></i><i style="background:linear-gradient(90deg,#1919ff,#0808ff,#0600f9,#1100ee,#1a00e5,#1f00e0,#2100de,#2100de,#1e00e1,#1900e6,#1300ec,#0c00f3,#0500fa,#0202ff,#0707ff,#0b0bff,#0d0dff,#0d0dff,#0b0bff,#0606ff,#0000ff,#0800f7,#1200ed,#1d00e2,#2a00d5,#3700c8,#4400bb,#5200ad,#5f00a0,#6b0094,#760089,#80007f,#870078,#8d0072,#90006f,#91006e,#90006f,#8d0072,#880077,#82007d,#7b0084,#75008a,#6f0090,#6a0095,#660099,#64009b,#64009b,#660099,#690096,#6f0090,#75008a,#7c0083,#83007c,#8a0075,#8f0070,#93006c,#95006a,#94006b,#90006f,#880077,#7e0081,#70008f,#5f00a0,#4b00b4,#3600c9,#1e00e1,#0500fa)"></i><i style="background:linear-gradient(90deg,#1717ff,#0707ff,#0700f8,#1200ed,#1a00e5,#1f00e0,#2100de,#2000df,#1d00e2,#1700e8,#1100ee,#0900f6,#0200fd,#0505ff,#0a0aff,#0e0eff,#1111ff,#1111ff,#0f0fff,#0b0bff,#0505ff,#0300fc,#0d00f2,#1800e7,#2400db,#3100ce,#3e00c1,#4c00b3,#5900a6,#65009a,#70008f,#790086,#80007f,#860079,#890076,#8a0075,#890076,#860079,#81007e,#7c0083,#760089,#70008f,#6a0095,#660099,#63009c,#61009e,#62009d,#64009b,#680097,#6e0091,#74008b,#7c0083,#83007c,#8a0075,#90006f,#94006b,#960069,#95006a,#91006e,#890076,#7f0080,#71008e,#60009f,#4c00b3,#3600c9,#1f00e0,#0500fa)"></i><i style="background:linear-gradient(90deg,#1616ff,#0606ff,#0800f7,#1300ec,#1b00e4,#1f00e0,#2100de,#1f00e0,#1b00e4,#1600e9,#0f00f0,#0700f8,#0101ff,#0808ff,#0e0eff,#1212ff,#1515ff,#1515ff,#1414ff,#1010ff,#0a0aff,#0202ff,#0800f7,#1300ec,#1f00e0,#2b00d4,#3800c7,#4600b9,#5200ad,#5e00a1,#690096,#72008d,#790086,#7f0080,#82007d,#83007c,#82007d,#7f0080,#7b0084,#760089,#70008f,#6b0094,#660099,#62009d,#5f00a0,#5e00a1,#5f00a0,#62009d,#660099,#6c0093,#73008c,#7b0084,#83007c,#8a0075,#90006f,#94006b,#960069,#95006a,#91006e,#8a0075,#7f0080,#71008e,#60009f,#4d00b2,#3700c8,#1f00e0,#0600f9)"></i><i style="background:linear-gradient(90deg,#1414ff,#0505ff,#0900f6,#1300ec,#1b00e4,#1f00e0,#2000df,#1e00e1,#1a00e5,#1400eb,#0c00f3,#0400fb,#0404ff,#0b0bff,#1111ff,#1616ff,#1919ff,#1919ff,#1818ff,#1414ff,#0e0eff,#0707ff,#0300fc,#0d00f2,#1900e6,#2600d9,#3300cc,#3f00c0,#4c00b3,#5800a7,#62009d,#6b0094,#72008d,#770088,#7b0084,#7c0083,#7b0084,#780087,#75008a,#70008f,#6b0094,#660099,#61009e,#5e00a1,#5b00a4,#5b00a4,#5c00a3,#60009f,#64009b,#6b0094,#72008d,#7a0085,#82007d,#890076,#8f0070,#94006b,#960069,#95006a,#91006e,#8a0075,#7f0080,#72008d,#61009e,#4d00b2,#3700c8,#1f00e0,#0600f9)"></i><i style="background:linear-gradient(90deg,#1313ff,#0404ff,#0900f6,#1400eb,#1b00e4,#1e00e1,#1f00e0,#1d00e2,#1800e7,#1200ed,#0a00f5,#0200fd,#0707ff,#0e0eff,#1515ff,#1a1aff,#1d1dff,#1e1eff,#1c1cff,#1919ff,#1313ff,#0c0cff,#0202ff,#0800f7,#1400eb,#2000df,#2d00d2,#3900c6,#4600b9,#5100ae,#5b00a4,#64009b,#6b0094,#70008f,#73008c,#75008a,#74008b,#72008d,#6e0091,#6a0095,#65009a,#60009f,#5c00a3,#5900a6,#5800a7,#5800a7,#5900a6,#5d00a2,#62009d,#690096,#71008e,#790086,#81007e,#880077,#8f0070,#93006c,#95006a,#94006b,#91006e,#8a0075,#7f0080,#71008e,#61009e,#4d00b2,#3700c8,#1f00e0,#0600f9)"></i><i style="background:linear-gradient(90deg,#1313ff,#0303ff,#0a00f5,#1400eb,#1a00e5,#1e00e1,#1e00e1,#1b00e4,#1600e9,#0f00f0,#0700f8,#0101ff,#0a0aff,#1212ff,#1919ff,#1e1eff,#2121ff,#2222ff,#2121ff,#1d1dff,#1818ff,#1010ff,#0707ff,#0300fc,#0e00f1,#1a00e5,#2700d8,#3300cc,#3f00c0,#4a00b5,#5500aa,#5d00a2,#64009b,#690096,#6c0093,#6d0092,#6d0092,#6b0094,#670098,#63009c,#5f00a0,#5b00a4,#5700a8,#5500aa,#5400ab,#5400ab,#5600a9,#5a00a5,#60009f,#670098,#6f0090,#770088,#7f0080,#870078,#8d0072,#92006d,#94006b,#94006b,#90006f,#890076,#7f0080,#71008e,#60009f,#4c00b3,#3700c8,#1f00e0,#0600f9)"></i><i style="background:linear-gradient(90deg,#1212ff,#0303ff,#0a00f5,#1300ec,#1a00e5,#1d00e2,#1d00e2,#1a00e5,#1400eb,#0d00f2,#0500fa,#0404ff,#0d0dff,#1515ff,#1c1cff,#2222ff,#2525ff,#2626ff,#2525ff,#2222ff,#1d1dff,#1515ff,#0c0cff,#0202ff,#0900f6,#1500ea,#2100de,#2d00d2,#3900c6,#4400bb,#4e00b1,#5600a9,#5d00a2,#62009d,#65009a,#660099,#660099,#64009b,#61009e,#5d00a2,#5900a6,#5500aa,#5200ad,#5000af,#4f00b0,#5000af,#5300ac,#5700a8,#5d00a2,#64009b,#6d0092,#75008a,#7e0081,#85007a,#8c0073,#91006e,#93006c,#92006d,#8f0070,#880077,#7e0081,#70008f,#5f00a0,#4c00b3,#3600c9,#1e00e1,#0500fa)"></i><i style="background:linear-gradient(90deg,#1212ff,#0303ff,#0900f6,#1300ec,#1900e6,#1b00e4,#1b00e4,#1800e7,#1200ed,#0a00f5,#0200fd,#0808ff,#1111ff,#1919ff,#2020ff,#2626ff,#2929ff,#2a2aff,#2929ff,#2626ff,#2121ff,#1a1aff,#1111ff,#0707ff,#0400fb,#0f00f0,#1b00e4,#2700d8,#3300cc,#3e00c1,#4700b8,#4f00b0,#5600a9,#5b00a4,#5e00a1,#5f00a0,#5f00a0,#5d00a2,#5a00a5,#5700a8,#5300ac,#5000af,#4d00b2,#4b00b4,#4b00b4,#4c00b3,#4f00b0,#5400ab,#5a00a5,#62009d,#6a0095,#73008c,#7c0083,#84007b,#8a0075,#8f0070,#91006e,#91006e,#8d0072,#870078,#7c0083,#6f0090,#5e00a1,#4b00b4,#3500ca,#1d00e2,#0400fb)"></i><i style="background:linear-gradient(90deg,#1212ff,#0303ff,#0900f6,#1200ed,#1700e8,#1a00e5,#1900e6,#1500ea,#0f00f0,#0700f8,#0202ff,#0b0bff,#1414ff,#1d1dff,#2424ff,#2a2aff,#2d2dff,#2f2fff,#2e2eff,#2b2bff,#2626ff,#1f1fff,#1616ff,#0c0cff,#0101ff,#0a00f5,#1600e9,#2200dd,#2d00d2,#3700c8,#4100be,#4800b7,#4f00b0,#5400ab,#5700a8,#5800a7,#5800a7,#5600a9,#5300ac,#5000af,#4d00b2,#4a00b5,#4800b7,#4600b9,#4600b9,#4800b7,#4c00b3,#5100ae,#5700a8,#5f00a0,#670098,#70008f,#790086,#81007e,#880077,#8d0072,#8f0070,#8f0070,#8c0073,#85007a,#7b0084,#6d0092,#5d00a2,#4900b6,#3400cb,#1c00e3,#0300fc)"></i><i style="background:linear-gradient(90deg,#1212ff,#0404ff,#0800f7,#1100ee,#1600e9,#1800e7,#1700e8,#1300ec,#0c00f3,#0400fb,#0505ff,#0f0fff,#1818ff,#2121ff,#2828ff,#2e2eff,#3232ff,#3333ff,#3232ff,#2f2fff,#2a2aff,#2323ff,#1b1bff,#1111ff,#0606ff,#0500fa,#1000ef,#1c00e3,#2700d8,#3100ce,#3a00c5,#4200bd,#4800b7,#4d00b2,#4f00b0,#5100ae,#5000af,#4f00b0,#4d00b2,#4a00b5,#4700b8,#4400bb,#4200bd,#4100be,#4200bd,#4400bb,#4800b7,#4d00b2,#5400ab,#5c00a3,#64009b,#6e0091,#760089,#7f0080,#85007a,#8a0075,#8d0072,#8d0072,#8a0075,#83007c,#790086,#6c0093,#5b00a4,#4800b7,#3200cd,#1b00e4,#0200fd)"></i><i style="background:linear-gradient(90deg,#1313ff,#0505ff,#0700f8,#0f00f0,#1400eb,#1600e9,#1400eb,#1000ef,#0900f6,#0100fe,#0808ff,#1212ff,#1c1cff,#2525ff,#2c2cff,#3232ff,#3636ff,#3737ff,#3737ff,#3434ff,#2f2fff,#2828ff,#2020ff,#1616ff,#0b0bff,#0000ff,#0b00f4,#1600e9,#2100de,#2b00d4,#3400cb,#3b00c4,#4100be,#4500ba,#4800b7,#4900b6,#4900b6,#4800b7,#4600b9,#4300bc,#4000bf,#3e00c1,#3c00c3,#3c00c3,#3d00c2,#3f00c0,#4300bc,#4900b6,#5000af,#5800a7,#61009e,#6a0095,#73008c,#7c0083,#83007c,#880077,#8a0075,#8a0075,#870078,#81007e,#770088,#690096,#5900a6,#4600b9,#3100ce,#1900e6,#0100fe)"></i><i style="background:linear-gradient(90deg,#1414ff,#0606ff,#0500fa,#0d00f2,#1200ed,#1300ec,#1200ed,#0d00f2,#0600f9,#0202ff,#0c0cff,#1616ff,#2020ff,#2929ff,#3030ff,#3636ff,#3a3aff,#3c3cff,#3b3bff,#3838ff,#3333ff,#2c2cff,#2424ff,#1b1bff,#1010ff,#0606ff,#0600f9,#1000ef,#1b00e4,#2500da,#2d00d2,#3400cb,#3a00c5,#3e00c1,#4100be,#4200bd,#4200bd,#4100be,#3f00c0,#3d00c2,#3a00c5,#3800c7,#3700c8,#3700c8,#3800c7,#3b00c4,#3f00c0,#4500ba,#4c00b3,#5400ab,#5d00a2,#670098,#70008f,#780087,#7f0080,#84007b,#870078,#870078,#84007b,#7e0081,#74008b,#670098,#5700a8,#4400bb,#2f00d0,#1700e8,#0101ff)"></i><i style="background:linear-gradient(90deg,#1515ff,#0707ff,#0400fb,#0b00f4,#1000ef,#1100ee,#0f00f0,#0a00f5,#0300fc,#0606ff,#1010ff,#1a1aff,#2424ff,#2d2dff,#3535ff,#3b3bff,#3e3eff,#4040ff,#3f3fff,#3c3cff,#3838ff,#3131ff,#2929ff,#2020ff,#1515ff,#0b0bff,#0000ff,#0b00f4,#1500ea,#1e00e1,#2700d8,#2e00d1,#3300cc,#3800c7,#3a00c5,#3b00c4,#3b00c4,#3a00c5,#3800c7,#3600c9,#3400cb,#3200cd,#3100ce,#3100ce,#3300cc,#3600c9,#3a00c5,#4000bf,#4800b7,#5000af,#5900a6,#63009c,#6c0093,#75008a,#7c0083,#81007e,#84007b,#84007b,#81007e,#7b0084,#71008e,#64009b,#5400ab,#4200bd,#2c00d3,#1500ea,#0303ff)"></i><i style="background:linear-gradient(90deg,#1616ff,#0909ff,#0200fd,#0900f6,#0d00f2,#0e00f1,#0b00f4,#0600f9,#0101ff,#0a0aff,#1414ff,#1e1eff,#2828ff,#3131ff,#3939ff,#3f3fff,#4343ff,#4444ff,#4444ff,#4141ff,#3c3cff,#3535ff,#2d2dff,#2424ff,#1a1aff,#1010ff,#0505ff,#0500fa,#0f00f0,#1900e6,#2100de,#2700d8,#2d00d2,#3100ce,#3300cc,#3400cb,#3400cb,#3300cc,#3100ce,#2f00d0,#2d00d2,#2c00d3,#2b00d4,#2b00d4,#2d00d2,#3000cf,#3500ca,#3b00c4,#4300bc,#4c00b3,#5500aa,#5f00a0,#680097,#71008e,#780087,#7d0082,#80007f,#80007f,#7e0081,#770088,#6e0091,#61009e,#5100ae,#3f00c0,#2a00d5,#1300ec,#0505ff)"></i><i style="background:linear-gradient(90deg,#1818ff,#0b0bff,#0101ff,#0600f9,#0a00f5,#0a00f5,#0800f7,#0200fd,#0505ff,#0e0eff,#1818ff,#2323ff,#2d2dff,#3636ff,#3d3dff,#4343ff,#4747ff,#4848ff,#4848ff,#4545ff,#4040ff,#3a3aff,#3232ff,#2929ff,#1f1fff,#1515ff,#0a0aff,#0000ff,#0a00f5,#1300ec,#1b00e4,#2100de,#2600d9,#2a00d5,#2c00d3,#2d00d2,#2d00d2,#2c00d3,#2a00d5,#2800d7,#2700d8,#2500da,#2500da,#2600d9,#2800d7,#2b00d4,#3000cf,#3700c8,#3e00c1,#4700b8,#5100ae,#5a00a5,#64009b,#6c0093,#74008b,#790086,#7c0083,#7c0083,#7a0085,#74008b,#6a0095,#5e00a1,#4e00b1,#3c00c3,#2700d8,#1100ee,#0707ff)"></i><i style="background:linear-gradient(90deg,#1a1aff,#0d0dff,#0303ff,#0300fc,#0700f8,#0700f8,#0400fb,#0202ff,#0909ff,#1313ff,#1d1dff,#2727ff,#3131ff,#3a3aff,#4242ff,#4848ff,#4b4bff,#4d4dff,#4c4cff,#4949ff,#4545ff,#3e3eff,#3636ff,#2d2dff,#2424ff,#1919ff,#0f0fff,#0505ff,#0400fb,#0d00f2,#1400eb,#1b00e4,#2000df,#2300dc,#2600d9,#2600d9,#2600d9,#2500da,#2400db,#2200dd,#2000df,#1f00e0,#1f00e0,#2000df,#2200dd,#2500da,#2b00d4,#3100ce,#3900c6,#4200bd,#4c00b3,#5500aa,#5f00a0,#680097,#6f0090,#74008b,#780087,#780087,#760089,#70008f,#670098,#5a00a5,#4b00b4,#3900c6,#2500da,#0e00f1,#0909ff)"></i><i style="background:linear-gradient(90deg,#1c1cff,#0f0fff,#0606ff,#0000ff,#0300fc,#0300fc,#0000ff,#0606ff,#0e0eff,#1717ff,#2121ff,#2c2cff,#3636ff,#3f3fff,#4646ff,#4c4cff,#5050ff,#5151ff,#5050ff,#4e4eff,#4949ff,#4242ff,#3b3bff,#3232ff,#2828ff,#1e1eff,#1414ff,#0a0aff,#0101ff,#0700f8,#0f00f0,#1500ea,#1900e6,#1d00e2,#1f00e0,#2000df,#1f00e0,#1e00e1,#1d00e2,#1b00e4,#1a00e5,#1900e6,#1800e7,#1a00e5,#1c00e3,#2000df,#2500da,#2c00d3,#3400cb,#3d00c2,#4700b8,#5000af,#5a00a5,#63009c,#6a0095,#70008f,#73008c,#74008b,#71008e,#6c0093,#63009c,#5700a8,#4700b8,#3600c9,#2100de,#0b00f4,#0c0cff)"></i><i style="background:linear-gradient(90deg,#1e1eff,#1212ff,#0909ff,#0303ff,#0000ff,#0101ff,#0404ff,#0a0aff,#1212ff,#1c1cff,#2626ff,#3131ff,#3a3aff,#4343ff,#4b4bff,#5151ff,#5454ff,#5555ff,#5555ff,#5252ff,#4d4dff,#4747ff,#3f3fff,#3636ff,#2d2dff,#2323ff,#1919ff,#0f0fff,#0606ff,#0200fd,#0900f6,#0f00f0,#1300ec,#1600e9,#1800e7,#1900e6,#1900e6,#1700e8,#1600e9,#1400eb,#1300ec,#1200ed,#1200ed,#1300ec,#1600e9,#1a00e5,#1f00e0,#2600d9,#2e00d1,#3700c8,#4100be,#4b00b4,#5500aa,#5d00a2,#65009a,#6b0094,#6e0091,#6f0090,#6c0093,#670098,#5e00a1,#5300ac,#4400bb,#3200cd,#1e00e1,#0800f7,#0f0fff)"></i><i style="background:linear-gradient(90deg,#2121ff,#1515ff,#0d0dff,#0707ff,#0505ff,#0505ff,#0909ff,#0f0fff,#1717ff,#2121ff,#2b2bff,#3535ff,#3f3fff,#4848ff,#4f4fff,#5555ff,#5858ff,#5a5aff,#5959ff,#5656ff,#5151ff,#4b4bff,#4343ff,#3a3aff,#3131ff,#2727ff,#1e1eff,#1414ff,#0c0cff,#0404ff,#0300fc,#0900f6,#0d00f2,#1000ef,#1200ed,#1200ed,#1200ed,#1100ee,#0f00f0,#0e00f1,#0c00f3,#0c00f3,#0c00f3,#0d00f2,#1000ef,#1400eb,#1900e6,#2000df,#2900d6,#3200cd,#3b00c4,#4500ba,#4f00b0,#5800a7,#5f00a0,#65009a,#690096,#6a0095,#670098,#62009d,#5a00a5,#4e00b1,#4000bf,#2e00d1,#1b00e4,#0500fa,#1111ff)"></i><i style="background:linear-gradient(90deg,#2424ff,#1919ff,#1010ff,#0b0bff,#0909ff,#0a0aff,#0e0eff,#1414ff,#1c1cff,#2626ff,#3030ff,#3a3aff,#4444ff,#4d4dff,#5454ff,#5a5aff,#5d5dff,#5e5eff,#5d5dff,#5a5aff,#5555ff,#4f4fff,#4747ff,#3f3fff,#3535ff,#2c2cff,#2222ff,#1919ff,#1111ff,#0909ff,#0303ff,#0300fc,#0700f8,#0a00f5,#0b00f4,#0c00f3,#0b00f4,#0a00f5,#0800f7,#0700f8,#0600f9,#0500fa,#0500fa,#0700f8,#0900f6,#0e00f1,#1300ec,#1a00e5,#2300dc,#2c00d3,#3600c9,#4000bf,#4900b6,#5200ad,#5a00a5,#60009f,#63009c,#64009b,#62009d,#5d00a2,#5500aa,#4a00b5,#3b00c4,#2a00d5,#1700e8,#0200fd,#1414ff)"></i><i style="background:linear-gradient(90deg,#2727ff,#1c1cff,#1414ff,#0f0fff,#0d0dff,#0e0eff,#1212ff,#1919ff,#2121ff,#2b2bff,#3535ff,#3f3fff,#4949ff,#5252ff,#5959ff,#5e5eff,#6161ff,#6262ff,#6161ff,#5e5eff,#5959ff,#5353ff,#4b4bff,#4343ff,#3a3aff,#3030ff,#2727ff,#1e1eff,#1616ff,#0e0eff,#0808ff,#0303ff,#0100fe,#0400fb,#0500fa,#0500fa,#0400fb,#0300fc,#0200fd,#0000ff,#0101ff,#0202ff,#0101ff,#0000ff,#0300fc,#0700f8,#0d00f2,#1400eb,#1d00e2,#2600d9,#2f00d0,#3900c6,#4300bc,#4c00b3,#5400ab,#5a00a5,#5d00a2,#5f00a0,#5d00a2,#5800a7,#5000af,#4500ba,#3700c8,#2600d9,#1300ec,#0101ff,#1717ff)"></i><i style="background:linear-gradient(90deg,#2a2aff,#2020ff,#1818ff,#1414ff,#1212ff,#1313ff,#1818ff,#1e1eff,#2626ff,#3030ff,#3a3aff,#4444ff,#4e4eff,#5757ff,#5d5dff,#6363ff,#6666ff,#6767ff,#6666ff,#6262ff,#5e5eff,#5757ff,#5050ff,#4747ff,#3e3eff,#3535ff,#2b2bff,#2323ff,#1b1bff,#1313ff,#0d0dff,#0909ff,#0505ff,#0303ff,#0101ff,#0101ff,#0202ff,#0303ff,#0505ff,#0707ff,#0808ff,#0808ff,#0808ff,#0606ff,#0303ff,#0100fe,#0700f8,#0e00f1,#1600e9,#1f00e0,#2900d6,#3300cc,#3d00c2,#4600b9,#4e00b1,#5400ab,#5700a8,#5900a6,#5700a8,#5300ac,#4b00b4,#4000bf,#3200cd,#2200dd,#1000ef,#0505ff,#1b1bff)"></i><i style="background:linear-gradient(90deg,#2e2eff,#2424ff,#1c1cff,#1818ff,#1717ff,#1818ff,#1d1dff,#2323ff,#2c2cff,#3535ff,#4040ff,#4a4aff,#5353ff,#5b5bff,#6262ff,#6767ff,#6a6aff,#6b6bff,#6a6aff,#6666ff,#6262ff,#5b5bff,#5454ff,#4b4bff,#4242ff,#3939ff,#3030ff,#2727ff,#1f1fff,#1919ff,#1313ff,#0e0eff,#0b0bff,#0909ff,#0808ff,#0808ff,#0909ff,#0a0aff,#0c0cff,#0d0dff,#0e0eff,#0f0fff,#0f0fff,#0d0dff,#0a0aff,#0606ff,#0000ff,#0700f8,#1000ef,#1900e6,#2300dc,#2d00d2,#3600c9,#3f00c0,#4700b8,#4d00b2,#5100ae,#5300ac,#5100ae,#4d00b2,#4600b9,#3b00c4,#2e00d1,#1e00e1,#0b00f4,#0909ff,#1e1eff)"></i><i style="background:linear-gradient(90deg,#3232ff,#2828ff,#2121ff,#1d1dff,#1c1cff,#1e1eff,#2222ff,#2929ff,#3131ff,#3b3bff,#4545ff,#4f4fff,#5858ff,#6060ff,#6767ff,#6c6cff,#6e6eff,#6f6fff,#6e6eff,#6a6aff,#6565ff,#5f5fff,#5757ff,#4f4fff,#4646ff,#3d3dff,#3434ff,#2c2cff,#2424ff,#1d1dff,#1818ff,#1313ff,#1010ff,#0e0eff,#0e0eff,#0e0eff,#0f0fff,#1010ff,#1212ff,#1414ff,#1515ff,#1616ff,#1515ff,#1414ff,#1111ff,#0c0cff,#0606ff,#0100fe,#0900f6,#1200ed,#1c00e3,#2600d9,#3000cf,#3900c6,#4000bf,#4700b8,#4b00b4,#4c00b3,#4b00b4,#4700b8,#4000bf,#3600c9,#2900d6,#1900e6,#0700f8,#0c0cff,#2121ff)"></i><i style="background:linear-gradient(90deg,#3636ff,#2c2cff,#2626ff,#2222ff,#2121ff,#2323ff,#2828ff,#2e2eff,#3737ff,#4040ff,#4a4aff,#5454ff,#5d5dff,#6565ff,#6c6cff,#7070ff,#7373ff,#7373ff,#7272ff,#6e6eff,#6969ff,#6363ff,#5b5bff,#5353ff,#4a4aff,#4141ff,#3838ff,#3030ff,#2929ff,#2222ff,#1d1dff,#1919ff,#1616ff,#1414ff,#1414ff,#1414ff,#1515ff,#1717ff,#1919ff,#1a1aff,#1c1cff,#1c1cff,#1c1cff,#1a1aff,#1717ff,#1313ff,#0d0dff,#0606ff,#0200fd,#0b00f4,#1500ea,#1f00e0,#2900d6,#3200cd,#3a00c5,#4000bf,#4400bb,#4600b9,#4500ba,#4100be,#3a00c5,#3000cf,#2400db,#1400eb,#0300fc,#1010ff,#2525ff)"></i><i style="background:linear-gradient(90deg,#3a3aff,#3131ff,#2b2bff,#2727ff,#2626ff,#2929ff,#2d2dff,#3434ff,#3d3dff,#4646ff,#5050ff,#5959ff,#6262ff,#6a6aff,#7070ff,#7575ff,#7777ff,#7777ff,#7676ff,#7272ff,#6d6dff,#6767ff,#5f5fff,#5757ff,#4e4eff,#4545ff,#3d3dff,#3535ff,#2d2dff,#2727ff,#2222ff,#1e1eff,#1b1bff,#1a1aff,#1919ff,#1a1aff,#1b1bff,#1d1dff,#1f1fff,#2121ff,#2222ff,#2323ff,#2323ff,#2121ff,#1e1eff,#1a1aff,#1414ff,#0d0dff,#0505ff,#0500fa,#0e00f1,#1800e7,#2200dd,#2b00d4,#3300cc,#3900c6,#3d00c2,#3f00c0,#3e00c1,#3b00c4,#3400cb,#2b00d4,#1f00e0,#1000ef,#0101ff,#1414ff,#2929ff)"></i><i style="background:linear-gradient(90deg,#3e3eff,#3636ff,#3030ff,#2c2cff,#2c2cff,#2e2eff,#3333ff,#3a3aff,#4242ff,#4b4bff,#5555ff,#5f5fff,#6767ff,#6f6fff,#7575ff,#7979ff,#7b7bff,#7b7bff,#7a7aff,#7676ff,#7171ff,#6a6aff,#6363ff,#5a5aff,#5252ff,#4949ff,#4141ff,#3939ff,#3232ff,#2c2cff,#2727ff,#2323ff,#2121ff,#1f1fff,#1f1fff,#2020ff,#2222ff,#2323ff,#2626ff,#2727ff,#2929ff,#2929ff,#2929ff,#2828ff,#2525ff,#2020ff,#1b1bff,#1414ff,#0b0bff,#0202ff,#0700f8,#1100ee,#1b00e4,#2400db,#2c00d3,#3200cd,#3600c9,#3800c7,#3800c7,#3500ca,#2e00d1,#2500da,#1900e6,#0b00f4,#0606ff,#1818ff,#2c2cff)"></i><i style="background:linear-gradient(90deg,#4343ff,#3a3aff,#3535ff,#3232ff,#3232ff,#3434ff,#3939ff,#4040ff,#4848ff,#5151ff,#5b5bff,#6464ff,#6c6cff,#7474ff,#7979ff,#7d7dff,#7f7fff,#7f7fff,#7d7dff,#7a7aff,#7474ff,#6e6eff,#6666ff,#5e5eff,#5656ff,#4d4dff,#4545ff,#3d3dff,#3636ff,#3030ff,#2b2bff,#2828ff,#2626ff,#2525ff,#2525ff,#2626ff,#2828ff,#2a2aff,#2c2cff,#2e2eff,#2f2fff,#3030ff,#3030ff,#2e2eff,#2b2bff,#2727ff,#2121ff,#1b1bff,#1212ff,#0909ff,#0000ff,#0a00f5,#1300ec,#1c00e3,#2400db,#2b00d4,#2f00d0,#3200cd,#3100ce,#2e00d1,#2800d7,#1f00e0,#1400eb,#0600f9,#0b0bff,#1d1dff,#3030ff)"></i><i style="background:linear-gradient(90deg,#4747ff,#3f3fff,#3a3aff,#3737ff,#3737ff,#3a3aff,#3f3fff,#4646ff,#4e4eff,#5757ff,#6060ff,#6969ff,#7171ff,#7878ff,#7e7eff,#8282ff,#8383ff,#8383ff,#8181ff,#7d7dff,#7878ff,#7171ff,#6a6aff,#6262ff,#5959ff,#5151ff,#4949ff,#4141ff,#3a3aff,#3535ff,#3030ff,#2d2dff,#2b2bff,#2a2aff,#2a2aff,#2c2cff,#2d2dff,#3030ff,#3232ff,#3434ff,#3636ff,#3737ff,#3636ff,#3535ff,#3232ff,#2e2eff,#2828ff,#2121ff,#1919ff,#1111ff,#0707ff,#0300fc,#0c00f3,#1500ea,#1d00e2,#2300dc,#2800d7,#2a00d5,#2a00d5,#2800d7,#2200dd,#1900e6,#0e00f1,#0000ff,#0f0fff,#2121ff,#3434ff)"></i><i style="background:linear-gradient(90deg,#4c4cff,#4444ff,#3f3fff,#3d3dff,#3d3dff,#4040ff,#4545ff,#4b4bff,#5454ff,#5c5cff,#6666ff,#6e6eff,#7676ff,#7d7dff,#8282ff,#8686ff,#8787ff,#8787ff,#8585ff,#8181ff,#7c7cff,#7575ff,#6d6dff,#6565ff,#5d5dff,#5454ff,#4c4cff,#4545ff,#3e3eff,#3939ff,#3535ff,#3232ff,#3030ff,#2f2fff,#3030ff,#3131ff,#3333ff,#3636ff,#3838ff,#3a3aff,#3c3cff,#3d3dff,#3d3dff,#3b3bff,#3939ff,#3535ff,#2f2fff,#2828ff,#2121ff,#1818ff,#0e0eff,#0505ff,#0500fa,#0e00f1,#1600e9,#1c00e3,#2100de,#2300dc,#2300dc,#2100de,#1b00e4,#1300ec,#0900f6,#0505ff,#1414ff,#2525ff,#3838ff)"></i><i style="background:linear-gradient(90deg,#5151ff,#4949ff,#4545ff,#4242ff,#4343ff,#4646ff,#4b4bff,#5151ff,#5959ff,#6262ff,#6b6bff,#7474ff,#7b7bff,#8282ff,#8787ff,#8a8aff,#8b8bff,#8b8bff,#8989ff,#8484ff,#7f7fff,#7878ff,#7171ff,#6969ff,#6060ff,#5858ff,#5050ff,#4949ff,#4343ff,#3d3dff,#3939ff,#3636ff,#3535ff,#3535ff,#3535ff,#3737ff,#3939ff,#3c3cff,#3e3eff,#4040ff,#4242ff,#4343ff,#4343ff,#4242ff,#3f3fff,#3b3bff,#3636ff,#2f2fff,#2828ff,#1f1fff,#1616ff,#0c0cff,#0303ff,#0600f9,#0e00f1,#1500ea,#1900e6,#1c00e3,#1c00e3,#1a00e5,#1500ea,#0d00f2,#0300fc,#0a0aff,#1919ff,#2a2aff,#3c3cff)"></i><i style="background:linear-gradient(90deg,#5656ff,#4f4fff,#4a4aff,#4848ff,#4949ff,#4c4cff,#5151ff,#5757ff,#5f5fff,#6868ff,#7070ff,#7979ff,#8080ff,#8686ff,#8b8bff,#8e8eff,#8f8fff,#8f8fff,#8c8cff,#8888ff,#8282ff,#7c7cff,#7474ff,#6c6cff,#6464ff,#5b5bff,#5454ff,#4d4dff,#4747ff,#4242ff,#3e3eff,#3b3bff,#3a3aff,#3a3aff,#3a3aff,#3c3cff,#3f3fff,#4141ff,#4444ff,#4646ff,#4848ff,#4a4aff,#4a4aff,#4848ff,#4646ff,#4242ff,#3d3dff,#3636ff,#2f2fff,#2626ff,#1d1dff,#1414ff,#0a0aff,#0101ff,#0700f8,#0d00f2,#1200ed,#1500ea,#1500ea,#1300ec,#0e00f1,#0700f8,#0303ff,#1010ff,#1e1eff,#2e2eff,#4040ff)"></i><i style="background:linear-gradient(90deg,#5b5bff,#5454ff,#5050ff,#4e4eff,#4f4fff,#5252ff,#5757ff,#5d5dff,#6565ff,#6d6dff,#7676ff,#7e7eff,#8585ff,#8b8bff,#8f8fff,#9292ff,#9393ff,#9292ff,#8f8fff,#8b8bff,#8686ff,#7f7fff,#7777ff,#6f6fff,#6767ff,#5f5fff,#5757ff,#5050ff,#4a4aff,#4646ff,#4242ff,#4040ff,#3f3fff,#3f3fff,#4040ff,#4242ff,#4444ff,#4747ff,#4a4aff,#4c4cff,#4e4eff,#5050ff,#5050ff,#4f4fff,#4c4cff,#4949ff,#4444ff,#3d3dff,#3636ff,#2d2dff,#2424ff,#1b1bff,#1212ff,#0909ff,#0101ff,#0600f9,#0b00f4,#0d00f2,#0e00f1,#0c00f3,#0800f7,#0100fe,#0909ff,#1515ff,#2323ff,#3333ff,#4444ff)"></i><i style="background:linear-gradient(90deg,#6060ff,#5959ff,#5555ff,#5454ff,#5454ff,#5858ff,#5c5cff,#6363ff,#6a6aff,#7373ff,#7b7bff,#8383ff,#8a8aff,#8f8fff,#9494ff,#9696ff,#9797ff,#9696ff,#9393ff,#8e8eff,#8989ff,#8282ff,#7a7aff,#7272ff,#6a6aff,#6262ff,#5b5bff,#5454ff,#4e4eff,#4a4aff,#4646ff,#4444ff,#4343ff,#4343ff,#4545ff,#4747ff,#4a4aff,#4d4dff,#5050ff,#5252ff,#5454ff,#5656ff,#5656ff,#5555ff,#5353ff,#4f4fff,#4a4aff,#4444ff,#3d3dff,#3434ff,#2b2bff,#2222ff,#1919ff,#1010ff,#0909ff,#0202ff,#0300fc,#0600f9,#0700f8,#0500fa,#0100fe,#0606ff,#0f0fff,#1b1bff,#2828ff,#3838ff,#4848ff)"></i><i style="background:linear-gradient(90deg,#6565ff,#5f5fff,#5b5bff,#5959ff,#5a5aff,#5d5dff,#6262ff,#6969ff,#7070ff,#7878ff,#8080ff,#8888ff,#8e8eff,#9494ff,#9898ff,#9a9aff,#9a9aff,#9999ff,#9696ff,#9191ff,#8c8cff,#8585ff,#7d7dff,#7575ff,#6d6dff,#6666ff,#5e5eff,#5858ff,#5252ff,#4e4eff,#4a4aff,#4848ff,#4848ff,#4848ff,#4a4aff,#4c4cff,#4f4fff,#5252ff,#5555ff,#5858ff,#5a5aff,#5c5cff,#5c5cff,#5b5bff,#5959ff,#5656ff,#5151ff,#4b4bff,#4444ff,#3b3bff,#3333ff,#2a2aff,#2121ff,#1818ff,#1010ff,#0a0aff,#0505ff,#0101ff,#0000ff,#0202ff,#0606ff,#0c0cff,#1515ff,#2020ff,#2d2dff,#3c3cff,#4c4cff)"></i><i style="background:linear-gradient(90deg,#6a6aff,#6464ff,#6060ff,#5f5fff,#6060ff,#6363ff,#6868ff,#6e6eff,#7676ff,#7d7dff,#8585ff,#8c8cff,#9393ff,#9898ff,#9b9bff,#9d9dff,#9e9eff,#9c9cff,#9999ff,#9494ff,#8f8fff,#8888ff,#8080ff,#7878ff,#7171ff,#6969ff,#6262ff,#5b5bff,#5656ff,#5252ff,#4f4fff,#4d4dff,#4c4cff,#4d4dff,#4f4fff,#5151ff,#5454ff,#5757ff,#5b5bff,#5e5eff,#6060ff,#6262ff,#6262ff,#6161ff,#5f5fff,#5c5cff,#5757ff,#5151ff,#4a4aff,#4242ff,#3a3aff,#3131ff,#2828ff,#2020ff,#1818ff,#1111ff,#0c0cff,#0909ff,#0808ff,#0909ff,#0c0cff,#1313ff,#1b1bff,#2626ff,#3333ff,#4141ff,#5151ff)"></i><i style="background:linear-gradient(90deg,#6f6fff,#6969ff,#6666ff,#6565ff,#6666ff,#6969ff,#6e6eff,#7474ff,#7b7bff,#8383ff,#8a8aff,#9191ff,#9797ff,#9c9cff,#9f9fff,#a1a1ff,#a1a1ff,#9f9fff,#9c9cff,#9797ff,#9292ff,#8b8bff,#8383ff,#7b7bff,#7474ff,#6c6cff,#6565ff,#5f5fff,#5a5aff,#5555ff,#5353ff,#5151ff,#5151ff,#5252ff,#5353ff,#5656ff,#5959ff,#5d5dff,#6060ff,#6363ff,#6666ff,#6767ff,#6868ff,#6767ff,#6565ff,#6262ff,#5e5eff,#5858ff,#5151ff,#4949ff,#4141ff,#3838ff,#2f2fff,#2727ff,#1f1fff,#1919ff,#1414ff,#1010ff,#0f0fff,#1010ff,#1313ff,#1919ff,#2121ff,#2c2cff,#3838ff,#4646ff,#5555ff)"></i><i style="background:linear-gradient(90deg,#7474ff,#6f6fff,#6c6cff,#6b6bff,#6c6cff,#6f6fff,#7474ff,#7a7aff,#8080ff,#8888ff,#8f8fff,#9696ff,#9b9bff,#a0a0ff,#a3a3ff,#a4a4ff,#a4a4ff,#a2a2ff,#9f9fff,#9a9aff,#9494ff,#8d8dff,#8686ff,#7e7eff,#7777ff,#6f6fff,#6868ff,#6262ff,#5d5dff,#5959ff,#5757ff,#5555ff,#5555ff,#5656ff,#5858ff,#5b5bff,#5e5eff,#6262ff,#6565ff,#6868ff,#6b6bff,#6d6dff,#6e6eff,#6d6dff,#6b6bff,#6868ff,#6464ff,#5e5eff,#5858ff,#5050ff,#4848ff,#3f3fff,#3737ff,#2e2eff,#2727ff,#2020ff,#1b1bff,#1818ff,#1616ff,#1717ff,#1a1aff,#2020ff,#2727ff,#3131ff,#3d3dff,#4b4bff,#5959ff)"></i><i style="background:linear-gradient(90deg,#7979ff,#7474ff,#7171ff,#7070ff,#7272ff,#7575ff,#7979ff,#7f7fff,#8686ff,#8d8dff,#9494ff,#9a9aff,#9f9fff,#a4a4ff,#a7a7ff,#a8a8ff,#a7a7ff,#a5a5ff,#a2a2ff,#9d9dff,#9797ff,#9090ff,#8989ff,#8181ff,#7979ff,#7272ff,#6b6bff,#6666ff,#6161ff,#5d5dff,#5b5bff,#5959ff,#5959ff,#5b5bff,#5d5dff,#6060ff,#6363ff,#6767ff,#6a6aff,#6e6eff,#7070ff,#7272ff,#7373ff,#7373ff,#7171ff,#6e6eff,#6a6aff,#6565ff,#5e5eff,#5757ff,#4f4fff,#4646ff,#3e3eff,#3636ff,#2e2eff,#2828ff,#2323ff,#1f1fff,#1e1eff,#1e1eff,#2121ff,#2626ff,#2e2eff,#3737ff,#4343ff,#5050ff,#5e5eff)"></i><i style="background:linear-gradient(90deg,#7e7eff,#7979ff,#7777ff,#7676ff,#7777ff,#7a7aff,#7f7fff,#8484ff,#8b8bff,#9292ff,#9898ff,#9e9eff,#a3a3ff,#a7a7ff,#aaaaff,#ababff,#aaaaff,#a8a8ff,#a5a5ff,#a0a0ff,#9a9aff,#9393ff,#8b8bff,#8484ff,#7c7cff,#7575ff,#6f6fff,#6969ff,#6464ff,#6161ff,#5e5eff,#5d5dff,#5e5eff,#5f5fff,#6161ff,#6464ff,#6868ff,#6c6cff,#6f6fff,#7373ff,#7676ff,#7878ff,#7979ff,#7878ff,#7777ff,#7474ff,#7070ff,#6b6bff,#6565ff,#5d5dff,#5656ff,#4d4dff,#4545ff,#3d3dff,#3636ff,#2f2fff,#2a2aff,#2727ff,#2525ff,#2525ff,#2828ff,#2d2dff,#3434ff,#3d3dff,#4848ff,#5454ff,#6262ff)"></i><i style="background:linear-gradient(90deg,#8383ff,#7e7eff,#7c7cff,#7b7bff,#7d7dff,#8080ff,#8484ff,#8a8aff,#9090ff,#9696ff,#9d9dff,#a2a2ff,#a7a7ff,#ababff,#adadff,#aeaeff,#adadff,#ababff,#a7a7ff,#a2a2ff,#9c9cff,#9595ff,#8e8eff,#8686ff,#7f7fff,#7878ff,#7272ff,#6c6cff,#6868ff,#6464ff,#6262ff,#6161ff,#6262ff,#6363ff,#6666ff,#6969ff,#6d6dff,#7070ff,#7474ff,#7878ff,#7b7bff,#7d7dff,#7e7eff,#7e7eff,#7d7dff,#7a7aff,#7676ff,#7171ff,#6b6bff,#6464ff,#5c5cff,#5454ff,#4c4cff,#4444ff,#3d3dff,#3737ff,#3131ff,#2e2eff,#2c2cff,#2c2cff,#2f2fff,#3333ff,#3a3aff,#4343ff,#4d4dff,#5959ff,#6767ff)"></i><i style="background:linear-gradient(90deg,#8888ff,#8484ff,#8181ff,#8181ff,#8282ff,#8585ff,#8a8aff,#8f8fff,#9595ff,#9b9bff,#a1a1ff,#a7a7ff,#ababff,#aeaeff,#b1b1ff,#b1b1ff,#b0b0ff,#aeaeff,#aaaaff,#a5a5ff,#9f9fff,#9898ff,#9090ff,#8989ff,#8282ff,#7b7bff,#7575ff,#6f6fff,#6b6bff,#6868ff,#6666ff,#6565ff,#6666ff,#6868ff,#6a6aff,#6d6dff,#7171ff,#7575ff,#7979ff,#7d7dff,#8080ff,#8282ff,#8383ff,#8383ff,#8282ff,#8080ff,#7c7cff,#7777ff,#7171ff,#6a6aff,#6363ff,#5b5bff,#5353ff,#4b4bff,#4444ff,#3e3eff,#3939ff,#3535ff,#3333ff,#3333ff,#3535ff,#3a3aff,#4040ff,#4848ff,#5353ff,#5e5eff,#6b6bff)"></i><i style="background:linear-gradient(90deg,#8c8cff,#8989ff,#8787ff,#8686ff,#8888ff,#8b8bff,#8f8fff,#9494ff,#9a9aff,#a0a0ff,#a5a5ff,#aaaaff,#afafff,#b2b2ff,#b4b4ff,#b4b4ff,#b3b3ff,#b0b0ff,#acacff,#a7a7ff,#a1a1ff,#9a9aff,#9393ff,#8c8cff,#8484ff,#7e7eff,#7878ff,#7373ff,#6e6eff,#6c6cff,#6a6aff,#6969ff,#6a6aff,#6c6cff,#6e6eff,#7272ff,#7676ff,#7a7aff,#7e7eff,#8181ff,#8585ff,#8787ff,#8888ff,#8888ff,#8787ff,#8585ff,#8181ff,#7d7dff,#7777ff,#7070ff,#6969ff,#6262ff,#5a5aff,#5252ff,#4b4bff,#4545ff,#4040ff,#3c3cff,#3a3aff,#3a3aff,#3c3cff,#4040ff,#4646ff,#4e4eff,#5858ff,#6363ff,#7070ff)"></i><i style="background:linear-gradient(90deg,#9191ff,#8e8eff,#8c8cff,#8b8bff,#8d8dff,#9090ff,#9494ff,#9999ff,#9e9eff,#a4a4ff,#a9a9ff,#aeaeff,#b2b2ff,#b5b5ff,#b7b7ff,#b7b7ff,#b5b5ff,#b2b2ff,#aeaeff,#a9a9ff,#a3a3ff,#9c9cff,#9595ff,#8e8eff,#8787ff,#8181ff,#7b7bff,#7676ff,#7272ff,#6f6fff,#6e6eff,#6d6dff,#6e6eff,#7070ff,#7373ff,#7676ff,#7a7aff,#7e7eff,#8282ff,#8686ff,#8989ff,#8c8cff,#8d8dff,#8d8dff,#8c8cff,#8a8aff,#8787ff,#8282ff,#7d7dff,#7676ff,#6f6fff,#6868ff,#6161ff,#5959ff,#5252ff,#4c4cff,#4747ff,#4444ff,#4242ff,#4141ff,#4343ff,#4747ff,#4d4dff,#5454ff,#5d5dff,#6868ff,#7474ff)"></i><i style="background:linear-gradient(90deg,#9696ff,#9393ff,#9191ff,#9191ff,#9292ff,#9595ff,#9999ff,#9e9eff,#a3a3ff,#a8a8ff,#adadff,#b2b2ff,#b6b6ff,#b8b8ff,#b9b9ff,#b9b9ff,#b8b8ff,#b5b5ff,#b1b1ff,#ababff,#a5a5ff,#9f9fff,#9898ff,#9191ff,#8a8aff,#8383ff,#7e7eff,#7979ff,#7575ff,#7373ff,#7171ff,#7171ff,#7272ff,#7474ff,#7777ff,#7b7bff,#7f7fff,#8383ff,#8787ff,#8b8bff,#8e8eff,#9090ff,#9292ff,#9292ff,#9191ff,#8f8fff,#8c8cff,#8888ff,#8383ff,#7c7cff,#7676ff,#6e6eff,#6767ff,#6060ff,#5959ff,#5353ff,#4e4eff,#4b4bff,#4949ff,#4848ff,#4a4aff,#4d4dff,#5353ff,#5a5aff,#6363ff,#6d6dff,#7979ff)"></i><i style="background:linear-gradient(90deg,#9b9bff,#9797ff,#9696ff,#9696ff,#9797ff,#9a9aff,#9e9eff,#a2a2ff,#a7a7ff,#acacff,#b1b1ff,#b5b5ff,#b9b9ff,#bbbbff,#bcbcff,#bcbcff,#babaff,#b7b7ff,#b3b3ff,#aeaeff,#a7a7ff,#a1a1ff,#9a9aff,#9393ff,#8c8cff,#8686ff,#8181ff,#7c7cff,#7878ff,#7676ff,#7575ff,#7575ff,#7676ff,#7878ff,#7b7bff,#7f7fff,#8383ff,#8787ff,#8b8bff,#8f8fff,#9292ff,#9595ff,#9696ff,#9797ff,#9696ff,#9494ff,#9191ff,#8d8dff,#8888ff,#8282ff,#7c7cff,#7575ff,#6e6eff,#6767ff,#6060ff,#5a5aff,#5555ff,#5252ff,#5050ff,#4f4fff,#5050ff,#5454ff,#5959ff,#6060ff,#6868ff,#7272ff,#7d7dff)"></i><i style="background:linear-gradient(90deg,#9f9fff,#9c9cff,#9b9bff,#9b9bff,#9c9cff,#9f9fff,#a2a2ff,#a7a7ff,#ababff,#b0b0ff,#b5b5ff,#b9b9ff,#bcbcff,#bebeff,#bfbfff,#bebeff,#bcbcff,#b9b9ff,#b5b5ff,#b0b0ff,#aaaaff,#a3a3ff,#9c9cff,#9595ff,#8f8fff,#8989ff,#8383ff,#7f7fff,#7c7cff,#7a7aff,#7979ff,#7979ff,#7a7aff,#7c7cff,#7f7fff,#8383ff,#8787ff,#8b8bff,#8f8fff,#9393ff,#9797ff,#9999ff,#9b9bff,#9b9bff,#9b9bff,#9999ff,#9696ff,#9292ff,#8d8dff,#8888ff,#8181ff,#7b7bff,#7474ff,#6d6dff,#6767ff,#6161ff,#5c5cff,#5959ff,#5656ff,#5656ff,#5757ff,#5a5aff,#5f5fff,#6565ff,#6e6eff,#7777ff,#8282ff)"></i><i style="background:linear-gradient(90deg,#a4a4ff,#a1a1ff,#9f9fff,#9f9fff,#a1a1ff,#a3a3ff,#a7a7ff,#ababff,#b0b0ff,#b4b4ff,#b8b8ff,#bcbcff,#bfbfff,#c1c1ff,#c1c1ff,#c1c1ff,#bfbfff,#bbbbff,#b7b7ff,#b2b2ff,#acacff,#a5a5ff,#9e9eff,#9898ff,#9191ff,#8c8cff,#8686ff,#8282ff,#7f7fff,#7d7dff,#7c7cff,#7c7cff,#7e7eff,#8080ff,#8383ff,#8787ff,#8b8bff,#8f8fff,#9494ff,#9898ff,#9b9bff,#9e9eff,#9f9fff,#a0a0ff,#9f9fff,#9e9eff,#9b9bff,#9797ff,#9393ff,#8d8dff,#8787ff,#8181ff,#7a7aff,#7373ff,#6d6dff,#6868ff,#6363ff,#5f5fff,#5d5dff,#5d5dff,#5e5eff,#6060ff,#6565ff,#6b6bff,#7373ff,#7c7cff,#8686ff)"></i><i style="background:linear-gradient(90deg,#a8a8ff,#a5a5ff,#a4a4ff,#a4a4ff,#a5a5ff,#a8a8ff,#ababff,#afafff,#b4b4ff,#b8b8ff,#bcbcff,#bfbfff,#c2c2ff,#c3c3ff,#c4c4ff,#c3c3ff,#c1c1ff,#bdbdff,#b9b9ff,#b4b4ff,#aeaeff,#a7a7ff,#a1a1ff,#9a9aff,#9494ff,#8e8eff,#8989ff,#8585ff,#8282ff,#8080ff,#8080ff,#8080ff,#8282ff,#8484ff,#8787ff,#8b8bff,#8f8fff,#9393ff,#9898ff,#9c9cff,#9f9fff,#a2a2ff,#a3a3ff,#a4a4ff,#a4a4ff,#a2a2ff,#a0a0ff,#9c9cff,#9898ff,#9292ff,#8d8dff,#8686ff,#8080ff,#7a7aff,#7474ff,#6e6eff,#6a6aff,#6666ff,#6464ff,#6363ff,#6464ff,#6767ff,#6b6bff,#7171ff,#7878ff,#8181ff,#8b8bff)"></i><i style="background:linear-gradient(90deg,#acacff,#aaaaff,#a9a9ff,#a9a9ff,#aaaaff,#acacff,#afafff,#b3b3ff,#b7b7ff,#bbbbff,#bfbfff,#c2c2ff,#c5c5ff,#c6c6ff,#c6c6ff,#c5c5ff,#c3c3ff,#bfbfff,#bbbbff,#b5b5ff,#b0b0ff,#a9a9ff,#a3a3ff,#9c9cff,#9696ff,#9191ff,#8c8cff,#8888ff,#8686ff,#8484ff,#8383ff,#8484ff,#8585ff,#8888ff,#8b8bff,#8f8fff,#9393ff,#9797ff,#9c9cff,#a0a0ff,#a3a3ff,#a6a6ff,#a7a7ff,#a8a8ff,#a8a8ff,#a7a7ff,#a4a4ff,#a1a1ff,#9d9dff,#9898ff,#9292ff,#8c8cff,#8686ff,#8080ff,#7a7aff,#7474ff,#7070ff,#6d6dff,#6a6aff,#6a6aff,#6a6aff,#6d6dff,#7171ff,#7676ff,#7d7dff,#8686ff,#8f8fff)"></i><i style="background:linear-gradient(90deg,#b0b0ff,#aeaeff,#adadff,#adadff,#aeaeff,#b1b1ff,#b4b4ff,#b7b7ff,#bbbbff,#bfbfff,#c2c2ff,#c5c5ff,#c7c7ff,#c8c8ff,#c8c8ff,#c7c7ff,#c5c5ff,#c1c1ff,#bdbdff,#b7b7ff,#b2b2ff,#ababff,#a5a5ff,#9f9fff,#9999ff,#9494ff,#8f8fff,#8b8bff,#8989ff,#8787ff,#8787ff,#8888ff,#8989ff,#8c8cff,#8f8fff,#9393ff,#9797ff,#9b9bff,#a0a0ff,#a3a3ff,#a7a7ff,#aaaaff,#ababff,#acacff,#acacff,#ababff,#a9a9ff,#a5a5ff,#a1a1ff,#9c9cff,#9797ff,#9191ff,#8b8bff,#8585ff,#8080ff,#7b7bff,#7676ff,#7373ff,#7171ff,#7070ff,#7171ff,#7373ff,#7777ff,#7c7cff,#8383ff,#8b8bff,#9393ff)"></i><i style="background:linear-gradient(90deg,#b4b4ff,#b2b2ff,#b1b1ff,#b1b1ff,#b3b3ff,#b5b5ff,#b8b8ff,#bbbbff,#bfbfff,#c2c2ff,#c5c5ff,#c8c8ff,#cacaff,#cbcbff,#cacaff,#c9c9ff,#c6c6ff,#c3c3ff,#bebeff,#b9b9ff,#b3b3ff,#adadff,#a7a7ff,#a1a1ff,#9b9bff,#9696ff,#9292ff,#8e8eff,#8c8cff,#8b8bff,#8a8aff,#8b8bff,#8d8dff,#9090ff,#9393ff,#9797ff,#9b9bff,#9f9fff,#a3a3ff,#a7a7ff,#ababff,#adadff,#afafff,#b0b0ff,#b0b0ff,#afafff,#adadff,#aaaaff,#a6a6ff,#a1a1ff,#9c9cff,#9797ff,#9191ff,#8b8bff,#8686ff,#8181ff,#7d7dff,#7979ff,#7777ff,#7676ff,#7777ff,#7979ff,#7c7cff,#8181ff,#8888ff,#8f8fff,#9898ff)"></i><i style="background:linear-gradient(90deg,#b8b8ff,#b6b6ff,#b5b5ff,#b6b6ff,#b7b7ff,#b9b9ff,#bbbbff,#bfbfff,#c2c2ff,#c5c5ff,#c8c8ff,#cbcbff,#ccccff,#cdcdff,#ccccff,#cbcbff,#c8c8ff,#c5c5ff,#c0c0ff,#bbbbff,#b5b5ff,#afafff,#a9a9ff,#a3a3ff,#9e9eff,#9999ff,#9595ff,#9292ff,#8f8fff,#8e8eff,#8e8eff,#8f8fff,#9191ff,#9393ff,#9797ff,#9a9aff,#9f9fff,#a3a3ff,#a7a7ff,#ababff,#aeaeff,#b1b1ff,#b3b3ff,#b4b4ff,#b4b4ff,#b3b3ff,#b1b1ff,#aeaeff,#aaaaff,#a6a6ff,#a1a1ff,#9c9cff,#9696ff,#9191ff,#8b8bff,#8787ff,#8383ff,#7f7fff,#7d7dff,#7c7cff,#7d7dff,#7f7fff,#8282ff,#8787ff,#8d8dff,#9494ff,#9c9cff)"></i><i style="background:linear-gradient(90deg,#bcbcff,#babaff,#b9b9ff,#babaff,#bbbbff,#bdbdff,#bfbfff,#c2c2ff,#c5c5ff,#c8c8ff,#cbcbff,#cdcdff,#cfcfff,#cfcfff,#ceceff,#cdcdff,#cacaff,#c6c6ff,#c2c2ff,#bdbdff,#b7b7ff,#b1b1ff,#ababff,#a6a6ff,#a0a0ff,#9c9cff,#9898ff,#9595ff,#9393ff,#9191ff,#9191ff,#9292ff,#9494ff,#9797ff,#9a9aff,#9e9eff,#a2a2ff,#a7a7ff,#ababff,#afafff,#b2b2ff,#b5b5ff,#b6b6ff,#b7b7ff,#b7b7ff,#b7b7ff,#b5b5ff,#b2b2ff,#afafff,#aaaaff,#a6a6ff,#a1a1ff,#9b9bff,#9696ff,#9191ff,#8d8dff,#8989ff,#8585ff,#8383ff,#8282ff,#8383ff,#8585ff,#8888ff,#8c8cff,#9292ff,#9999ff,#a0a0ff)"></i><i style="background:linear-gradient(90deg,#c0c0ff,#bebeff,#bdbdff,#bdbdff,#bebeff,#c0c0ff,#c3c3ff,#c6c6ff,#c8c8ff,#cbcbff,#ceceff,#d0d0ff,#d1d1ff,#d1d1ff,#d0d0ff,#cfcfff,#ccccff,#c8c8ff,#c4c4ff,#bebeff,#b9b9ff,#b3b3ff,#adadff,#a8a8ff,#a3a3ff,#9e9eff,#9b9bff,#9898ff,#9696ff,#9595ff,#9595ff,#9696ff,#9898ff,#9b9bff,#9e9eff,#a2a2ff,#a6a6ff,#aaaaff,#aeaeff,#b2b2ff,#b5b5ff,#b8b8ff,#babaff,#bbbbff,#bbbbff,#babaff,#b9b9ff,#b6b6ff,#b3b3ff,#afafff,#aaaaff,#a5a5ff,#a0a0ff,#9b9bff,#9797ff,#9292ff,#8e8eff,#8b8bff,#8989ff,#8888ff,#8989ff,#8a8aff,#8d8dff,#9191ff,#9797ff,#9d9dff,#a5a5ff)"></i><i style="background:linear-gradient(90deg,#c3c3ff,#c2c2ff,#c1c1ff,#c1c1ff,#c2c2ff,#c4c4ff,#c6c6ff,#c9c9ff,#cbcbff,#ceceff,#d0d0ff,#d2d2ff,#d3d3ff,#d3d3ff,#d2d2ff,#d0d0ff,#cdcdff,#cacaff,#c5c5ff,#c0c0ff,#bbbbff,#b5b5ff,#b0b0ff,#aaaaff,#a5a5ff,#a1a1ff,#9d9dff,#9b9bff,#9999ff,#9898ff,#9898ff,#9a9aff,#9c9cff,#9e9eff,#a2a2ff,#a5a5ff,#aaaaff,#aeaeff,#b2b2ff,#b5b5ff,#b9b9ff,#bbbbff,#bdbdff,#bebeff,#bebeff,#bebeff,#bcbcff,#babaff,#b7b7ff,#b3b3ff,#afafff,#aaaaff,#a5a5ff,#a0a0ff,#9c9cff,#9898ff,#9494ff,#9191ff,#8f8fff,#8e8eff,#8e8eff,#9090ff,#9393ff,#9696ff,#9c9cff,#a2a2ff,#a9a9ff)"></i><i style="background:linear-gradient(90deg,#c7c7ff,#c5c5ff,#c5c5ff,#c5c5ff,#c6c6ff,#c7c7ff,#c9c9ff,#ccccff,#ceceff,#d1d1ff,#d3d3ff,#d4d4ff,#d5d5ff,#d5d5ff,#d4d4ff,#d2d2ff,#cfcfff,#cbcbff,#c7c7ff,#c2c2ff,#bdbdff,#b7b7ff,#b2b2ff,#adadff,#a8a8ff,#a4a4ff,#a0a0ff,#9e9eff,#9c9cff,#9c9cff,#9c9cff,#9d9dff,#9f9fff,#a2a2ff,#a5a5ff,#a9a9ff,#adadff,#b1b1ff,#b5b5ff,#b9b9ff,#bcbcff,#bfbfff,#c0c0ff,#c1c1ff,#c2c2ff,#c1c1ff,#c0c0ff,#bdbdff,#babaff,#b7b7ff,#b3b3ff,#aeaeff,#aaaaff,#a5a5ff,#a1a1ff,#9d9dff,#9999ff,#9797ff,#9595ff,#9494ff,#9494ff,#9595ff,#9898ff,#9c9cff,#a0a0ff,#a6a6ff,#adadff)"></i><i style="background:linear-gradient(90deg,#cacaff,#c9c9ff,#c8c8ff,#c8c8ff,#c9c9ff,#cbcbff,#cdcdff,#cfcfff,#d1d1ff,#d3d3ff,#d5d5ff,#d6d6ff,#d7d7ff,#d7d7ff,#d6d6ff,#d4d4ff,#d1d1ff,#cdcdff,#c9c9ff,#c4c4ff,#bebeff,#b9b9ff,#b4b4ff,#afafff,#aaaaff,#a6a6ff,#a3a3ff,#a1a1ff,#9f9fff,#9f9fff,#9f9fff,#a1a1ff,#a3a3ff,#a6a6ff,#a9a9ff,#adadff,#b0b0ff,#b4b4ff,#b8b8ff,#bcbcff,#bfbfff,#c2c2ff,#c4c4ff,#c5c5ff,#c5c5ff,#c4c4ff,#c3c3ff,#c1c1ff,#bebeff,#bbbbff,#b7b7ff,#b3b3ff,#aeaeff,#aaaaff,#a6a6ff,#a2a2ff,#9f9fff,#9c9cff,#9a9aff,#9999ff,#9999ff,#9b9bff,#9d9dff,#a0a0ff,#a5a5ff,#aaaaff,#b1b1ff)"></i><i style="background:linear-gradient(90deg,#cdcdff,#ccccff,#cbcbff,#ccccff,#ccccff,#ceceff,#d0d0ff,#d2d2ff,#d4d4ff,#d6d6ff,#d7d7ff,#d8d8ff,#d9d9ff,#d8d8ff,#d7d7ff,#d5d5ff,#d2d2ff,#ceceff,#cacaff,#c5c5ff,#c0c0ff,#bbbbff,#b6b6ff,#b1b1ff,#adadff,#a9a9ff,#a6a6ff,#a4a4ff,#a3a3ff,#a2a2ff,#a3a3ff,#a4a4ff,#a6a6ff,#a9a9ff,#acacff,#b0b0ff,#b4b4ff,#b8b8ff,#bcbcff,#bfbfff,#c2c2ff,#c5c5ff,#c7c7ff,#c8c8ff,#c8c8ff,#c7c7ff,#c6c6ff,#c4c4ff,#c2c2ff,#bebeff,#bbbbff,#b7b7ff,#b3b3ff,#afafff,#ababff,#a7a7ff,#a4a4ff,#a1a1ff,#9f9fff,#9e9eff,#9f9fff,#a0a0ff,#a2a2ff,#a5a5ff,#aaaaff,#afafff,#b5b5ff)"></i><i style="background:linear-gradient(90deg,#d1d1ff,#cfcfff,#cfcfff,#cfcfff,#d0d0ff,#d1d1ff,#d3d3ff,#d4d4ff,#d6d6ff,#d8d8ff,#dadaff,#dadaff,#dbdbff,#dadaff,#d9d9ff,#d7d7ff,#d4d4ff,#d0d0ff,#ccccff,#c7c7ff,#c2c2ff,#bdbdff,#b8b8ff,#b4b4ff,#afafff,#acacff,#a9a9ff,#a7a7ff,#a6a6ff,#a6a6ff,#a6a6ff,#a8a8ff,#aaaaff,#adadff,#b0b0ff,#b3b3ff,#b7b7ff,#bbbbff,#bfbfff,#c2c2ff,#c5c5ff,#c8c8ff,#c9c9ff,#cbcbff,#cbcbff,#cbcbff,#c9c9ff,#c8c8ff,#c5c5ff,#c2c2ff,#bfbfff,#bbbbff,#b7b7ff,#b3b3ff,#afafff,#acacff,#a9a9ff,#a6a6ff,#a5a5ff,#a4a4ff,#a4a4ff,#a5a5ff,#a7a7ff,#aaaaff,#aeaeff,#b3b3ff,#b8b8ff)"></i></div>
<svg width="1280" height="1280" viewBox="0 0 1280 1280">
<defs><clipPath id="c0"><rect x="59.5" y="47.5" width="533" height="533"/></clipPath><clipPath id="c1"><rect x="699.5" y="47.5" width="533" height="533"/></clipPath><clipPath id="c2"><rect x="59.5" y="687.5" width="533" height="533"/></clipPath><clipPath id="c3"><rect x="699.5" y="687.5" width="533" height="533"/></clipPath></defs>
<g clip-path="url(#c0)">
<path d="M102.83 128.41h1.4v1.4h-1.4zM284.69 111.6h1.4v1.4h-1.4zM125.5 198.45h1.4v1.4h-1.4zM132.56 223.66h1.4v1.4h-1.4zM136.08 229.26h1.4v1.4h-1.4zM232.8 234.87h1.4v1.4h-1.4zM254.46 240.47h1.4v1.4h-1.4zM275.62 226.46h1.4v1.4h-1.4zM281.67 232.06h1.4v1.4h-1.4zM275.12 254.48h1.4v1.4h-1.4zM236.83 271.29h1.4v1.4h-1.4zM163.79 282.49h1.4v1.4h-1.4zM336.57 66.78h1.4v1.4h-1.4zM352.69 139.62h1.4v1.4h-1.4zM362.77 176.03h1.4v1.4h-1.4zM412.64 176.03h1.4v1.4h-1.4zM362.77 195.65h1.4v1.4h-1.4zM322.97 198.45h1.4v1.4h-1.4zM393.5 209.65h1.4v1.4h-1.4zM407.6 206.85h1.4v1.4h-1.4zM317.43 220.86h1.4v1.4h-1.4zM395.51 260.08h1.4v1.4h-1.4zM335.57 276.89h1.4v1.4h-1.4zM536.56 192.84h1.4v1.4h-1.4zM476.11 220.86h1.4v1.4h-1.4zM571.83 260.08h1.4v1.4h-1.4zM83.19 290.9h1.4v1.4h-1.4zM258.49 290.9h1.4v1.4h-1.4zM127.01 313.31h1.4v1.4h-1.4zM108.38 327.32h1.4v1.4h-1.4zM101.32 332.92h1.4v1.4h-1.4zM210.13 332.92h1.4v1.4h-1.4zM242.37 324.51h1.4v1.4h-1.4zM255.47 324.51h1.4v1.4h-1.4zM252.95 330.12h1.4v1.4h-1.4zM168.83 341.32h1.4v1.4h-1.4zM190.49 346.93h1.4v1.4h-1.4zM170.84 358.13h1.4v1.4h-1.4zM187.97 363.74h1.4v1.4h-1.4zM108.38 366.54h1.4v1.4h-1.4zM110.39 374.94h1.4v1.4h-1.4zM243.38 369.34h1.4v1.4h-1.4zM236.33 372.14h1.4v1.4h-1.4zM94.27 386.15h1.4v1.4h-1.4zM199.05 397.35h1.4v1.4h-1.4zM220.71 394.55h1.4v1.4h-1.4zM230.28 394.55h1.4v1.4h-1.4zM243.38 400.15h1.4v1.4h-1.4zM292.25 400.15h1.4v1.4h-1.4zM237.84 408.56h1.4v1.4h-1.4zM263.53 408.56h1.4v1.4h-1.4zM112.91 411.36h1.4v1.4h-1.4zM144.14 416.96h1.4v1.4h-1.4zM159.25 416.96h1.4v1.4h-1.4zM133.06 439.38h1.4v1.4h-1.4zM117.95 442.18h1.4v1.4h-1.4zM79.66 461.79h1.4v1.4h-1.4zM84.2 461.79h1.4v1.4h-1.4zM128.53 461.79h1.4v1.4h-1.4zM273.61 458.99h1.4v1.4h-1.4zM377.88 285.29h1.4v1.4h-1.4zM335.06 299.3h1.4v1.4h-1.4zM352.19 302.1h1.4v1.4h-1.4zM463.52 304.9h1.4v1.4h-1.4zM370.33 327.32h1.4v1.4h-1.4zM324.99 330.12h1.4v1.4h-1.4zM301.82 332.92h1.4v1.4h-1.4zM320.45 335.72h1.4v1.4h-1.4zM379.39 335.72h1.4v1.4h-1.4zM305.34 346.93h1.4v1.4h-1.4zM305.34 352.53h1.4v1.4h-1.4zM350.18 349.73h1.4v1.4h-1.4zM330.53 363.74h1.4v1.4h-1.4zM381.41 372.14h1.4v1.4h-1.4zM458.99 374.94h1.4v1.4h-1.4zM429.77 380.54h1.4v1.4h-1.4zM415.66 383.35h1.4v1.4h-1.4zM356.73 386.15h1.4v1.4h-1.4zM367.81 386.15h1.4v1.4h-1.4zM366.8 394.55h1.4v1.4h-1.4zM383.42 394.55h1.4v1.4h-1.4zM461.5 394.55h1.4v1.4h-1.4zM310.38 400.15h1.4v1.4h-1.4zM330.53 402.96h1.4v1.4h-1.4zM381.41 405.76h1.4v1.4h-1.4zM356.73 411.36h1.4v1.4h-1.4zM471.58 411.36h1.4v1.4h-1.4zM330.03 414.16h1.4v1.4h-1.4zM337.58 416.96h1.4v1.4h-1.4zM307.86 422.57h1.4v1.4h-1.4zM304.84 428.17h1.4v1.4h-1.4zM327.51 425.37h1.4v1.4h-1.4zM340.61 436.57h1.4v1.4h-1.4zM339.6 447.78h1.4v1.4h-1.4zM357.73 453.38h1.4v1.4h-1.4zM395.51 453.38h1.4v1.4h-1.4zM445.38 456.19h1.4v1.4h-1.4zM550.67 288.09h1.4v1.4h-1.4zM478.63 304.9h1.4v1.4h-1.4zM553.19 310.51h1.4v1.4h-1.4zM534.05 330.12h1.4v1.4h-1.4zM530.52 341.32h1.4v1.4h-1.4zM485.18 363.74h1.4v1.4h-1.4zM544.62 363.74h1.4v1.4h-1.4zM541.6 374.94h1.4v1.4h-1.4zM555.71 402.96h1.4v1.4h-1.4zM498.78 414.16h1.4v1.4h-1.4zM500.29 433.77h1.4v1.4h-1.4zM562.76 433.77h1.4v1.4h-1.4zM515.41 439.38h1.4v1.4h-1.4zM516.41 442.18h1.4v1.4h-1.4zM482.16 444.98h1.4v1.4h-1.4zM511.38 447.78h1.4v1.4h-1.4zM560.24 447.78h1.4v1.4h-1.4zM571.83 453.38h1.4v1.4h-1.4zM517.42 456.19h1.4v1.4h-1.4zM88.73 472.99h1.4v1.4h-1.4zM115.43 472.99h1.4v1.4h-1.4zM115.43 481.4h1.4v1.4h-1.4zM231.79 467.39h1.4v1.4h-1.4zM229.28 470.19h1.4v1.4h-1.4zM85.2 495.41h1.4v1.4h-1.4zM78.65 512.22h1.4v1.4h-1.4zM96.79 531.83h1.4v1.4h-1.4zM293.76 498.21h1.4v1.4h-1.4zM278.14 543.03h1.4v1.4h-1.4zM247.41 559.84h1.4v1.4h-1.4zM356.73 470.19h1.4v1.4h-1.4zM298.29 475.8h1.4v1.4h-1.4zM409.12 475.8h1.4v1.4h-1.4zM418.69 472.99h1.4v1.4h-1.4zM452.94 467.39h1.4v1.4h-1.4zM470.07 478.6h1.4v1.4h-1.4zM474.6 484.2h1.4v1.4h-1.4zM347.15 498.21h1.4v1.4h-1.4zM304.33 515.02h1.4v1.4h-1.4zM341.11 543.03h1.4v1.4h-1.4zM458.99 537.43h1.4v1.4h-1.4zM509.36 481.4h1.4v1.4h-1.4zM513.89 495.41h1.4v1.4h-1.4zM513.39 503.81h1.4v1.4h-1.4zM534.05 506.61h1.4v1.4h-1.4zM554.2 503.81h1.4v1.4h-1.4zM563.26 523.42h1.4v1.4h-1.4zM539.59 545.83h1.4v1.4h-1.4z" fill="#000"/>
<path d="M59.8 465.09H592.5" stroke="#cd2626" stroke-width="2.25" stroke-dasharray="9 9" stroke-linecap="round" fill="none"/>
<path d="M325.24 580V47.5" stroke="#006400" stroke-width="2.25" stroke-dasharray="9 9" stroke-linecap="round" fill="none"/>
<path d="M328.76 580V47.5" stroke="#006400" stroke-width="2.25" stroke-dasharray="9 9" stroke-linecap="round" fill="none"/>
</g>
<rect x="59.5" y="47.5" width="533" height="533" fill="none" stroke="#000" stroke-opacity="0.83" stroke-width="0.75"/>
<path d="M125.5 580.5H528.5M125.5 580.5v5.8M226.25 580.5v5.8M327 580.5v5.8M427.75 580.5v5.8M528.5 580.5v5.8M59.5 484.7V64.47M59.5 484.7h-5.8M59.5 344.62h-5.8M59.5 204.55h-5.8M59.5 64.47h-5.8" fill="none" stroke="#000" stroke-opacity="0.83" stroke-width="0.75"/>
<g font-size="10.4" text-anchor="middle">
<text x="125.5" y="602.2">-400</text>
<text x="226.25" y="602.2">-200</text>
<text x="327" y="602.2">0</text>
<text x="427.75" y="602.2">200</text>
<text x="528.5" y="602.2">400</text>
<text transform="translate(45 484.7) rotate(-90)">80</text>
<text transform="translate(45 344.62) rotate(-90)">85</text>
<text transform="translate(45 204.55) rotate(-90)">90</text>
<text transform="translate(45 64.47) rotate(-90)">95</text>
</g>
<text x="323" y="31.5" font-size="21.5" font-weight="bold" text-anchor="middle">Top hit for each peak</text>
<text x="326" y="626.2" font-size="16.0" text-anchor="middle">Distance to peak summit</text>
<text transform="translate(22.2 314) rotate(-90)" font-size="15.6" text-anchor="middle">Motif score</text>
<g clip-path="url(#c1)">
<path d="M851.5 47.5V580.5M1048.5 47.5V580.5" stroke="#fff" stroke-width="1.15" fill="none"/>
<path d="M699.8 477.34H1232.5" stroke="#cd2626" stroke-width="1.5" stroke-dasharray="6 6" stroke-linecap="round" fill="none"/>
<path d="M965.1 580V47.5" stroke="#006400" stroke-width="1.5" stroke-dasharray="6 6" stroke-linecap="round" fill="none"/>
<path d="M968.91 580V47.5" stroke="#006400" stroke-width="1.5" stroke-dasharray="6 6" stroke-linecap="round" fill="none"/>
</g>
<rect x="699.5" y="47.5" width="533" height="533" fill="none" stroke="#000" stroke-opacity="0.83" stroke-width="0.75"/>
<path d="M749.57 580.5H1184.45M749.57 580.5v5.8M858.29 580.5v5.8M967.01 580.5v5.8M1075.73 580.5v5.8M1184.45 580.5v5.8M699.5 498.49V196.42M699.5 498.49h-5.8M699.5 347.45h-5.8M699.5 196.42h-5.8" fill="none" stroke="#000" stroke-opacity="0.83" stroke-width="0.75"/>
<g font-size="10.4" text-anchor="middle">
<text x="749.57" y="602.2">-400</text>
<text x="858.29" y="602.2">-200</text>
<text x="967.01" y="602.2">0</text>
<text x="1075.73" y="602.2">200</text>
<text x="1184.45" y="602.2">400</text>
<text transform="translate(685 498.49) rotate(-90)">80</text>
<text transform="translate(685 347.45) rotate(-90)">85</text>
<text transform="translate(685 196.42) rotate(-90)">90</text>
</g>
<text x="966" y="31.5" font-size="21.5" font-weight="bold" text-anchor="middle">Density heat map for the top hits</text>
<text x="966" y="626.2" font-size="16.0" text-anchor="middle">Distance to peak summit</text>
<text transform="translate(662.2 314) rotate(-90)" font-size="15.6" text-anchor="middle">Motif score</text>
<g clip-path="url(#c2)">
<path d="M78.85 1200.5L78.85 1200.29L79.82 1200.26L80.79 1200.22L81.75 1200.19L82.72 1200.14L83.69 1200.09L84.66 1200.04L85.62 1199.97L86.59 1199.9L87.56 1199.83L88.52 1199.74L89.49 1199.64L90.46 1199.53L91.43 1199.41L92.39 1199.28L93.36 1199.13L94.33 1198.97L95.29 1198.79L96.26 1198.6L97.23 1198.38L98.2 1198.14L99.16 1197.88L100.13 1197.6L101.1 1197.29L102.06 1196.95L103.03 1196.58L104 1196.18L104.96 1195.75L105.93 1195.28L106.9 1194.77L107.87 1194.23L108.83 1193.64L109.8 1193.01L110.77 1192.33L111.73 1191.6L112.7 1190.82L113.67 1189.98L114.64 1189.09L115.6 1188.15L116.57 1187.14L117.54 1186.07L118.5 1184.94L119.47 1183.74L120.44 1182.48L121.41 1181.14L122.37 1179.73L123.34 1178.26L124.31 1176.7L125.27 1175.07L126.24 1173.37L127.21 1171.59L128.17 1169.73L129.14 1167.79L130.11 1165.77L131.08 1163.67L132.04 1161.5L133.01 1159.24L133.98 1156.9L134.94 1154.48L135.91 1151.99L136.88 1149.42L137.85 1146.76L138.81 1144.04L139.78 1141.23L140.75 1138.35L141.71 1135.4L142.68 1132.37L143.65 1129.27L144.61 1126.1L145.58 1122.86L146.55 1119.55L147.52 1116.18L148.48 1112.73L149.45 1109.22L150.42 1105.65L151.38 1102.01L152.35 1098.3L153.32 1094.54L154.29 1090.71L155.25 1086.81L156.22 1082.85L157.19 1078.83L158.15 1074.75L159.12 1070.6L160.09 1066.38L161.06 1062.1L162.02 1057.76L162.99 1053.34L163.96 1048.86L164.92 1044.31L165.89 1039.68L166.86 1034.99L167.82 1030.22L168.79 1025.37L169.76 1020.45L170.73 1015.45L171.69 1010.38L172.66 1005.23L173.63 1000L174.59 994.69L175.56 989.3L176.53 983.84L177.5 978.3L178.46 972.68L179.43 966.99L180.4 961.22L181.36 955.39L182.33 949.49L183.3 943.52L184.27 937.5L185.23 931.42L186.2 925.29L187.17 919.11L188.13 912.9L189.1 906.66L190.07 900.39L191.03 894.1L192 887.81L192.97 881.51L193.94 875.22L194.9 868.94L195.87 862.69L196.84 856.48L197.8 850.31L198.77 844.19L199.74 838.14L200.71 832.16L201.67 826.27L202.64 820.46L203.61 814.76L204.57 809.17L205.54 803.69L206.51 798.35L207.47 793.13L208.44 788.06L209.41 783.14L210.38 778.38L211.34 773.77L212.31 769.33L213.28 765.05L214.24 760.95L215.21 757.02L216.18 753.27L217.15 749.69L218.11 746.29L219.08 743.07L220.05 740.02L221.01 737.14L221.98 734.44L222.95 731.9L223.92 729.52L224.88 727.3L225.85 725.24L226.82 723.32L227.78 721.55L228.75 719.91L229.72 718.4L230.68 717.02L231.65 715.75L232.62 714.6L233.59 713.56L234.55 712.61L235.52 711.76L236.49 711L237.45 710.32L238.42 709.72L239.39 709.19L240.36 708.74L241.32 708.35L242.29 708.02L243.26 707.76L244.22 707.55L245.19 707.4L246.16 707.31L247.13 707.27L248.09 707.29L249.06 707.37L250.03 707.5L250.99 707.68L251.96 707.93L252.93 708.23L253.89 708.59L254.86 709.02L255.83 709.51L256.8 710.06L257.76 710.69L258.73 711.38L259.7 712.14L260.66 712.98L261.63 713.89L262.6 714.88L263.57 715.94L264.53 717.08L265.5 718.3L266.47 719.59L267.43 720.96L268.4 722.41L269.37 723.93L270.34 725.52L271.3 727.19L272.27 728.92L273.24 730.73L274.2 732.6L275.17 734.53L276.14 736.52L277.1 738.57L278.07 740.67L279.04 742.82L280.01 745.01L280.97 747.25L281.94 749.53L282.91 751.85L283.87 754.2L284.84 756.58L285.81 758.99L286.78 761.43L287.74 763.89L288.71 766.37L289.68 768.87L290.64 771.39L291.61 773.93L292.58 776.49L293.54 779.06L294.51 781.65L295.48 784.26L296.45 786.88L297.41 789.52L298.38 792.18L299.35 794.86L300.31 797.57L301.28 800.29L302.25 803.05L303.22 805.83L304.18 808.64L305.15 811.48L306.12 814.36L307.08 817.28L308.05 820.23L309.02 823.22L309.99 826.26L310.95 829.34L311.92 832.46L312.89 835.63L313.85 838.85L314.82 842.12L315.79 845.44L316.75 848.8L317.72 852.22L318.69 855.68L319.66 859.19L320.62 862.74L321.59 866.34L322.56 869.98L323.52 873.66L324.49 877.38L325.46 881.14L326.43 884.92L327.39 888.73L328.36 892.57L329.33 896.43L330.29 900.3L331.26 904.18L332.23 908.07L333.2 911.96L334.16 915.85L335.13 919.72L336.1 923.58L337.06 927.43L338.03 931.24L339 935.03L339.96 938.78L340.93 942.48L341.9 946.14L342.87 949.74L343.83 953.29L344.8 956.77L345.77 960.19L346.73 963.53L347.7 966.79L348.67 969.97L349.64 973.07L350.6 976.07L351.57 978.98L352.54 981.79L353.5 984.51L354.47 987.12L355.44 989.62L356.4 992.02L357.37 994.32L358.34 996.5L359.31 998.58L360.27 1000.54L361.24 1002.4L362.21 1004.15L363.17 1005.8L364.14 1007.34L365.11 1008.78L366.08 1010.12L367.04 1011.37L368.01 1012.52L368.98 1013.59L369.94 1014.58L370.91 1015.48L371.88 1016.32L372.85 1017.08L373.81 1017.79L374.78 1018.44L375.75 1019.05L376.71 1019.61L377.68 1020.14L378.65 1020.64L379.61 1021.12L380.58 1021.58L381.55 1022.04L382.52 1022.5L383.48 1022.97L384.45 1023.45L385.42 1023.95L386.38 1024.49L387.35 1025.05L388.32 1025.66L389.29 1026.31L390.25 1027.01L391.22 1027.77L392.19 1028.59L393.15 1029.48L394.12 1030.43L395.09 1031.45L396.06 1032.55L397.02 1033.73L397.99 1034.98L398.96 1036.32L399.92 1037.73L400.89 1039.22L401.86 1040.79L402.82 1042.44L403.79 1044.17L404.76 1045.97L405.73 1047.85L406.69 1049.79L407.66 1051.81L408.63 1053.88L409.59 1056.01L410.56 1058.2L411.53 1060.44L412.5 1062.72L413.46 1065.04L414.43 1067.4L415.4 1069.78L416.36 1072.19L417.33 1074.61L418.3 1077.05L419.27 1079.49L420.23 1081.93L421.2 1084.36L422.17 1086.78L423.13 1089.19L424.1 1091.57L425.07 1093.92L426.03 1096.24L427 1098.53L427.97 1100.77L428.94 1102.97L429.9 1105.12L430.87 1107.22L431.84 1109.26L432.8 1111.25L433.77 1113.17L434.74 1115.04L435.71 1116.85L436.67 1118.59L437.64 1120.27L438.61 1121.89L439.57 1123.45L440.54 1124.94L441.51 1126.38L442.47 1127.75L443.44 1129.07L444.41 1130.34L445.38 1131.55L446.34 1132.72L447.31 1133.83L448.28 1134.91L449.24 1135.94L450.21 1136.94L451.18 1137.9L452.15 1138.83L453.11 1139.73L454.08 1140.61L455.05 1141.47L456.01 1142.31L456.98 1143.14L457.95 1143.95L458.92 1144.76L459.88 1145.56L460.85 1146.35L461.82 1147.14L462.78 1147.94L463.75 1148.73L464.72 1149.53L465.68 1150.33L466.65 1151.13L467.62 1151.94L468.59 1152.76L469.55 1153.58L470.52 1154.41L471.49 1155.25L472.45 1156.09L473.42 1156.94L474.39 1157.79L475.36 1158.65L476.32 1159.51L477.29 1160.37L478.26 1161.24L479.22 1162.1L480.19 1162.97L481.16 1163.83L482.13 1164.69L483.09 1165.54L484.06 1166.39L485.03 1167.23L485.99 1168.06L486.96 1168.89L487.93 1169.71L488.89 1170.51L489.86 1171.31L490.83 1172.09L491.8 1172.86L492.76 1173.62L493.73 1174.37L494.7 1175.1L495.66 1175.82L496.63 1176.53L497.6 1177.22L498.57 1177.9L499.53 1178.57L500.5 1179.22L501.47 1179.86L502.43 1180.49L503.4 1181.11L504.37 1181.71L505.33 1182.31L506.3 1182.89L507.27 1183.46L508.24 1184.03L509.2 1184.58L510.17 1185.12L511.14 1185.65L512.1 1186.17L513.07 1186.69L514.04 1187.19L515.01 1187.69L515.97 1188.18L516.94 1188.65L517.91 1189.12L518.87 1189.58L519.84 1190.04L520.81 1190.48L521.78 1190.91L522.74 1191.34L523.71 1191.75L524.68 1192.16L525.64 1192.56L526.61 1192.94L527.58 1193.32L528.54 1193.68L529.51 1194.04L530.48 1194.38L531.45 1194.72L532.41 1195.04L533.38 1195.35L534.35 1195.65L535.31 1195.94L536.28 1196.22L537.25 1196.49L538.22 1196.75L539.18 1196.99L540.15 1197.23L541.12 1197.45L542.08 1197.66L543.05 1197.86L544.02 1198.05L544.99 1198.23L545.95 1198.41L546.92 1198.57L547.89 1198.72L548.85 1198.86L549.82 1198.99L550.79 1199.12L551.75 1199.23L552.72 1199.34L553.69 1199.44L554.66 1199.54L555.62 1199.62L556.59 1199.71L557.56 1199.78L558.52 1199.85L559.49 1199.91L560.46 1199.97L561.43 1200.02L562.39 1200.07L563.36 1200.11L564.33 1200.15L565.29 1200.19L566.26 1200.22L567.23 1200.25L568.2 1200.28L569.16 1200.31L570.13 1200.33L571.1 1200.35L572.06 1200.37L573.03 1200.38L573.03 1200.5Z" fill="#f5deb3" stroke="#000" stroke-width="1.1" stroke-linejoin="round"/>
<path d="M217 1220V687.5" stroke="#cd2626" stroke-width="1.5" stroke-dasharray="6 6" stroke-linecap="round" fill="none"/>
</g>
<rect x="59.5" y="687.5" width="533" height="533" fill="none" stroke="#000" stroke-opacity="0.83" stroke-width="0.75"/>
<path d="M101.5 1220.5H505.9M101.5 1220.5v5.8M202.6 1220.5v5.8M303.7 1220.5v5.8M404.8 1220.5v5.8M505.9 1220.5v5.8M59.5 1200.5V748M59.5 1200.5h-5.8M59.5 1110h-5.8M59.5 1019.5h-5.8M59.5 929h-5.8M59.5 838.5h-5.8M59.5 748h-5.8" fill="none" stroke="#000" stroke-opacity="0.83" stroke-width="0.75"/>
<g font-size="10.4" text-anchor="middle">
<text x="101.5" y="1242.2">75</text>
<text x="202.6" y="1242.2">80</text>
<text x="303.7" y="1242.2">85</text>
<text x="404.8" y="1242.2">90</text>
<text x="505.9" y="1242.2">95</text>
<text transform="translate(45 1200.5) rotate(-90)">0.00</text>
<text transform="translate(45 1110) rotate(-90)">0.02</text>
<text transform="translate(45 1019.5) rotate(-90)">0.04</text>
<text transform="translate(45 929) rotate(-90)">0.06</text>
<text transform="translate(45 838.5) rotate(-90)">0.08</text>
<text transform="translate(45 748) rotate(-90)">0.10</text>
</g>
<text x="326" y="671.5" font-size="21.5" font-weight="bold" text-anchor="middle">Motif score threshold: 80.700</text>
<text x="326" y="1266.2" font-size="16.0" text-anchor="middle">Motif score</text>
<text transform="translate(22.2 954) rotate(-90)" font-size="15.6" text-anchor="middle">Density</text>
<g clip-path="url(#c3)">
<path d="M719.01 1200.5L719.01 1199.77L719.98 1199.69L720.94 1199.61L721.91 1199.51L722.87 1199.41L723.84 1199.29L724.81 1199.17L725.77 1199.03L726.74 1198.88L727.7 1198.72L728.67 1198.54L729.63 1198.35L730.6 1198.14L731.56 1197.92L732.53 1197.67L733.49 1197.41L734.46 1197.12L735.43 1196.81L736.39 1196.47L737.36 1196.11L738.32 1195.72L739.29 1195.3L740.25 1194.85L741.22 1194.37L742.18 1193.85L743.15 1193.3L744.12 1192.7L745.08 1192.07L746.05 1191.39L747.01 1190.66L747.98 1189.89L748.94 1189.07L749.91 1188.2L750.87 1187.27L751.84 1186.28L752.8 1185.24L753.77 1184.13L754.74 1182.96L755.7 1181.73L756.67 1180.42L757.63 1179.04L758.6 1177.59L759.56 1176.07L760.53 1174.47L761.49 1172.78L762.46 1171.02L763.43 1169.17L764.39 1167.23L765.36 1165.21L766.32 1163.1L767.29 1160.9L768.25 1158.61L769.22 1156.22L770.18 1153.74L771.15 1151.16L772.12 1148.49L773.08 1145.72L774.05 1142.86L775.01 1139.9L775.98 1136.85L776.94 1133.7L777.91 1130.45L778.87 1127.11L779.84 1123.69L780.8 1120.17L781.77 1116.56L782.74 1112.86L783.7 1109.09L784.67 1105.23L785.63 1101.29L786.6 1097.28L787.56 1093.2L788.53 1089.05L789.49 1084.84L790.46 1080.58L791.43 1076.26L792.39 1071.89L793.36 1067.48L794.32 1063.03L795.29 1058.56L796.25 1054.06L797.22 1049.53L798.18 1045L799.15 1040.46L800.11 1035.92L801.08 1031.39L802.05 1026.88L803.01 1022.38L803.98 1017.92L804.94 1013.49L805.91 1009.1L806.87 1004.76L807.84 1000.48L808.8 996.27L809.77 992.12L810.74 988.05L811.7 984.07L812.67 980.17L813.63 976.37L814.6 972.67L815.56 969.08L816.53 965.6L817.49 962.24L818.46 959.01L819.43 955.9L820.39 952.92L821.36 950.07L822.32 947.36L823.29 944.79L824.25 942.37L825.22 940.09L826.18 937.96L827.15 935.97L828.11 934.13L829.08 932.44L830.05 930.9L831.01 929.5L831.98 928.25L832.94 927.14L833.91 926.18L834.87 925.35L835.84 924.66L836.8 924.11L837.77 923.68L838.74 923.37L839.7 923.19L840.67 923.11L841.63 923.15L842.6 923.29L843.56 923.53L844.53 923.86L845.49 924.28L846.46 924.77L847.42 925.34L848.39 925.96L849.36 926.65L850.32 927.38L851.29 928.16L852.25 928.97L853.22 929.81L854.18 930.66L855.15 931.53L856.11 932.4L857.08 933.27L858.05 934.12L859.01 934.96L859.98 935.77L860.94 936.55L861.91 937.29L862.87 937.99L863.84 938.64L864.8 939.22L865.77 939.75L866.74 940.2L867.7 940.58L868.67 940.88L869.63 941.1L870.6 941.23L871.56 941.27L872.53 941.21L873.49 941.05L874.46 940.8L875.42 940.44L876.39 939.97L877.36 939.4L878.32 938.72L879.29 937.94L880.25 937.04L881.22 936.03L882.18 934.91L883.15 933.68L884.11 932.34L885.08 930.9L886.05 929.35L887.01 927.69L887.98 925.93L888.94 924.07L889.91 922.11L890.87 920.05L891.84 917.9L892.8 915.66L893.77 913.33L894.73 910.92L895.7 908.42L896.67 905.85L897.63 903.2L898.6 900.48L899.56 897.69L900.53 894.84L901.49 891.92L902.46 888.95L903.42 885.92L904.39 882.85L905.36 879.72L906.32 876.56L907.29 873.35L908.25 870.1L909.22 866.82L910.18 863.51L911.15 860.17L912.11 856.81L913.08 853.42L914.05 850.01L915.01 846.58L915.98 843.14L916.94 839.69L917.91 836.23L918.87 832.76L919.84 829.28L920.8 825.81L921.77 822.32L922.73 818.85L923.7 815.37L924.67 811.9L925.63 808.43L926.6 804.98L927.56 801.53L928.53 798.1L929.49 794.69L930.46 791.29L931.42 787.92L932.39 784.56L933.36 781.23L934.32 777.93L935.29 774.66L936.25 771.42L937.22 768.22L938.18 765.05L939.15 761.93L940.11 758.85L941.08 755.83L942.04 752.85L943.01 749.93L943.98 747.07L944.94 744.27L945.91 741.54L946.87 738.88L947.84 736.29L948.8 733.79L949.77 731.37L950.73 729.04L951.7 726.8L952.67 724.65L953.63 722.61L954.6 720.68L955.56 718.85L956.53 717.14L957.49 715.55L958.46 714.08L959.42 712.73L960.39 711.52L961.36 710.44L962.32 709.5L963.29 708.7L964.25 708.05L965.22 707.54L966.18 707.19L967.15 706.98L968.11 706.94L969.08 707.04L970.04 707.31L971.01 707.74L971.98 708.33L972.94 709.07L973.91 709.98L974.87 711.06L975.84 712.29L976.8 713.68L977.77 715.23L978.73 716.94L979.7 718.8L980.67 720.81L981.63 722.97L982.6 725.28L983.56 727.73L984.53 730.33L985.49 733.05L986.46 735.91L987.42 738.89L988.39 741.98L989.36 745.2L990.32 748.52L991.29 751.94L992.25 755.46L993.22 759.07L994.18 762.76L995.15 766.53L996.11 770.37L997.08 774.26L998.04 778.21L999.01 782.21L999.98 786.24L1000.94 790.31L1001.91 794.39L1002.87 798.5L1003.84 802.61L1004.8 806.72L1005.77 810.82L1006.73 814.91L1007.7 818.97L1008.67 823.01L1009.63 827.01L1010.6 830.97L1011.56 834.87L1012.53 838.72L1013.49 842.5L1014.46 846.22L1015.42 849.86L1016.39 853.42L1017.35 856.89L1018.32 860.27L1019.29 863.56L1020.25 866.74L1021.22 869.82L1022.18 872.8L1023.15 875.66L1024.11 878.41L1025.08 881.04L1026.04 883.55L1027.01 885.94L1027.98 888.2L1028.94 890.35L1029.91 892.36L1030.87 894.25L1031.84 896.02L1032.8 897.65L1033.77 899.16L1034.73 900.55L1035.7 901.81L1036.67 902.95L1037.63 903.97L1038.6 904.87L1039.56 905.65L1040.53 906.31L1041.49 906.87L1042.46 907.31L1043.42 907.65L1044.39 907.88L1045.35 908.02L1046.32 908.06L1047.29 908.01L1048.25 907.87L1049.22 907.65L1050.18 907.35L1051.15 906.97L1052.11 906.53L1053.08 906.02L1054.04 905.46L1055.01 904.84L1055.98 904.17L1056.94 903.45L1057.91 902.7L1058.87 901.91L1059.84 901.1L1060.8 900.26L1061.77 899.41L1062.73 898.55L1063.7 897.68L1064.66 896.81L1065.63 895.94L1066.6 895.09L1067.56 894.25L1068.53 893.43L1069.49 892.64L1070.46 891.88L1071.42 891.16L1072.39 890.48L1073.35 889.86L1074.32 889.28L1075.29 888.77L1076.25 888.31L1077.22 887.93L1078.18 887.62L1079.15 887.39L1080.11 887.24L1081.08 887.18L1082.04 887.21L1083.01 887.33L1083.98 887.56L1084.94 887.89L1085.91 888.32L1086.87 888.87L1087.84 889.53L1088.8 890.31L1089.77 891.2L1090.73 892.22L1091.7 893.37L1092.66 894.64L1093.63 896.04L1094.6 897.57L1095.56 899.23L1096.53 901.02L1097.49 902.95L1098.46 905.01L1099.42 907.2L1100.39 909.53L1101.35 911.99L1102.32 914.58L1103.29 917.3L1104.25 920.15L1105.22 923.13L1106.18 926.23L1107.15 929.46L1108.11 932.81L1109.08 936.27L1110.04 939.85L1111.01 943.54L1111.97 947.33L1112.94 951.22L1113.91 955.22L1114.87 959.3L1115.84 963.47L1116.8 967.73L1117.77 972.06L1118.73 976.46L1119.7 980.93L1120.66 985.46L1121.63 990.04L1122.6 994.67L1123.56 999.35L1124.53 1004.06L1125.49 1008.79L1126.46 1013.55L1127.42 1018.33L1128.39 1023.11L1129.35 1027.9L1130.32 1032.69L1131.29 1037.47L1132.25 1042.24L1133.22 1046.98L1134.18 1051.7L1135.15 1056.38L1136.11 1061.03L1137.08 1065.64L1138.04 1070.19L1139.01 1074.7L1139.97 1079.14L1140.94 1083.53L1141.91 1087.84L1142.87 1092.09L1143.84 1096.26L1144.8 1100.36L1145.77 1104.37L1146.73 1108.3L1147.7 1112.15L1148.66 1115.9L1149.63 1119.57L1150.6 1123.14L1151.56 1126.61L1152.53 1129.99L1153.49 1133.28L1154.46 1136.46L1155.42 1139.55L1156.39 1142.54L1157.35 1145.43L1158.32 1148.22L1159.28 1150.92L1160.25 1153.52L1161.22 1156.02L1162.18 1158.42L1163.15 1160.73L1164.11 1162.95L1165.08 1165.07L1166.04 1167.11L1167.01 1169.05L1167.97 1170.91L1168.94 1172.68L1169.91 1174.38L1170.87 1175.99L1171.84 1177.52L1172.8 1178.98L1173.77 1180.36L1174.73 1181.67L1175.7 1182.91L1176.66 1184.08L1177.63 1185.19L1178.6 1186.24L1179.56 1187.23L1180.53 1188.16L1181.49 1189.04L1182.46 1189.87L1183.42 1190.64L1184.39 1191.37L1185.35 1192.05L1186.32 1192.68L1187.28 1193.28L1188.25 1193.84L1189.22 1194.36L1190.18 1194.84L1191.15 1195.29L1192.11 1195.71L1193.08 1196.1L1194.04 1196.46L1195.01 1196.8L1195.97 1197.11L1196.94 1197.4L1197.91 1197.67L1198.87 1197.91L1199.84 1198.14L1200.8 1198.35L1201.77 1198.54L1202.73 1198.72L1203.7 1198.88L1204.66 1199.03L1205.63 1199.16L1206.59 1199.29L1207.56 1199.4L1208.53 1199.51L1209.49 1199.6L1210.46 1199.69L1211.42 1199.77L1212.39 1199.84L1212.39 1200.5Z" fill="#f5deb3" stroke="#000" stroke-width="1.1" stroke-linejoin="round"/>
<path d="M965.38 1220V687.5" stroke="#006400" stroke-width="1.5" stroke-dasharray="6 6" stroke-linecap="round" fill="none"/>
<path d="M967.62 1220V687.5" stroke="#006400" stroke-width="1.5" stroke-dasharray="6 6" stroke-linecap="round" fill="none"/>
</g>
<rect x="699.5" y="687.5" width="533" height="533" fill="none" stroke="#000" stroke-opacity="0.83" stroke-width="0.75"/>
<path d="M806.5 1220.5H1126.5M806.5 1220.5v5.8M966.5 1220.5v5.8M1126.5 1220.5v5.8M699.5 1200.5V697.34M699.5 1200.5h-5.8M699.5 1128.62h-5.8M699.5 1056.74h-5.8M699.5 984.86h-5.8M699.5 912.98h-5.8M699.5 841.1h-5.8M699.5 769.22h-5.8M699.5 697.34h-5.8" fill="none" stroke="#000" stroke-opacity="0.83" stroke-width="0.75"/>
<g font-size="10.4" text-anchor="middle">
<text x="806.5" y="1242.2">-500</text>
<text x="966.5" y="1242.2">0</text>
<text x="1126.5" y="1242.2">500</text>
<text transform="translate(685 1200.5) rotate(-90)">0.0000</text>
<text transform="translate(685 1128.62) rotate(-90)">0.0002</text>
<text transform="translate(685 1056.74) rotate(-90)">0.0004</text>
<text transform="translate(685 984.86) rotate(-90)">0.0006</text>
<text transform="translate(685 912.98) rotate(-90)">0.0008</text>
<text transform="translate(685 841.1) rotate(-90)">0.0010</text>
<text transform="translate(685 769.22) rotate(-90)">0.0012</text>
<text transform="translate(685 697.34) rotate(-90)">0.0014</text>
</g>
<text x="966" y="671.5" font-size="21.5" font-weight="bold" text-anchor="middle">Enrichment zone: 3.50</text>
<text x="966" y="1266.2" font-size="16.0" text-anchor="middle">Distance to peak summit</text>
<text transform="translate(662.2 954) rotate(-90)" font-size="15.6" text-anchor="middle">Density</text>
<path d="M1017.6 703.4H1041.6" stroke="#006400" stroke-width="1.13" stroke-dasharray="1.13 3.37" stroke-linecap="round" fill="none"/>
<path d="M1017.6 719H1041.6" stroke="#cd2626" stroke-width="1.13" stroke-dasharray="1.13 3.37" stroke-linecap="round" fill="none"/>
<ellipse cx="1029" cy="734.45" rx="3" ry="2.6" fill="#0000ff"/>
<g font-size="12.85"><text x="1052.1" y="707.6">enrichment zone = 3.5</text><text x="1052.1" y="723.4">motif score threshold = 80.700</text><text x="1052.1" y="739.1">centrality p-val = NS</text></g>
</svg>
</body></html>
